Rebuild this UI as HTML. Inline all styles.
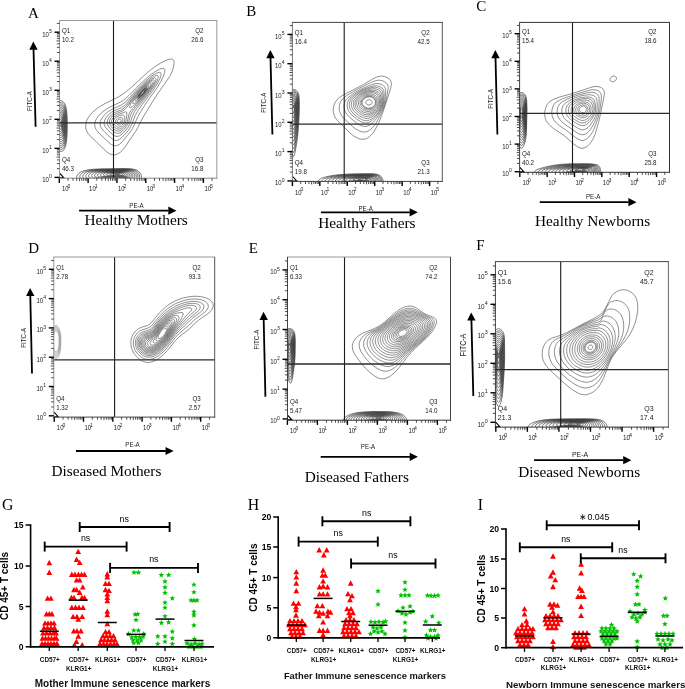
<!DOCTYPE html>
<html><head><meta charset="utf-8"><style>
html,body{margin:0;padding:0;background:#fff;}
svg{display:block;will-change:transform;}
</style></head><body>
<svg width="685" height="689" viewBox="0 0 685 689">
<rect width="685" height="689" fill="#fff"/>
<clipPath id="cA"><rect x="59.5" y="20.5" width="157.3" height="157.7"/></clipPath>
<path d="M114.8 154.8 113.2 154.9 111.2 154.5 109.2 153.6 106.8 151.9 103.6 149.1 96.2 141.6 90.6 136.4 88.2 133.6 87.0 131.6 86.3 130.0 85.8 128.0 85.7 126.0 85.8 124.0 86.2 122.0 86.9 120.0 88.0 118.0 89.9 115.2 92.5 112.4 95.2 109.9 98.4 107.5 104.0 104.1 118.0 97.2 121.8 94.8 125.7 92.0 132.4 86.4 147.2 72.7 151.2 69.4 154.8 66.7 160.8 62.9 166.4 60.2 168.8 59.4 170.4 59.1 171.6 59.0 172.8 59.4 173.6 60.3 174.0 61.6 174.0 63.6 173.7 66.0 173.0 68.8 172.1 71.6 171.0 74.0 169.5 76.8 159.2 91.5 151.6 103.2 142.8 117.6 137.8 127.6 135.8 131.2 129.2 140.7 125.0 147.2 122.4 150.4 120.0 152.5 117.2 154.1 114.8 154.8M116.4 145.6 114.8 145.8 113.2 145.4 111.6 144.6 110.0 143.5 107.6 141.4 98.8 132.8 96.7 130.4 95.9 129.2 95.2 127.6 94.9 126.0 94.8 124.4 94.9 122.8 95.3 121.2 96.7 118.4 98.1 116.4 100.3 114.0 102.8 111.7 105.2 109.9 110.0 107.1 120.0 102.3 122.6 100.8 125.2 98.8 129.2 95.2 143.2 81.2 147.6 77.3 152.0 73.9 156.0 71.1 159.6 69.2 162.4 68.3 164.0 68.5 164.7 69.2 164.9 70.0 164.7 72.4 163.4 76.4 161.0 81.2 157.5 87.2 147.2 101.5 140.8 111.4 138.0 116.4 133.9 125.6 131.8 129.6 129.5 132.8 122.0 142.2 119.2 144.5 117.6 145.3 116.4 145.6M116.8 140.5 115.6 140.5 114.4 140.2 111.6 138.5 109.2 136.4 103.5 130.8 101.5 128.4 100.3 126.0 100.1 123.2 100.6 120.8 102.0 118.0 104.9 114.4 106.8 112.6 108.8 111.2 112.8 108.9 121.0 105.2 124.4 102.9 127.6 99.8 135.8 90.8 140.4 86.0 145.2 81.4 150.0 77.4 153.2 75.1 156.4 73.2 158.8 72.4 159.6 72.3 160.4 72.5 160.8 72.9 161.1 73.6 161.0 75.6 160.0 78.4 158.2 82.0 155.9 86.0 152.7 90.8 141.9 104.8 137.6 111.2 135.2 115.6 131.8 124.4 129.6 128.4 127.0 132.0 122.0 137.5 119.2 139.6 116.8 140.5M117.2 136.4 116.0 136.3 114.8 135.9 112.0 134.1 107.4 129.6 105.1 126.8 104.3 124.8 104.1 122.4 104.7 120.0 106.0 117.6 108.3 114.8 111.2 112.4 114.4 110.7 121.2 107.8 122.8 106.8 124.4 105.6 126.8 103.1 133.7 94.8 138.7 89.2 143.6 84.3 148.4 80.1 151.6 77.8 154.4 76.1 156.4 75.4 157.7 75.6 158.1 76.0 158.3 76.8 158.1 78.4 157.4 80.4 155.8 83.6 153.0 88.0 149.0 93.6 137.8 107.2 134.8 111.2 132.8 115.2 129.8 124.0 127.8 127.6 125.3 130.8 122.0 134.1 119.6 135.8 118.4 136.2 117.2 136.4M118.4 133.3 117.2 133.3 116.0 133.0 113.6 131.7 110.4 128.8 108.2 126.0 107.4 124.0 107.2 122.0 107.6 120.0 108.9 117.6 110.8 115.3 113.2 113.5 115.6 112.2 121.2 110.0 124.0 108.2 126.8 105.3 132.6 97.6 136.2 93.2 139.9 89.2 143.6 85.5 147.6 81.9 151.2 79.4 154.0 78.1 154.8 77.9 155.6 78.2 155.9 78.8 156.0 79.6 155.3 82.0 153.4 85.6 151.0 89.2 145.5 96.4 134.4 108.8 132.0 112.0 130.5 115.2 128.4 122.8 127.4 124.8 126.2 126.8 124.4 129.1 122.0 131.5 120.4 132.6 118.4 133.3M119.6 130.8 117.6 131.1 115.6 130.4 113.2 128.7 110.8 126.0 109.7 124.0 109.4 122.0 109.8 120.0 110.8 118.0 112.4 116.1 114.4 114.6 116.8 113.4 122.0 111.3 124.8 109.5 127.2 106.9 131.8 100.0 135.1 95.6 138.1 92.0 141.5 88.4 145.6 84.5 149.2 81.7 152.0 80.2 152.8 80.0 153.6 80.0 154.0 80.4 154.1 80.8 153.8 82.8 152.7 85.2 150.7 88.4 147.5 92.8 143.6 97.4 139.2 102.2 132.5 108.8 130.8 110.8 129.8 112.4 129.0 114.0 127.4 121.2 125.8 124.8 124.5 126.8 122.8 128.7 121.2 130.0 119.6 130.8M130.4 107.7 129.7 107.6 129.6 106.8 130.1 105.2 131.2 102.8 134.2 98.0 137.9 93.2 142.4 88.3 146.8 84.4 150.0 82.3 151.2 81.9 152.1 82.0 152.4 82.8 152.3 83.6 151.1 86.4 148.5 90.4 145.2 94.6 141.2 99.0 136.8 103.2 132.8 106.4 130.4 107.7M119.6 128.9 118.0 129.1 116.4 128.6 114.8 127.5 112.9 125.6 112.0 124.2 111.5 122.8 111.5 121.2 112.0 119.6 112.6 118.4 113.6 117.2 116.0 115.5 118.4 114.4 124.8 112.1 125.6 111.9 126.4 111.9 126.8 112.8 126.8 114.8 126.2 119.6 125.5 122.4 124.5 124.4 123.0 126.4 121.2 128.1 119.6 128.9M134.0 103.7 133.2 103.8 132.8 103.4 132.9 102.4 133.3 101.2 135.3 97.6 138.3 93.6 142.0 89.5 145.6 86.2 148.8 84.0 149.6 83.7 150.4 83.7 150.7 84.0 150.7 84.8 150.0 86.8 148.0 90.0 145.6 93.2 142.4 96.9 139.2 100.0 136.4 102.3 134.0 103.7M120.0 126.9 118.8 127.1 117.6 127.0 116.4 126.4 115.2 125.4 114.3 124.4 113.6 123.0 113.4 121.6 113.6 120.4 114.1 119.2 114.8 118.3 116.0 117.3 117.2 116.6 119.2 115.7 121.2 115.2 122.8 114.9 123.6 115.1 124.4 115.8 124.7 117.2 124.7 119.6 124.2 121.6 123.5 123.2 122.5 124.8 121.2 126.1 120.0 126.9M136.4 100.9 135.6 101.1 135.2 100.8 135.2 100.0 135.4 99.2 136.7 96.8 139.2 93.4 142.0 90.3 144.8 87.7 147.2 86.0 148.0 85.6 148.8 85.6 149.0 86.4 148.5 88.0 147.2 90.1 145.2 92.8 142.8 95.6 140.4 97.9 138.0 99.9 136.4 100.9M119.6 124.9 118.8 125.0 118.0 124.8 116.7 124.0 116.0 123.2 115.6 122.4 115.6 120.8 116.4 119.3 117.6 118.3 119.6 117.5 120.8 117.3 121.6 117.4 122.4 117.9 122.8 118.8 122.8 120.0 122.6 121.2 122.1 122.4 121.3 123.6 120.4 124.5 119.6 124.9M137.6 99.3 136.8 99.4 136.6 99.2 136.8 98.0 137.8 96.0 139.6 93.5 142.0 90.8 144.4 88.5 146.4 87.1 147.2 86.8 147.7 86.8 147.9 87.2 147.9 87.6 147.4 88.8 144.8 92.7 140.8 97.0 139.2 98.3 137.6 99.3M119.6 123.0 118.8 123.1 118.0 122.8 117.4 122.0 117.3 121.2 117.6 120.4 118.4 119.6 119.6 119.2 120.4 119.2 121.0 119.6 121.1 120.8 120.7 122.0 119.6 123.0M138.8 98.0 138.0 98.3 137.6 98.1 137.6 97.6 138.3 96.0 139.9 93.6 142.0 91.2 144.0 89.3 145.6 88.1 146.8 87.7 147.0 88.0 147.0 88.4 146.8 89.2 144.8 92.2 141.6 95.8 138.8 98.0M138.8 97.7 138.4 97.8 138.0 97.6 138.1 96.8 139.0 95.2 140.4 93.2 144.0 89.5 145.6 88.4 146.4 88.1 146.7 88.4 146.4 89.6 144.4 92.5 141.2 96.0 138.8 97.7M138.8 97.3 138.6 97.2 138.5 96.8 138.9 95.6 140.0 94.0 141.6 92.0 143.2 90.4 144.8 89.1 145.6 88.7 146.0 88.6 146.2 88.8 146.1 89.6 145.7 90.4 143.6 93.3 140.8 96.1 139.6 97.0 138.8 97.3M140.0 96.4 139.2 96.7 139.0 96.4 139.1 96.0 139.6 94.8 140.8 93.2 142.4 91.4 144.0 89.9 145.2 89.2 145.7 89.2 145.8 89.6 145.5 90.4 144.0 92.6 142.0 94.8 140.0 96.4M140.0 96.0 139.6 96.0 139.6 95.5 140.4 94.0 141.2 93.0 143.6 90.5 144.4 89.9 145.2 89.7 145.2 90.4 143.6 92.8 141.6 94.9 140.0 96.0M140.4 95.3 140.3 94.8 140.5 94.4 141.6 92.8 143.6 90.8 144.5 90.4 144.5 91.2 143.2 93.0 141.6 94.6 140.4 95.3" fill="none" stroke="#444" stroke-width="0.6" clip-path="url(#cA)"/>
<path d="M62.0 151.3 61.2 151.4 60.0 151.3 58.4 150.4 57.2 149.0 56.2 146.8 55.1 142.8 54.2 138.4 53.5 132.0 53.2 127.2 53.2 122.0 53.5 117.2 54.2 111.6 55.1 106.8 56.0 104.3 57.2 102.4 58.8 101.1 60.4 100.6 62.0 101.0 63.2 101.8 64.4 103.2 65.4 105.2 66.2 108.0 66.6 110.8 67.0 114.8 67.2 119.2 67.3 126.0 67.1 134.8 66.7 139.6 66.3 142.8 65.5 146.4 64.5 148.8 63.5 150.4 62.0 151.3M61.6 149.3 60.0 149.2 58.4 148.3 57.2 146.6 56.3 144.4 55.3 140.8 54.6 136.4 54.1 132.0 53.8 126.4 53.8 121.2 54.1 116.4 55.0 110.8 55.7 107.6 56.5 105.6 57.6 103.9 58.8 102.9 60.4 102.4 61.6 102.6 62.8 103.3 64.0 104.6 64.9 106.4 65.7 109.2 66.2 112.0 66.7 119.2 66.6 133.2 66.3 138.0 65.9 141.2 65.1 144.8 64.1 147.2 62.8 148.8 61.6 149.3M62.0 147.2 60.4 147.4 58.8 146.6 57.6 145.2 56.9 143.6 55.9 140.0 55.1 136.0 54.6 131.6 54.3 126.8 54.3 122.4 54.5 118.0 55.0 114.0 55.9 109.6 56.7 107.2 57.6 105.7 58.8 104.6 60.4 104.1 61.6 104.3 62.8 105.1 63.6 106.0 64.5 107.6 65.1 109.6 65.7 112.4 66.2 118.8 66.2 130.8 65.9 136.0 65.6 139.2 64.9 142.4 64.1 144.8 63.2 146.3 62.0 147.2M62.0 145.2 60.8 145.5 59.2 144.9 58.0 143.6 57.2 142.0 56.5 139.6 55.7 136.0 55.1 131.2 54.9 127.2 54.8 123.2 55.0 118.8 55.5 114.8 56.3 110.8 56.9 108.8 58.0 107.1 59.2 106.1 60.4 105.7 61.6 106.0 62.8 106.8 63.6 107.9 64.2 109.2 64.8 111.2 65.3 113.6 65.7 119.2 65.7 130.0 65.5 134.8 65.1 138.0 64.6 140.8 63.9 142.8 63.2 144.1 62.0 145.2M62.0 143.2 60.8 143.5 59.6 143.2 58.4 142.1 57.6 140.5 56.9 138.4 56.1 134.8 55.4 127.2 55.3 123.2 55.5 119.6 55.9 116.0 56.7 112.0 57.2 110.3 58.0 108.9 59.2 107.8 60.4 107.4 61.6 107.7 62.4 108.2 63.2 109.2 63.8 110.4 64.7 114.0 65.2 119.6 65.2 128.8 64.7 136.4 64.3 138.8 63.6 141.0 62.8 142.5 62.0 143.2M61.6 141.4 60.4 141.5 59.2 140.9 58.4 139.9 57.7 138.4 57.0 136.0 56.5 133.2 55.9 126.0 56.1 119.2 57.1 113.2 57.6 111.6 58.4 110.2 59.2 109.5 60.4 109.1 61.6 109.4 62.4 110.0 63.6 112.0 64.3 115.2 64.8 120.0 64.7 129.2 64.3 135.2 63.8 137.6 63.2 139.5 62.4 140.8 61.6 141.4M61.6 139.4 60.8 139.6 59.6 139.2 58.8 138.3 58.2 137.2 57.1 132.8 56.4 126.4 56.5 120.4 57.4 114.8 57.9 113.2 58.5 112.0 59.2 111.2 60.4 110.8 61.2 110.9 62.0 111.4 63.2 113.2 63.9 116.0 64.3 120.4 64.3 128.4 63.9 134.0 62.9 137.6 62.4 138.6 61.6 139.4M60.8 137.6 60.0 137.4 59.2 136.8 58.1 134.4 57.3 130.4 56.9 124.8 57.1 120.0 57.9 115.6 58.8 113.5 59.6 112.7 60.4 112.4 61.2 112.6 62.0 113.2 62.9 114.8 63.6 118.0 63.8 122.4 63.7 129.6 63.3 133.6 62.4 136.4 61.6 137.3 60.8 137.6M60.8 135.6 60.0 135.4 59.6 135.1 58.9 134.0 58.5 132.8 57.8 129.2 57.4 124.8 57.6 120.4 58.3 116.8 59.2 114.8 59.6 114.5 60.4 114.1 61.2 114.3 61.6 114.6 62.4 116.0 63.1 118.8 63.3 122.4 63.2 128.8 62.8 132.4 62.0 134.7 61.6 135.2 60.8 135.6M60.8 133.6 60.0 133.4 59.6 133.0 58.8 131.2 58.3 128.4 58.0 124.8 58.1 121.6 58.6 118.4 59.2 116.8 59.6 116.3 60.4 115.8 61.0 116.0 61.5 116.4 62.1 117.6 62.6 119.6 62.8 122.8 62.7 127.6 62.4 130.8 61.6 133.0 60.8 133.6M61.2 131.2 60.8 131.5 60.4 131.5 59.6 130.7 58.9 128.4 58.6 125.6 58.6 122.8 58.9 120.0 59.6 118.2 60.4 117.6 61.2 117.9 61.6 118.6 62.0 119.9 62.3 122.0 62.1 128.4 61.7 130.4 61.2 131.2M60.8 129.3 60.4 129.3 60.0 129.0 59.6 128.1 59.1 124.8 59.2 122.8 59.4 121.2 59.8 120.0 60.4 119.5 60.8 119.5 61.3 120.4 61.7 123.2 61.6 127.2 61.2 128.8 60.8 129.3M60.8 126.5 60.4 126.7 60.0 126.0 59.8 124.8 59.9 122.8 60.4 121.7 60.8 122.0 61.0 123.2 61.1 124.8 60.8 126.5" fill="none" stroke="#222" stroke-width="0.6" clip-path="url(#cA)"/>
<path d="M137.2 180.8 127.6 180.4 114.0 180.8 84.8 180.7 81.2 180.2 78.4 179.3 77.6 178.8 76.9 178.0 76.7 176.8 77.1 175.6 77.8 174.4 79.0 173.2 80.4 172.1 83.6 170.8 88.0 169.9 93.2 169.3 100.8 168.9 122.0 168.6 129.2 168.7 133.2 169.1 136.4 170.0 138.5 171.2 140.3 173.2 141.1 174.8 141.4 176.0 141.4 177.6 141.1 178.8 140.6 179.6 139.6 180.4 137.2 180.8M137.2 180.1 134.4 180.3 126.4 179.9 114.4 180.3 87.6 180.2 84.4 179.8 82.0 179.1 80.2 178.0 79.8 176.8 80.1 175.6 80.9 174.4 82.0 173.2 83.1 172.4 85.8 171.2 90.0 170.3 94.8 169.7 102.0 169.3 121.6 169.0 128.0 169.1 131.6 169.4 134.4 170.1 136.4 171.0 137.9 172.4 138.8 173.6 139.3 174.8 139.6 176.0 139.6 177.2 139.4 178.4 138.9 179.2 138.0 179.8 137.2 180.1M135.6 179.6 133.2 179.8 125.2 179.4 114.0 179.8 90.0 179.7 86.8 179.3 84.4 178.6 83.1 177.6 82.7 176.4 83.0 175.6 83.7 174.4 85.6 172.6 88.0 171.5 92.0 170.6 96.4 170.1 102.8 169.7 121.2 169.4 127.2 169.5 130.8 169.8 133.2 170.4 135.2 171.4 136.6 172.8 137.7 174.8 138.0 176.0 137.9 177.2 137.7 178.0 137.2 178.8 136.7 179.2 135.6 179.6M133.2 179.2 125.2 179.0 114.8 179.3 92.4 179.2 89.6 178.9 87.6 178.3 86.3 177.6 85.9 177.2 85.7 176.4 85.8 175.6 86.5 174.4 88.2 172.8 90.8 171.7 94.0 170.9 98.0 170.4 104.0 170.1 120.8 169.8 126.4 169.9 129.6 170.2 132.1 170.8 134.0 171.8 135.3 173.2 135.9 174.4 136.3 175.6 136.3 176.8 136.1 177.6 135.6 178.4 135.0 178.8 133.2 179.2M117.2 178.8 97.2 178.8 93.6 178.6 91.2 178.2 89.7 177.6 88.8 176.8 88.6 176.0 88.8 175.2 89.3 174.4 90.5 173.2 91.9 172.4 94.4 171.6 97.6 171.0 101.2 170.7 111.6 170.3 123.6 170.2 126.8 170.4 129.6 170.8 131.6 171.4 133.0 172.4 133.9 173.6 134.6 175.2 134.7 176.4 134.3 177.6 133.6 178.2 132.8 178.5 130.8 178.7 123.6 178.5 117.2 178.8M131.2 178.1 129.2 178.2 123.2 178.1 115.2 178.4 97.2 178.2 94.8 177.9 92.8 177.3 92.0 176.8 91.7 176.4 91.6 175.6 91.9 174.8 92.5 174.0 94.1 172.8 96.2 172.0 98.8 171.5 102.4 171.1 107.2 170.8 120.4 170.6 124.8 170.7 127.2 170.9 129.2 171.3 130.7 172.0 131.7 172.8 132.7 174.4 133.0 176.0 132.7 177.2 132.0 177.8 131.2 178.1M129.2 177.6 122.8 177.6 115.2 177.9 99.6 177.7 97.6 177.5 96.0 177.1 94.8 176.4 94.5 175.6 95.0 174.4 96.3 173.2 98.1 172.4 100.8 171.8 104.4 171.4 108.8 171.2 124.0 171.1 128.0 171.7 129.5 172.4 130.4 173.2 131.2 174.8 131.2 176.4 130.6 177.2 129.2 177.6M120.0 177.2 114.8 177.4 101.2 177.1 99.2 176.8 98.2 176.4 97.7 176.0 97.5 175.2 98.2 174.0 99.2 173.2 100.8 172.6 102.8 172.2 108.4 171.6 119.2 171.4 123.6 171.5 126.7 172.0 127.7 172.4 128.7 173.2 129.6 174.8 129.7 175.6 129.4 176.4 128.4 177.0 126.8 177.2 120.0 177.2M118.4 176.8 104.0 176.6 102.2 176.4 101.2 176.1 100.6 175.6 100.4 175.2 100.7 174.4 101.5 173.6 103.2 172.9 104.8 172.5 109.6 172.0 118.0 171.8 122.8 171.9 125.6 172.4 127.0 173.2 127.7 174.0 127.9 174.8 127.9 175.6 127.7 176.0 126.8 176.5 125.2 176.7 118.4 176.8M124.8 176.0 116.4 176.3 107.2 176.2 105.4 176.0 104.0 175.6 103.5 175.2 103.5 174.8 103.9 174.0 104.5 173.6 105.5 173.2 107.6 172.7 112.8 172.3 121.6 172.3 124.4 172.8 125.7 173.6 126.2 174.4 126.2 175.2 126.0 175.6 124.8 176.0M122.4 175.6 116.4 175.8 109.2 175.6 107.1 175.2 106.6 174.8 106.6 174.4 107.7 173.6 110.4 173.0 114.4 172.7 120.8 172.7 123.3 173.2 124.3 174.0 124.5 174.8 124.2 175.2 122.4 175.6M118.8 175.2 112.4 175.1 110.3 174.8 109.8 174.4 110.2 174.0 112.0 173.5 118.4 173.1 120.2 173.2 121.6 173.5 122.5 174.0 122.6 174.4 122.2 174.8 121.6 175.0 118.8 175.2M119.2 174.4 115.2 174.4 115.0 174.4 114.9 174.0 118.0 173.8 119.7 174.0 119.2 174.4" fill="none" stroke="#222" stroke-width="0.6" clip-path="url(#cA)"/>
<polyline points="59.8,173.3 63.8,177.8 59.8,177.8" fill="none" stroke="#000" stroke-width="1.1"/>
<line x1="113.50" y1="20.50" x2="113.50" y2="178.20" stroke="#1a1a1a" stroke-width="1.1" />
<line x1="59.50" y1="122.80" x2="216.80" y2="122.80" stroke="#2a2a2a" stroke-width="1.3" />
<line x1="59.00" y1="20.50" x2="217.30" y2="20.50" stroke="#999" stroke-width="1.0" />
<line x1="216.80" y1="20.50" x2="216.80" y2="178.70" stroke="#999" stroke-width="1.0" />
<line x1="59.00" y1="178.20" x2="217.30" y2="178.20" stroke="#888" stroke-width="1.0" />
<line x1="59.50" y1="20.50" x2="59.50" y2="178.70" stroke="#999" stroke-width="1.0" />
<line x1="59.30" y1="178.20" x2="59.30" y2="182.90" stroke="#000" stroke-width="1.4" />
<text transform="translate(61.90 191.30) scale(1.0 1.12)" font-size="6.0" text-anchor="start" font-family='"Liberation Sans", sans-serif' font-weight="normal" fill="#222" >10</text>
<text transform="translate(67.48 187.70) scale(1.0 1.12)" font-size="5.1" text-anchor="start" font-family='"Liberation Sans", sans-serif' font-weight="normal" fill="#222" >0</text>
<line x1="54.50" y1="177.40" x2="59.50" y2="177.40" stroke="#000" stroke-width="1.4" />
<text transform="translate(48.80 181.90) scale(1.0 1.12)" font-size="6.0" text-anchor="end" font-family='"Liberation Sans", sans-serif' font-weight="normal" fill="#222" >10</text>
<text transform="translate(51.80 178.00) scale(1.0 1.12)" font-size="5.1" text-anchor="end" font-family='"Liberation Sans", sans-serif' font-weight="normal" fill="#222" >0</text>
<line x1="67.98" y1="178.20" x2="67.98" y2="180.80" stroke="#222" stroke-width="0.8" />
<line x1="56.90" y1="168.66" x2="59.50" y2="168.66" stroke="#222" stroke-width="0.8" />
<line x1="73.05" y1="178.20" x2="73.05" y2="180.80" stroke="#222" stroke-width="0.8" />
<line x1="56.90" y1="163.54" x2="59.50" y2="163.54" stroke="#222" stroke-width="0.8" />
<line x1="76.65" y1="178.20" x2="76.65" y2="180.80" stroke="#222" stroke-width="0.8" />
<line x1="56.90" y1="159.92" x2="59.50" y2="159.92" stroke="#222" stroke-width="0.8" />
<line x1="79.44" y1="178.20" x2="79.44" y2="181.20" stroke="#222" stroke-width="0.8" />
<line x1="56.50" y1="157.10" x2="59.50" y2="157.10" stroke="#222" stroke-width="0.8" />
<line x1="81.73" y1="178.20" x2="81.73" y2="180.80" stroke="#222" stroke-width="0.8" />
<line x1="56.90" y1="154.80" x2="59.50" y2="154.80" stroke="#222" stroke-width="0.8" />
<line x1="83.66" y1="178.20" x2="83.66" y2="180.80" stroke="#222" stroke-width="0.8" />
<line x1="56.90" y1="152.86" x2="59.50" y2="152.86" stroke="#222" stroke-width="0.8" />
<line x1="85.33" y1="178.20" x2="85.33" y2="180.80" stroke="#222" stroke-width="0.8" />
<line x1="56.90" y1="151.17" x2="59.50" y2="151.17" stroke="#222" stroke-width="0.8" />
<line x1="86.80" y1="178.20" x2="86.80" y2="180.80" stroke="#222" stroke-width="0.8" />
<line x1="56.90" y1="149.69" x2="59.50" y2="149.69" stroke="#222" stroke-width="0.8" />
<line x1="88.12" y1="178.20" x2="88.12" y2="182.90" stroke="#000" stroke-width="1.4" />
<text transform="translate(89.12 191.30) scale(1.0 1.12)" font-size="6.0" text-anchor="start" font-family='"Liberation Sans", sans-serif' font-weight="normal" fill="#222" >10</text>
<text transform="translate(94.70 187.70) scale(1.0 1.12)" font-size="5.1" text-anchor="start" font-family='"Liberation Sans", sans-serif' font-weight="normal" fill="#222" >1</text>
<line x1="54.50" y1="148.36" x2="59.50" y2="148.36" stroke="#000" stroke-width="1.4" />
<text transform="translate(48.80 152.86) scale(1.0 1.12)" font-size="6.0" text-anchor="end" font-family='"Liberation Sans", sans-serif' font-weight="normal" fill="#222" >10</text>
<text transform="translate(51.80 148.96) scale(1.0 1.12)" font-size="5.1" text-anchor="end" font-family='"Liberation Sans", sans-serif' font-weight="normal" fill="#222" >1</text>
<line x1="96.80" y1="178.20" x2="96.80" y2="180.80" stroke="#222" stroke-width="0.8" />
<line x1="56.90" y1="139.62" x2="59.50" y2="139.62" stroke="#222" stroke-width="0.8" />
<line x1="101.87" y1="178.20" x2="101.87" y2="180.80" stroke="#222" stroke-width="0.8" />
<line x1="56.90" y1="134.50" x2="59.50" y2="134.50" stroke="#222" stroke-width="0.8" />
<line x1="105.47" y1="178.20" x2="105.47" y2="180.80" stroke="#222" stroke-width="0.8" />
<line x1="56.90" y1="130.88" x2="59.50" y2="130.88" stroke="#222" stroke-width="0.8" />
<line x1="108.26" y1="178.20" x2="108.26" y2="181.20" stroke="#222" stroke-width="0.8" />
<line x1="56.50" y1="128.06" x2="59.50" y2="128.06" stroke="#222" stroke-width="0.8" />
<line x1="110.55" y1="178.20" x2="110.55" y2="180.80" stroke="#222" stroke-width="0.8" />
<line x1="56.90" y1="125.76" x2="59.50" y2="125.76" stroke="#222" stroke-width="0.8" />
<line x1="112.48" y1="178.20" x2="112.48" y2="180.80" stroke="#222" stroke-width="0.8" />
<line x1="56.90" y1="123.82" x2="59.50" y2="123.82" stroke="#222" stroke-width="0.8" />
<line x1="114.15" y1="178.20" x2="114.15" y2="180.80" stroke="#222" stroke-width="0.8" />
<line x1="56.90" y1="122.13" x2="59.50" y2="122.13" stroke="#222" stroke-width="0.8" />
<line x1="115.62" y1="178.20" x2="115.62" y2="180.80" stroke="#222" stroke-width="0.8" />
<line x1="56.90" y1="120.65" x2="59.50" y2="120.65" stroke="#222" stroke-width="0.8" />
<line x1="116.94" y1="178.20" x2="116.94" y2="182.90" stroke="#000" stroke-width="1.4" />
<text transform="translate(117.94 191.30) scale(1.0 1.12)" font-size="6.0" text-anchor="start" font-family='"Liberation Sans", sans-serif' font-weight="normal" fill="#222" >10</text>
<text transform="translate(123.52 187.70) scale(1.0 1.12)" font-size="5.1" text-anchor="start" font-family='"Liberation Sans", sans-serif' font-weight="normal" fill="#222" >2</text>
<line x1="54.50" y1="119.32" x2="59.50" y2="119.32" stroke="#000" stroke-width="1.4" />
<text transform="translate(48.80 123.82) scale(1.0 1.12)" font-size="6.0" text-anchor="end" font-family='"Liberation Sans", sans-serif' font-weight="normal" fill="#222" >10</text>
<text transform="translate(51.80 119.92) scale(1.0 1.12)" font-size="5.1" text-anchor="end" font-family='"Liberation Sans", sans-serif' font-weight="normal" fill="#222" >2</text>
<line x1="125.62" y1="178.20" x2="125.62" y2="180.80" stroke="#222" stroke-width="0.8" />
<line x1="56.90" y1="110.58" x2="59.50" y2="110.58" stroke="#222" stroke-width="0.8" />
<line x1="130.69" y1="178.20" x2="130.69" y2="180.80" stroke="#222" stroke-width="0.8" />
<line x1="56.90" y1="105.46" x2="59.50" y2="105.46" stroke="#222" stroke-width="0.8" />
<line x1="134.29" y1="178.20" x2="134.29" y2="180.80" stroke="#222" stroke-width="0.8" />
<line x1="56.90" y1="101.84" x2="59.50" y2="101.84" stroke="#222" stroke-width="0.8" />
<line x1="137.08" y1="178.20" x2="137.08" y2="181.20" stroke="#222" stroke-width="0.8" />
<line x1="56.50" y1="99.02" x2="59.50" y2="99.02" stroke="#222" stroke-width="0.8" />
<line x1="139.37" y1="178.20" x2="139.37" y2="180.80" stroke="#222" stroke-width="0.8" />
<line x1="56.90" y1="96.72" x2="59.50" y2="96.72" stroke="#222" stroke-width="0.8" />
<line x1="141.30" y1="178.20" x2="141.30" y2="180.80" stroke="#222" stroke-width="0.8" />
<line x1="56.90" y1="94.78" x2="59.50" y2="94.78" stroke="#222" stroke-width="0.8" />
<line x1="142.97" y1="178.20" x2="142.97" y2="180.80" stroke="#222" stroke-width="0.8" />
<line x1="56.90" y1="93.09" x2="59.50" y2="93.09" stroke="#222" stroke-width="0.8" />
<line x1="144.44" y1="178.20" x2="144.44" y2="180.80" stroke="#222" stroke-width="0.8" />
<line x1="56.90" y1="91.61" x2="59.50" y2="91.61" stroke="#222" stroke-width="0.8" />
<line x1="145.76" y1="178.20" x2="145.76" y2="182.90" stroke="#000" stroke-width="1.4" />
<text transform="translate(146.76 191.30) scale(1.0 1.12)" font-size="6.0" text-anchor="start" font-family='"Liberation Sans", sans-serif' font-weight="normal" fill="#222" >10</text>
<text transform="translate(152.34 187.70) scale(1.0 1.12)" font-size="5.1" text-anchor="start" font-family='"Liberation Sans", sans-serif' font-weight="normal" fill="#222" >3</text>
<line x1="54.50" y1="90.28" x2="59.50" y2="90.28" stroke="#000" stroke-width="1.4" />
<text transform="translate(48.80 94.78) scale(1.0 1.12)" font-size="6.0" text-anchor="end" font-family='"Liberation Sans", sans-serif' font-weight="normal" fill="#222" >10</text>
<text transform="translate(51.80 90.88) scale(1.0 1.12)" font-size="5.1" text-anchor="end" font-family='"Liberation Sans", sans-serif' font-weight="normal" fill="#222" >3</text>
<line x1="154.44" y1="178.20" x2="154.44" y2="180.80" stroke="#222" stroke-width="0.8" />
<line x1="56.90" y1="81.54" x2="59.50" y2="81.54" stroke="#222" stroke-width="0.8" />
<line x1="159.51" y1="178.20" x2="159.51" y2="180.80" stroke="#222" stroke-width="0.8" />
<line x1="56.90" y1="76.42" x2="59.50" y2="76.42" stroke="#222" stroke-width="0.8" />
<line x1="163.11" y1="178.20" x2="163.11" y2="180.80" stroke="#222" stroke-width="0.8" />
<line x1="56.90" y1="72.80" x2="59.50" y2="72.80" stroke="#222" stroke-width="0.8" />
<line x1="165.90" y1="178.20" x2="165.90" y2="181.20" stroke="#222" stroke-width="0.8" />
<line x1="56.50" y1="69.98" x2="59.50" y2="69.98" stroke="#222" stroke-width="0.8" />
<line x1="168.19" y1="178.20" x2="168.19" y2="180.80" stroke="#222" stroke-width="0.8" />
<line x1="56.90" y1="67.68" x2="59.50" y2="67.68" stroke="#222" stroke-width="0.8" />
<line x1="170.12" y1="178.20" x2="170.12" y2="180.80" stroke="#222" stroke-width="0.8" />
<line x1="56.90" y1="65.74" x2="59.50" y2="65.74" stroke="#222" stroke-width="0.8" />
<line x1="171.79" y1="178.20" x2="171.79" y2="180.80" stroke="#222" stroke-width="0.8" />
<line x1="56.90" y1="64.05" x2="59.50" y2="64.05" stroke="#222" stroke-width="0.8" />
<line x1="173.26" y1="178.20" x2="173.26" y2="180.80" stroke="#222" stroke-width="0.8" />
<line x1="56.90" y1="62.57" x2="59.50" y2="62.57" stroke="#222" stroke-width="0.8" />
<line x1="174.58" y1="178.20" x2="174.58" y2="182.90" stroke="#000" stroke-width="1.4" />
<text transform="translate(175.58 191.30) scale(1.0 1.12)" font-size="6.0" text-anchor="start" font-family='"Liberation Sans", sans-serif' font-weight="normal" fill="#222" >10</text>
<text transform="translate(181.16 187.70) scale(1.0 1.12)" font-size="5.1" text-anchor="start" font-family='"Liberation Sans", sans-serif' font-weight="normal" fill="#222" >4</text>
<line x1="54.50" y1="61.24" x2="59.50" y2="61.24" stroke="#000" stroke-width="1.4" />
<text transform="translate(48.80 65.74) scale(1.0 1.12)" font-size="6.0" text-anchor="end" font-family='"Liberation Sans", sans-serif' font-weight="normal" fill="#222" >10</text>
<text transform="translate(51.80 61.84) scale(1.0 1.12)" font-size="5.1" text-anchor="end" font-family='"Liberation Sans", sans-serif' font-weight="normal" fill="#222" >4</text>
<line x1="183.26" y1="178.20" x2="183.26" y2="180.80" stroke="#222" stroke-width="0.8" />
<line x1="56.90" y1="52.50" x2="59.50" y2="52.50" stroke="#222" stroke-width="0.8" />
<line x1="188.33" y1="178.20" x2="188.33" y2="180.80" stroke="#222" stroke-width="0.8" />
<line x1="56.90" y1="47.38" x2="59.50" y2="47.38" stroke="#222" stroke-width="0.8" />
<line x1="191.93" y1="178.20" x2="191.93" y2="180.80" stroke="#222" stroke-width="0.8" />
<line x1="56.90" y1="43.76" x2="59.50" y2="43.76" stroke="#222" stroke-width="0.8" />
<line x1="194.72" y1="178.20" x2="194.72" y2="181.20" stroke="#222" stroke-width="0.8" />
<line x1="56.50" y1="40.94" x2="59.50" y2="40.94" stroke="#222" stroke-width="0.8" />
<line x1="197.01" y1="178.20" x2="197.01" y2="180.80" stroke="#222" stroke-width="0.8" />
<line x1="56.90" y1="38.64" x2="59.50" y2="38.64" stroke="#222" stroke-width="0.8" />
<line x1="198.94" y1="178.20" x2="198.94" y2="180.80" stroke="#222" stroke-width="0.8" />
<line x1="56.90" y1="36.70" x2="59.50" y2="36.70" stroke="#222" stroke-width="0.8" />
<line x1="200.61" y1="178.20" x2="200.61" y2="180.80" stroke="#222" stroke-width="0.8" />
<line x1="56.90" y1="35.01" x2="59.50" y2="35.01" stroke="#222" stroke-width="0.8" />
<line x1="202.08" y1="178.20" x2="202.08" y2="180.80" stroke="#222" stroke-width="0.8" />
<line x1="56.90" y1="33.53" x2="59.50" y2="33.53" stroke="#222" stroke-width="0.8" />
<line x1="203.40" y1="178.20" x2="203.40" y2="182.90" stroke="#000" stroke-width="1.4" />
<text transform="translate(204.40 191.30) scale(1.0 1.12)" font-size="6.0" text-anchor="start" font-family='"Liberation Sans", sans-serif' font-weight="normal" fill="#222" >10</text>
<text transform="translate(209.98 187.70) scale(1.0 1.12)" font-size="5.1" text-anchor="start" font-family='"Liberation Sans", sans-serif' font-weight="normal" fill="#222" >5</text>
<line x1="54.50" y1="32.20" x2="59.50" y2="32.20" stroke="#000" stroke-width="1.4" />
<text transform="translate(48.80 36.70) scale(1.0 1.12)" font-size="6.0" text-anchor="end" font-family='"Liberation Sans", sans-serif' font-weight="normal" fill="#222" >10</text>
<text transform="translate(51.80 32.80) scale(1.0 1.12)" font-size="5.1" text-anchor="end" font-family='"Liberation Sans", sans-serif' font-weight="normal" fill="#222" >5</text>
<line x1="212.08" y1="178.20" x2="212.08" y2="180.80" stroke="#222" stroke-width="0.8" />
<line x1="56.90" y1="23.46" x2="59.50" y2="23.46" stroke="#222" stroke-width="0.8" />
<text transform="translate(61.90 32.50) scale(1.0 1.12)" font-size="6.2" text-anchor="start" font-family='"Liberation Sans", sans-serif' font-weight="normal" fill="#222" >Q1</text>
<text transform="translate(61.90 41.70) scale(1.0 1.12)" font-size="6.2" text-anchor="start" font-family='"Liberation Sans", sans-serif' font-weight="normal" fill="#222" >10.2</text>
<text transform="translate(203.40 32.50) scale(1.0 1.12)" font-size="6.2" text-anchor="end" font-family='"Liberation Sans", sans-serif' font-weight="normal" fill="#222" >Q2</text>
<text transform="translate(203.40 41.70) scale(1.0 1.12)" font-size="6.2" text-anchor="end" font-family='"Liberation Sans", sans-serif' font-weight="normal" fill="#222" >26.6</text>
<text transform="translate(61.90 161.60) scale(1.0 1.12)" font-size="6.2" text-anchor="start" font-family='"Liberation Sans", sans-serif' font-weight="normal" fill="#222" >Q4</text>
<text transform="translate(61.90 170.80) scale(1.0 1.12)" font-size="6.2" text-anchor="start" font-family='"Liberation Sans", sans-serif' font-weight="normal" fill="#222" >46.3</text>
<text transform="translate(203.40 161.60) scale(1.0 1.12)" font-size="6.2" text-anchor="end" font-family='"Liberation Sans", sans-serif' font-weight="normal" fill="#222" >Q3</text>
<text transform="translate(203.40 170.80) scale(1.0 1.12)" font-size="6.2" text-anchor="end" font-family='"Liberation Sans", sans-serif' font-weight="normal" fill="#222" >16.8</text>
<line x1="33.52" y1="49.20" x2="35.60" y2="126.70" stroke="#000" stroke-width="1.8" />
<polygon points="33.3,41.5 29.3,49.7 37.7,49.7" fill="#000"/>
<text transform="translate(31.60 101.00) rotate(-90) scale(1 1.2)" font-size="6.2" text-anchor="middle" font-family='"Liberation Sans", sans-serif' fill="#222">FITC-A</text>
<line x1="79.10" y1="210.70" x2="168.50" y2="210.70" stroke="#000" stroke-width="1.8" />
<polygon points="176.5,210.7 168.3,206.6 168.3,214.8" fill="#000"/>
<text transform="translate(136.50 207.50) scale(1.0 1.12)" font-size="6.2" text-anchor="middle" font-family='"Liberation Sans", sans-serif' font-weight="normal" fill="#222" >PE-A</text>
<text x="84.50" y="224.70" font-size="15.3" text-anchor="start" font-family='"Liberation Serif", serif' font-weight="normal" fill="#000" >Healthy Mothers</text>
<text x="27.90" y="17.70" font-size="15" text-anchor="start" font-family='"Liberation Serif", serif' font-weight="normal" fill="#000" >A</text>
<clipPath id="cB"><rect x="292.4" y="22.4" width="149.90000000000003" height="159.0"/></clipPath>
<path d="M335.2 102.4 336.3 100.7 337.6 99.1 339.2 97.7 341.8 95.9 347.4 92.8 361.1 85.8 372.7 79.0 376.5 77.2 379.0 76.4 380.7 76.2 382.4 76.1 384.8 76.6 387.1 77.5 389.1 78.8 390.2 80.0 391.0 81.5 391.3 83.3 391.3 85.3 390.1 90.2 385.5 104.6 381.4 116.1 379.0 122.1 375.9 128.3 374.3 131.0 372.3 133.8 370.7 135.5 369.0 137.1 366.1 138.8 364.1 139.3 361.2 139.2 358.3 138.5 354.8 136.7 352.4 135.1 350.2 133.2 337.5 120.6 335.8 118.3 334.8 116.6 333.8 113.9 333.3 112.0 333.2 110.0 333.5 107.1 334.0 105.2 335.2 102.4ZM340.4 102.4 341.6 100.2 343.3 98.3 345.2 96.7 349.0 94.1 353.8 91.3 358.5 88.7 370.5 82.7 374.1 81.2 376.1 80.6 378.2 80.2 380.3 80.3 382.3 80.7 384.2 81.5 385.9 82.6 387.3 84.1 387.9 85.4 388.2 86.9 388.1 89.3 386.4 98.7 384.9 104.5 383.5 108.4 381.8 112.3 377.9 119.9 375.8 123.3 374.0 125.8 372.3 127.7 370.4 129.6 368.2 131.0 366.7 131.7 364.3 132.0 362.0 131.8 359.7 131.1 356.9 129.7 354.9 128.4 352.5 126.4 343.5 118.0 342.0 116.2 340.8 114.1 339.8 111.9 339.4 110.3 339.2 108.7 339.3 106.3 339.6 104.7 340.4 102.4ZM344.7 102.4 345.9 100.0 347.3 98.4 350.3 95.8 353.9 93.1 357.5 90.9 361.3 89.0 371.8 84.5 374.0 83.9 376.2 83.5 378.0 83.6 379.7 83.9 381.9 84.7 383.3 85.6 384.5 86.9 385.3 88.4 385.7 90.3 385.7 92.2 385.1 99.9 384.0 104.8 382.3 109.2 378.8 115.2 374.9 120.5 371.3 124.1 369.6 125.3 367.8 126.1 365.8 126.5 363.9 126.4 361.4 125.7 359.1 124.7 356.9 123.3 354.9 121.8 348.2 115.9 346.9 114.4 345.8 112.7 344.9 110.9 344.3 109.0 344.1 107.7 344.0 105.7 344.7 102.4ZM347.6 102.4 348.5 100.2 349.9 98.3 352.4 96.0 355.5 93.6 358.7 91.6 361.8 90.0 369.8 86.9 372.5 86.1 374.4 85.8 376.4 85.7 378.4 86.1 380.3 86.9 382.0 88.0 383.0 89.1 383.7 90.5 384.0 92.1 384.2 95.1 384.1 100.4 383.3 104.3 381.9 108.1 379.2 112.6 375.6 117.2 371.9 120.6 370.0 121.9 368.5 122.6 366.8 123.0 365.2 123.0 363.0 122.5 361.0 121.8 357.2 119.5 351.7 114.9 349.1 111.9 348.2 110.4 347.6 108.7 347.1 105.9 347.2 104.1 347.6 102.4ZM349.6 102.4 350.3 100.4 351.5 98.7 353.6 96.5 356.4 94.2 359.0 92.4 361.6 91.0 364.5 89.8 367.9 88.6 373.0 87.3 375.3 87.2 377.1 87.5 379.2 88.3 380.8 89.3 381.7 90.3 382.6 92.0 383.2 96.1 383.3 100.5 382.7 104.2 381.3 107.9 378.9 111.8 375.4 115.8 371.6 118.9 369.9 119.9 368.5 120.4 367.1 120.7 365.6 120.7 363.7 120.3 361.8 119.7 358.1 117.5 353.5 113.7 351.1 110.9 349.7 108.1 349.3 105.5 349.3 104.0 349.6 102.4ZM351.5 102.4 352.1 100.6 353.1 99.0 355.2 96.7 357.3 94.8 359.4 93.3 361.8 92.0 364.5 90.8 367.4 89.9 370.4 89.1 372.7 88.8 374.7 88.7 376.3 89.0 378.2 89.8 379.9 90.9 380.9 92.2 381.6 93.8 382.3 97.7 382.4 101.3 381.9 104.4 380.6 107.6 378.4 110.9 375.6 113.9 372.0 116.7 369.0 118.2 367.7 118.5 366.0 118.5 362.7 117.6 359.3 115.8 355.5 112.8 353.3 110.4 352.0 107.9 351.3 105.2 351.5 102.4ZM353.5 102.4 354.1 100.4 355.4 98.4 357.5 96.2 359.7 94.4 362.1 93.0 364.9 91.8 368.1 90.8 371.2 90.3 373.3 90.2 375.1 90.4 377.1 91.2 378.7 92.2 379.6 93.3 380.3 94.6 381.0 97.1 381.4 99.1 381.4 102.1 380.9 104.6 379.9 107.2 378.3 109.6 376.0 112.0 373.2 114.2 370.4 115.8 367.9 116.5 365.3 116.3 362.4 115.3 359.5 113.5 356.5 111.0 354.9 109.1 353.8 106.9 353.4 104.9 353.5 102.4ZM355.1 102.4 355.6 100.6 356.7 98.8 358.5 96.7 360.4 95.1 362.7 93.7 365.0 92.7 367.9 91.9 370.7 91.5 372.9 91.4 374.8 91.8 376.5 92.6 377.9 93.5 378.7 94.5 379.5 96.0 380.1 98.1 380.5 100.3 380.5 102.7 379.9 105.0 378.9 107.1 377.4 109.2 375.4 111.2 372.8 113.1 370.2 114.3 368.0 114.8 365.7 114.6 363.2 113.8 360.6 112.2 358.2 110.3 356.5 108.4 355.5 106.4 355.1 104.6 355.1 102.4ZM356.7 102.4 357.2 100.5 358.2 98.9 359.7 97.1 361.5 95.6 363.5 94.4 365.6 93.6 368.0 93.0 370.5 92.6 372.4 92.7 374.1 93.0 375.7 93.7 376.9 94.5 377.8 95.6 378.6 97.2 379.2 99.1 379.6 101.0 379.5 102.9 378.9 105.1 378.0 107.0 376.7 108.6 374.8 110.4 372.6 111.8 370.1 112.9 368.1 113.2 366.1 113.0 363.9 112.3 361.6 111.0 359.5 109.3 358.0 107.6 357.1 105.9 356.7 104.3 356.7 102.4ZM358.5 102.4 358.8 100.8 359.6 99.3 360.9 97.7 362.4 96.4 364.0 95.5 365.8 94.7 367.9 94.2 370.1 94.0 371.7 94.0 373.4 94.4 374.7 95.0 375.9 95.8 376.9 97.0 377.7 98.5 378.2 100.2 378.4 101.7 378.3 103.4 377.8 105.0 376.9 106.7 375.7 108.1 374.1 109.4 372.1 110.5 370.2 111.2 368.3 111.6 366.4 111.3 364.5 110.7 362.5 109.6 360.9 108.3 359.7 106.9 358.9 105.4 358.5 103.8 358.5 102.4ZM360.1 102.4 360.4 101.0 361.1 99.6 362.0 98.4 363.3 97.2 364.6 96.4 366.2 95.8 367.9 95.4 369.8 95.2 371.3 95.3 372.7 95.6 374.0 96.2 375.0 97.0 375.9 97.9 376.6 99.3 377.0 100.7 377.2 102.0 377.1 103.5 376.6 104.9 375.9 106.1 374.8 107.3 373.4 108.4 371.8 109.3 370.2 109.8 368.6 110.1 367.0 109.9 365.4 109.5 363.7 108.6 362.3 107.5 361.3 106.3 360.6 105.1 360.1 103.8 360.1 102.4ZM361.4 102.4 361.6 101.2 362.1 100.2 362.9 99.1 363.9 98.1 365.1 97.3 366.5 96.7 369.3 96.2 371.8 96.5 372.9 97.0 374.0 97.7 374.9 98.6 375.5 99.7 376.0 100.9 376.1 102.0 376.0 103.3 375.6 104.5 375.0 105.6 374.0 106.7 372.9 107.5 371.6 108.2 370.0 108.7 368.7 108.9 367.3 108.7 365.8 108.3 364.5 107.6 363.4 106.7 362.5 105.7 361.9 104.7 361.5 103.6 361.4 102.4ZM362.2 102.4 362.3 101.3 362.7 100.4 363.4 99.4 364.4 98.5 366.7 97.3 369.4 96.8 371.7 97.1 373.6 98.2 375.0 100.1 375.5 102.2 375.0 104.4 374.4 105.4 373.6 106.3 371.3 107.7 370.0 108.0 368.7 108.2 367.5 108.1 366.1 107.7 363.9 106.3 362.6 104.5 362.2 103.5 362.2 102.4ZM365.9 102.4 366.1 101.4 366.8 100.5 367.8 100.0 369.1 99.8 370.2 100.0 371.2 100.5 371.9 101.4 372.1 102.4 371.9 103.4 371.2 104.3 370.2 104.8 368.9 105.0 367.8 104.8 366.7 104.2 366.1 103.4 365.9 102.4Z" fill="none" stroke="#444" stroke-width="0.6" clip-path="url(#cB)"/>
<path d="M293.8 156.2 293.4 156.4 293.0 155.9 292.2 153.4 290.8 146.0 289.6 138.0 288.4 124.4 287.6 106.0 287.9 97.2 288.3 94.8 288.7 93.2 289.5 91.6 290.6 90.5 291.8 89.8 293.4 89.4 295.0 89.7 296.2 90.3 297.4 91.5 298.3 93.2 298.8 94.8 299.1 97.2 299.4 104.4 299.3 111.6 298.9 120.4 297.7 136.0 296.8 142.4 295.3 151.2 294.6 154.2 293.8 156.2M293.8 152.2 293.4 152.4 293.0 151.9 292.3 149.6 291.2 144.0 289.9 136.0 288.8 123.2 288.1 106.0 288.3 98.0 289.0 94.4 289.8 92.8 290.6 91.8 291.8 91.1 293.4 90.7 295.0 91.0 296.2 91.7 297.2 92.8 297.9 94.0 298.3 95.6 298.7 98.0 298.9 104.4 298.5 118.4 297.5 132.0 296.8 138.0 295.5 145.6 294.6 150.1 293.8 152.2M293.8 148.4 293.4 148.6 293.0 148.1 292.3 145.6 290.9 138.0 290.1 132.4 289.1 121.2 288.5 106.0 288.7 98.8 289.4 95.2 290.0 94.0 291.0 92.8 292.2 92.1 293.4 91.9 294.6 92.1 295.8 92.6 296.8 93.6 297.5 94.8 297.9 96.4 298.2 98.4 298.5 104.4 298.1 117.6 297.2 130.4 296.4 136.4 295.2 143.2 294.6 146.4 293.8 148.4M293.4 144.8 292.7 143.6 292.1 141.2 290.3 130.0 289.3 116.8 288.9 105.6 289.2 99.2 289.8 96.0 290.4 94.8 291.4 93.8 292.2 93.3 293.4 93.1 294.6 93.2 295.8 93.9 296.6 94.8 297.2 96.0 297.6 97.6 297.9 99.6 298.1 105.6 297.6 118.0 296.7 129.6 295.9 135.2 294.8 141.6 294.2 143.8 293.8 144.7 293.4 144.8M293.8 140.9 293.4 141.0 293.0 140.5 292.6 139.3 291.7 134.8 290.8 129.2 289.9 119.6 289.4 106.4 289.5 100.4 290.1 97.2 290.6 96.0 291.4 95.0 292.2 94.5 293.4 94.3 294.6 94.5 295.4 94.9 296.2 95.7 296.8 96.8 297.4 100.0 297.7 104.8 297.3 116.0 296.5 126.8 295.1 136.0 294.4 139.2 293.8 140.9M293.4 137.2 293.0 136.7 292.2 133.7 290.9 125.2 290.1 114.8 289.8 105.6 289.9 100.8 290.5 98.0 291.4 96.4 292.2 95.8 293.4 95.4 294.6 95.7 295.4 96.2 296.2 97.2 296.5 98.0 297.1 100.8 297.2 105.6 296.8 116.4 296.0 126.0 294.6 134.6 293.8 137.1 293.4 137.2M293.8 133.2 293.4 133.4 293.0 132.8 292.6 131.6 291.5 125.2 290.7 117.2 290.2 106.4 290.3 101.6 290.9 98.8 291.8 97.3 292.6 96.8 293.4 96.6 294.2 96.7 295.0 97.1 295.8 98.0 296.1 98.8 296.6 101.2 296.8 104.8 296.5 113.6 295.9 122.4 294.8 129.6 294.2 132.3 293.8 133.2M293.8 129.4 293.4 129.6 293.0 129.0 292.4 126.8 291.8 123.2 291.1 116.0 290.6 106.8 290.7 102.4 291.1 100.0 291.5 99.2 292.1 98.4 292.6 98.0 293.4 97.8 294.6 98.1 295.3 98.8 295.7 99.6 296.2 101.6 296.4 104.8 296.2 112.0 295.6 120.0 294.7 126.4 293.8 129.4M293.4 125.7 293.0 125.1 292.6 123.7 291.8 118.5 291.3 112.0 291.1 105.6 291.2 102.8 291.6 100.8 292.2 99.6 292.6 99.3 293.4 99.0 294.6 99.4 295.4 100.7 295.8 102.7 295.9 105.6 295.6 113.2 295.0 120.0 294.2 124.5 293.8 125.5 293.4 125.7M293.8 121.6 293.4 121.9 293.0 121.2 292.4 118.4 291.8 112.8 291.5 106.8 291.6 104.0 291.9 102.0 292.6 100.6 293.4 100.3 294.2 100.5 295.0 101.6 295.4 103.2 295.5 105.2 295.0 115.2 294.5 118.8 293.8 121.6M293.8 117.6 293.4 117.9 293.0 117.1 292.6 115.0 292.0 107.2 292.2 103.2 292.6 102.1 293.4 101.5 294.2 101.9 294.6 102.5 295.0 105.2 294.6 113.3 294.2 116.2 293.8 117.6M293.4 113.6 293.0 112.4 292.8 111.2 292.5 106.0 292.7 104.0 293.0 103.2 293.4 102.9 293.8 103.0 294.2 103.6 294.5 106.0 294.2 111.1 293.8 113.2 293.4 113.6M293.4 107.9 293.3 106.4 293.4 105.2 293.7 105.6 293.8 106.4 293.4 107.9" fill="none" stroke="#222" stroke-width="0.6" clip-path="url(#cB)"/>
<path d="M376.8 186.8 374.4 186.9 371.6 186.7 360.7 184.4 355.6 183.6 353.6 183.5 348.8 183.6 339.6 184.6 329.6 185.4 322.0 185.4 319.6 185.0 318.6 184.4 318.0 183.2 317.9 182.0 318.3 180.8 318.9 180.0 319.8 179.2 321.6 178.2 326.4 176.7 333.2 175.4 341.2 174.5 351.6 173.9 367.6 173.7 374.0 173.8 377.6 174.4 380.0 175.5 381.8 177.2 382.5 178.4 382.9 179.6 383.0 180.8 382.9 182.0 382.4 183.2 381.7 184.4 380.8 185.3 379.6 186.0 378.4 186.5 376.8 186.8M377.2 186.0 374.8 186.4 371.6 186.2 360.9 184.0 354.4 183.2 349.2 183.3 339.6 184.3 330.0 184.9 324.8 184.8 322.9 184.4 322.2 184.0 321.7 183.2 321.5 182.0 321.8 180.8 322.4 180.0 323.4 179.2 324.9 178.4 329.2 176.9 334.8 175.8 342.0 175.0 349.6 174.5 365.2 174.1 372.8 174.2 376.0 174.6 378.4 175.5 380.1 176.8 381.3 178.8 381.7 180.0 381.7 181.2 381.1 183.2 379.6 184.9 378.4 185.6 377.2 186.0M375.6 185.7 373.6 185.8 371.2 185.7 361.1 183.6 355.2 182.9 349.2 183.1 339.2 184.1 330.4 184.4 328.0 184.3 326.4 184.0 325.6 183.6 325.1 182.8 325.0 181.6 325.2 180.8 325.7 180.0 326.7 179.2 328.2 178.4 332.0 177.2 337.2 176.1 343.6 175.4 351.2 174.9 366.0 174.5 372.4 174.7 375.2 175.0 377.6 175.9 379.2 177.2 380.3 179.2 380.5 180.4 380.4 181.6 380.0 182.8 379.4 183.6 378.0 184.8 375.6 185.7M374.0 185.2 370.0 185.0 361.2 183.2 356.0 182.6 349.2 182.8 339.2 183.8 333.6 183.9 330.8 183.8 329.8 183.6 329.0 183.2 328.4 182.4 328.3 181.6 328.5 180.8 329.0 180.0 330.0 179.2 331.6 178.4 335.2 177.3 340.4 176.3 346.0 175.7 353.2 175.2 366.4 175.0 372.0 175.1 374.8 175.5 377.0 176.4 378.2 177.6 379.2 179.6 379.2 181.6 378.6 182.8 378.0 183.6 376.4 184.7 374.0 185.2M374.8 184.4 372.8 184.7 370.4 184.6 361.3 182.8 356.4 182.3 349.2 182.6 344.8 183.1 339.2 183.5 335.6 183.4 333.5 183.2 332.4 182.8 331.8 182.0 331.8 181.2 332.1 180.4 332.8 179.6 334.8 178.5 338.0 177.5 342.4 176.7 347.2 176.1 354.0 175.6 366.0 175.4 371.2 175.5 373.6 175.8 375.4 176.4 376.8 177.4 377.7 178.8 378.0 180.0 378.1 180.8 377.5 182.4 376.5 183.6 374.8 184.4M373.2 184.1 370.0 184.1 361.4 182.4 357.6 182.0 349.2 182.3 344.8 182.8 338.8 183.0 335.8 182.4 335.4 182.0 335.2 181.2 335.7 180.0 337.5 178.8 340.4 177.8 344.8 177.0 350.4 176.3 355.6 176.0 366.4 175.8 370.8 175.9 373.2 176.3 374.6 176.8 376.0 178.0 376.7 179.2 376.8 180.8 376.2 182.4 374.8 183.6 373.2 184.1M371.6 183.6 368.8 183.5 362.0 182.1 358.4 181.7 349.2 182.0 344.8 182.4 341.2 182.4 339.2 182.0 338.7 181.6 338.6 180.8 339.5 179.6 340.9 178.8 343.6 177.9 347.6 177.2 357.2 176.4 366.8 176.2 370.4 176.3 372.4 176.7 373.8 177.2 375.1 178.4 375.6 179.6 375.5 181.2 374.8 182.4 373.6 183.2 371.6 183.6M372.0 182.9 370.8 183.1 369.2 183.0 362.4 181.7 358.8 181.4 344.4 181.9 342.8 181.5 342.2 181.2 342.1 180.8 342.4 180.0 342.8 179.6 344.3 178.8 346.8 178.1 349.3 177.6 357.6 176.9 369.2 176.7 371.2 177.0 372.4 177.3 373.4 178.0 374.2 179.2 374.4 180.4 374.0 181.6 373.2 182.4 372.0 182.9M370.8 182.4 368.4 182.4 363.2 181.4 360.4 181.1 347.2 181.3 345.7 180.8 345.6 180.4 346.2 179.6 347.8 178.8 352.4 177.8 359.6 177.2 368.8 177.2 370.4 177.4 371.6 177.8 372.5 178.4 373.0 179.2 373.2 180.4 372.9 181.2 372.1 182.0 370.8 182.4M370.8 181.6 369.6 181.9 368.4 181.9 363.6 181.1 360.8 180.8 351.4 180.8 349.6 180.5 349.3 180.0 350.3 179.2 351.4 178.8 355.6 178.0 361.6 177.6 368.4 177.6 370.4 178.0 371.1 178.4 371.8 179.2 371.9 180.0 371.7 180.8 370.8 181.6M369.6 181.2 367.6 181.3 363.6 180.6 361.2 180.4 354.4 180.2 353.2 180.0 353.2 179.6 355.3 178.8 358.0 178.4 363.2 178.1 368.0 178.1 369.5 178.4 370.5 179.2 370.7 180.0 370.6 180.4 370.3 180.8 369.6 181.2M368.8 180.5 367.2 180.7 363.6 180.1 358.1 179.6 358.3 179.2 360.4 178.8 367.2 178.6 368.4 178.8 369.1 179.2 369.3 180.0 368.8 180.5M367.2 179.8 365.4 179.6 366.0 179.2 366.4 179.2 367.5 179.6 367.2 179.8" fill="none" stroke="#222" stroke-width="0.6" clip-path="url(#cB)"/>
<polyline points="292.7,176.5 296.7,181.0 292.7,181.0" fill="none" stroke="#000" stroke-width="1.1"/>
<line x1="344.20" y1="22.40" x2="344.20" y2="181.40" stroke="#1a1a1a" stroke-width="1.1" />
<line x1="292.40" y1="124.10" x2="442.30" y2="124.10" stroke="#2a2a2a" stroke-width="1.3" />
<line x1="291.90" y1="22.40" x2="442.80" y2="22.40" stroke="#444" stroke-width="1.0" />
<line x1="442.30" y1="22.40" x2="442.30" y2="181.90" stroke="#555" stroke-width="1.0" />
<line x1="291.90" y1="181.40" x2="442.80" y2="181.40" stroke="#444" stroke-width="1.0" />
<line x1="292.40" y1="22.40" x2="292.40" y2="181.90" stroke="#777" stroke-width="1.0" />
<line x1="292.40" y1="181.40" x2="292.40" y2="186.10" stroke="#000" stroke-width="1.4" />
<text transform="translate(295.00 194.50) scale(1.0 1.12)" font-size="6.0" text-anchor="start" font-family='"Liberation Sans", sans-serif' font-weight="normal" fill="#222" >10</text>
<text transform="translate(300.58 190.90) scale(1.0 1.12)" font-size="5.1" text-anchor="start" font-family='"Liberation Sans", sans-serif' font-weight="normal" fill="#222" >0</text>
<line x1="287.40" y1="180.90" x2="292.40" y2="180.90" stroke="#000" stroke-width="1.4" />
<text transform="translate(281.70 185.40) scale(1.0 1.12)" font-size="6.0" text-anchor="end" font-family='"Liberation Sans", sans-serif' font-weight="normal" fill="#222" >10</text>
<text transform="translate(284.70 181.50) scale(1.0 1.12)" font-size="5.1" text-anchor="end" font-family='"Liberation Sans", sans-serif' font-weight="normal" fill="#222" >0</text>
<line x1="300.66" y1="181.40" x2="300.66" y2="184.00" stroke="#222" stroke-width="0.8" />
<line x1="289.80" y1="172.08" x2="292.40" y2="172.08" stroke="#222" stroke-width="0.8" />
<line x1="305.49" y1="181.40" x2="305.49" y2="184.00" stroke="#222" stroke-width="0.8" />
<line x1="289.80" y1="166.92" x2="292.40" y2="166.92" stroke="#222" stroke-width="0.8" />
<line x1="308.92" y1="181.40" x2="308.92" y2="184.00" stroke="#222" stroke-width="0.8" />
<line x1="289.80" y1="163.26" x2="292.40" y2="163.26" stroke="#222" stroke-width="0.8" />
<line x1="311.58" y1="181.40" x2="311.58" y2="184.40" stroke="#222" stroke-width="0.8" />
<line x1="289.40" y1="160.42" x2="292.40" y2="160.42" stroke="#222" stroke-width="0.8" />
<line x1="313.75" y1="181.40" x2="313.75" y2="184.00" stroke="#222" stroke-width="0.8" />
<line x1="289.80" y1="158.10" x2="292.40" y2="158.10" stroke="#222" stroke-width="0.8" />
<line x1="315.59" y1="181.40" x2="315.59" y2="184.00" stroke="#222" stroke-width="0.8" />
<line x1="289.80" y1="156.14" x2="292.40" y2="156.14" stroke="#222" stroke-width="0.8" />
<line x1="317.18" y1="181.40" x2="317.18" y2="184.00" stroke="#222" stroke-width="0.8" />
<line x1="289.80" y1="154.44" x2="292.40" y2="154.44" stroke="#222" stroke-width="0.8" />
<line x1="318.58" y1="181.40" x2="318.58" y2="184.00" stroke="#222" stroke-width="0.8" />
<line x1="289.80" y1="152.94" x2="292.40" y2="152.94" stroke="#222" stroke-width="0.8" />
<line x1="319.84" y1="181.40" x2="319.84" y2="186.10" stroke="#000" stroke-width="1.4" />
<text transform="translate(320.84 194.50) scale(1.0 1.12)" font-size="6.0" text-anchor="start" font-family='"Liberation Sans", sans-serif' font-weight="normal" fill="#222" >10</text>
<text transform="translate(326.42 190.90) scale(1.0 1.12)" font-size="5.1" text-anchor="start" font-family='"Liberation Sans", sans-serif' font-weight="normal" fill="#222" >1</text>
<line x1="287.40" y1="151.60" x2="292.40" y2="151.60" stroke="#000" stroke-width="1.4" />
<text transform="translate(281.70 156.10) scale(1.0 1.12)" font-size="6.0" text-anchor="end" font-family='"Liberation Sans", sans-serif' font-weight="normal" fill="#222" >10</text>
<text transform="translate(284.70 152.20) scale(1.0 1.12)" font-size="5.1" text-anchor="end" font-family='"Liberation Sans", sans-serif' font-weight="normal" fill="#222" >1</text>
<line x1="328.10" y1="181.40" x2="328.10" y2="184.00" stroke="#222" stroke-width="0.8" />
<line x1="289.80" y1="142.78" x2="292.40" y2="142.78" stroke="#222" stroke-width="0.8" />
<line x1="332.93" y1="181.40" x2="332.93" y2="184.00" stroke="#222" stroke-width="0.8" />
<line x1="289.80" y1="137.62" x2="292.40" y2="137.62" stroke="#222" stroke-width="0.8" />
<line x1="336.36" y1="181.40" x2="336.36" y2="184.00" stroke="#222" stroke-width="0.8" />
<line x1="289.80" y1="133.96" x2="292.40" y2="133.96" stroke="#222" stroke-width="0.8" />
<line x1="339.02" y1="181.40" x2="339.02" y2="184.40" stroke="#222" stroke-width="0.8" />
<line x1="289.40" y1="131.12" x2="292.40" y2="131.12" stroke="#222" stroke-width="0.8" />
<line x1="341.19" y1="181.40" x2="341.19" y2="184.00" stroke="#222" stroke-width="0.8" />
<line x1="289.80" y1="128.80" x2="292.40" y2="128.80" stroke="#222" stroke-width="0.8" />
<line x1="343.03" y1="181.40" x2="343.03" y2="184.00" stroke="#222" stroke-width="0.8" />
<line x1="289.80" y1="126.84" x2="292.40" y2="126.84" stroke="#222" stroke-width="0.8" />
<line x1="344.62" y1="181.40" x2="344.62" y2="184.00" stroke="#222" stroke-width="0.8" />
<line x1="289.80" y1="125.14" x2="292.40" y2="125.14" stroke="#222" stroke-width="0.8" />
<line x1="346.02" y1="181.40" x2="346.02" y2="184.00" stroke="#222" stroke-width="0.8" />
<line x1="289.80" y1="123.64" x2="292.40" y2="123.64" stroke="#222" stroke-width="0.8" />
<line x1="347.28" y1="181.40" x2="347.28" y2="186.10" stroke="#000" stroke-width="1.4" />
<text transform="translate(348.28 194.50) scale(1.0 1.12)" font-size="6.0" text-anchor="start" font-family='"Liberation Sans", sans-serif' font-weight="normal" fill="#222" >10</text>
<text transform="translate(353.86 190.90) scale(1.0 1.12)" font-size="5.1" text-anchor="start" font-family='"Liberation Sans", sans-serif' font-weight="normal" fill="#222" >2</text>
<line x1="287.40" y1="122.30" x2="292.40" y2="122.30" stroke="#000" stroke-width="1.4" />
<text transform="translate(281.70 126.80) scale(1.0 1.12)" font-size="6.0" text-anchor="end" font-family='"Liberation Sans", sans-serif' font-weight="normal" fill="#222" >10</text>
<text transform="translate(284.70 122.90) scale(1.0 1.12)" font-size="5.1" text-anchor="end" font-family='"Liberation Sans", sans-serif' font-weight="normal" fill="#222" >2</text>
<line x1="355.54" y1="181.40" x2="355.54" y2="184.00" stroke="#222" stroke-width="0.8" />
<line x1="289.80" y1="113.48" x2="292.40" y2="113.48" stroke="#222" stroke-width="0.8" />
<line x1="360.37" y1="181.40" x2="360.37" y2="184.00" stroke="#222" stroke-width="0.8" />
<line x1="289.80" y1="108.32" x2="292.40" y2="108.32" stroke="#222" stroke-width="0.8" />
<line x1="363.80" y1="181.40" x2="363.80" y2="184.00" stroke="#222" stroke-width="0.8" />
<line x1="289.80" y1="104.66" x2="292.40" y2="104.66" stroke="#222" stroke-width="0.8" />
<line x1="366.46" y1="181.40" x2="366.46" y2="184.40" stroke="#222" stroke-width="0.8" />
<line x1="289.40" y1="101.82" x2="292.40" y2="101.82" stroke="#222" stroke-width="0.8" />
<line x1="368.63" y1="181.40" x2="368.63" y2="184.00" stroke="#222" stroke-width="0.8" />
<line x1="289.80" y1="99.50" x2="292.40" y2="99.50" stroke="#222" stroke-width="0.8" />
<line x1="370.47" y1="181.40" x2="370.47" y2="184.00" stroke="#222" stroke-width="0.8" />
<line x1="289.80" y1="97.54" x2="292.40" y2="97.54" stroke="#222" stroke-width="0.8" />
<line x1="372.06" y1="181.40" x2="372.06" y2="184.00" stroke="#222" stroke-width="0.8" />
<line x1="289.80" y1="95.84" x2="292.40" y2="95.84" stroke="#222" stroke-width="0.8" />
<line x1="373.46" y1="181.40" x2="373.46" y2="184.00" stroke="#222" stroke-width="0.8" />
<line x1="289.80" y1="94.34" x2="292.40" y2="94.34" stroke="#222" stroke-width="0.8" />
<line x1="374.72" y1="181.40" x2="374.72" y2="186.10" stroke="#000" stroke-width="1.4" />
<text transform="translate(375.72 194.50) scale(1.0 1.12)" font-size="6.0" text-anchor="start" font-family='"Liberation Sans", sans-serif' font-weight="normal" fill="#222" >10</text>
<text transform="translate(381.30 190.90) scale(1.0 1.12)" font-size="5.1" text-anchor="start" font-family='"Liberation Sans", sans-serif' font-weight="normal" fill="#222" >3</text>
<line x1="287.40" y1="93.00" x2="292.40" y2="93.00" stroke="#000" stroke-width="1.4" />
<text transform="translate(281.70 97.50) scale(1.0 1.12)" font-size="6.0" text-anchor="end" font-family='"Liberation Sans", sans-serif' font-weight="normal" fill="#222" >10</text>
<text transform="translate(284.70 93.60) scale(1.0 1.12)" font-size="5.1" text-anchor="end" font-family='"Liberation Sans", sans-serif' font-weight="normal" fill="#222" >3</text>
<line x1="382.98" y1="181.40" x2="382.98" y2="184.00" stroke="#222" stroke-width="0.8" />
<line x1="289.80" y1="84.18" x2="292.40" y2="84.18" stroke="#222" stroke-width="0.8" />
<line x1="387.81" y1="181.40" x2="387.81" y2="184.00" stroke="#222" stroke-width="0.8" />
<line x1="289.80" y1="79.02" x2="292.40" y2="79.02" stroke="#222" stroke-width="0.8" />
<line x1="391.24" y1="181.40" x2="391.24" y2="184.00" stroke="#222" stroke-width="0.8" />
<line x1="289.80" y1="75.36" x2="292.40" y2="75.36" stroke="#222" stroke-width="0.8" />
<line x1="393.90" y1="181.40" x2="393.90" y2="184.40" stroke="#222" stroke-width="0.8" />
<line x1="289.40" y1="72.52" x2="292.40" y2="72.52" stroke="#222" stroke-width="0.8" />
<line x1="396.07" y1="181.40" x2="396.07" y2="184.00" stroke="#222" stroke-width="0.8" />
<line x1="289.80" y1="70.20" x2="292.40" y2="70.20" stroke="#222" stroke-width="0.8" />
<line x1="397.91" y1="181.40" x2="397.91" y2="184.00" stroke="#222" stroke-width="0.8" />
<line x1="289.80" y1="68.24" x2="292.40" y2="68.24" stroke="#222" stroke-width="0.8" />
<line x1="399.50" y1="181.40" x2="399.50" y2="184.00" stroke="#222" stroke-width="0.8" />
<line x1="289.80" y1="66.54" x2="292.40" y2="66.54" stroke="#222" stroke-width="0.8" />
<line x1="400.90" y1="181.40" x2="400.90" y2="184.00" stroke="#222" stroke-width="0.8" />
<line x1="289.80" y1="65.04" x2="292.40" y2="65.04" stroke="#222" stroke-width="0.8" />
<line x1="402.16" y1="181.40" x2="402.16" y2="186.10" stroke="#000" stroke-width="1.4" />
<text transform="translate(403.16 194.50) scale(1.0 1.12)" font-size="6.0" text-anchor="start" font-family='"Liberation Sans", sans-serif' font-weight="normal" fill="#222" >10</text>
<text transform="translate(408.74 190.90) scale(1.0 1.12)" font-size="5.1" text-anchor="start" font-family='"Liberation Sans", sans-serif' font-weight="normal" fill="#222" >4</text>
<line x1="287.40" y1="63.70" x2="292.40" y2="63.70" stroke="#000" stroke-width="1.4" />
<text transform="translate(281.70 68.20) scale(1.0 1.12)" font-size="6.0" text-anchor="end" font-family='"Liberation Sans", sans-serif' font-weight="normal" fill="#222" >10</text>
<text transform="translate(284.70 64.30) scale(1.0 1.12)" font-size="5.1" text-anchor="end" font-family='"Liberation Sans", sans-serif' font-weight="normal" fill="#222" >4</text>
<line x1="410.42" y1="181.40" x2="410.42" y2="184.00" stroke="#222" stroke-width="0.8" />
<line x1="289.80" y1="54.88" x2="292.40" y2="54.88" stroke="#222" stroke-width="0.8" />
<line x1="415.25" y1="181.40" x2="415.25" y2="184.00" stroke="#222" stroke-width="0.8" />
<line x1="289.80" y1="49.72" x2="292.40" y2="49.72" stroke="#222" stroke-width="0.8" />
<line x1="418.68" y1="181.40" x2="418.68" y2="184.00" stroke="#222" stroke-width="0.8" />
<line x1="289.80" y1="46.06" x2="292.40" y2="46.06" stroke="#222" stroke-width="0.8" />
<line x1="421.34" y1="181.40" x2="421.34" y2="184.40" stroke="#222" stroke-width="0.8" />
<line x1="289.40" y1="43.22" x2="292.40" y2="43.22" stroke="#222" stroke-width="0.8" />
<line x1="423.51" y1="181.40" x2="423.51" y2="184.00" stroke="#222" stroke-width="0.8" />
<line x1="289.80" y1="40.90" x2="292.40" y2="40.90" stroke="#222" stroke-width="0.8" />
<line x1="425.35" y1="181.40" x2="425.35" y2="184.00" stroke="#222" stroke-width="0.8" />
<line x1="289.80" y1="38.94" x2="292.40" y2="38.94" stroke="#222" stroke-width="0.8" />
<line x1="426.94" y1="181.40" x2="426.94" y2="184.00" stroke="#222" stroke-width="0.8" />
<line x1="289.80" y1="37.24" x2="292.40" y2="37.24" stroke="#222" stroke-width="0.8" />
<line x1="428.34" y1="181.40" x2="428.34" y2="184.00" stroke="#222" stroke-width="0.8" />
<line x1="289.80" y1="35.74" x2="292.40" y2="35.74" stroke="#222" stroke-width="0.8" />
<line x1="429.60" y1="181.40" x2="429.60" y2="186.10" stroke="#000" stroke-width="1.4" />
<text transform="translate(430.60 194.50) scale(1.0 1.12)" font-size="6.0" text-anchor="start" font-family='"Liberation Sans", sans-serif' font-weight="normal" fill="#222" >10</text>
<text transform="translate(436.18 190.90) scale(1.0 1.12)" font-size="5.1" text-anchor="start" font-family='"Liberation Sans", sans-serif' font-weight="normal" fill="#222" >5</text>
<line x1="287.40" y1="34.40" x2="292.40" y2="34.40" stroke="#000" stroke-width="1.4" />
<text transform="translate(281.70 38.90) scale(1.0 1.12)" font-size="6.0" text-anchor="end" font-family='"Liberation Sans", sans-serif' font-weight="normal" fill="#222" >10</text>
<text transform="translate(284.70 35.00) scale(1.0 1.12)" font-size="5.1" text-anchor="end" font-family='"Liberation Sans", sans-serif' font-weight="normal" fill="#222" >5</text>
<line x1="437.86" y1="181.40" x2="437.86" y2="184.00" stroke="#222" stroke-width="0.8" />
<line x1="289.80" y1="25.58" x2="292.40" y2="25.58" stroke="#222" stroke-width="0.8" />
<text transform="translate(294.80 34.70) scale(1.0 1.12)" font-size="6.2" text-anchor="start" font-family='"Liberation Sans", sans-serif' font-weight="normal" fill="#222" >Q1</text>
<text transform="translate(294.80 43.90) scale(1.0 1.12)" font-size="6.2" text-anchor="start" font-family='"Liberation Sans", sans-serif' font-weight="normal" fill="#222" >16.4</text>
<text transform="translate(429.60 34.70) scale(1.0 1.12)" font-size="6.2" text-anchor="end" font-family='"Liberation Sans", sans-serif' font-weight="normal" fill="#222" >Q2</text>
<text transform="translate(429.60 43.90) scale(1.0 1.12)" font-size="6.2" text-anchor="end" font-family='"Liberation Sans", sans-serif' font-weight="normal" fill="#222" >42.5</text>
<text transform="translate(294.80 164.80) scale(1.0 1.12)" font-size="6.2" text-anchor="start" font-family='"Liberation Sans", sans-serif' font-weight="normal" fill="#222" >Q4</text>
<text transform="translate(294.80 174.00) scale(1.0 1.12)" font-size="6.2" text-anchor="start" font-family='"Liberation Sans", sans-serif' font-weight="normal" fill="#222" >19.8</text>
<text transform="translate(429.60 164.80) scale(1.0 1.12)" font-size="6.2" text-anchor="end" font-family='"Liberation Sans", sans-serif' font-weight="normal" fill="#222" >Q3</text>
<text transform="translate(429.60 174.00) scale(1.0 1.12)" font-size="6.2" text-anchor="end" font-family='"Liberation Sans", sans-serif' font-weight="normal" fill="#222" >21.3</text>
<line x1="270.50" y1="57.70" x2="272.40" y2="134.50" stroke="#000" stroke-width="1.8" />
<polygon points="270.3,50.0 266.3,58.2 274.7,58.2" fill="#000"/>
<text transform="translate(266.00 102.70) rotate(-90) scale(1 1.2)" font-size="6.2" text-anchor="middle" font-family='"Liberation Sans", sans-serif' fill="#222">FITC-A</text>
<line x1="321.00" y1="212.30" x2="409.80" y2="212.30" stroke="#000" stroke-width="1.8" />
<polygon points="417.8,212.3 409.6,208.2 409.6,216.4" fill="#000"/>
<text transform="translate(365.70 210.50) scale(1.0 1.12)" font-size="6.2" text-anchor="middle" font-family='"Liberation Sans", sans-serif' font-weight="normal" fill="#222" >PE-A</text>
<text x="318.20" y="227.50" font-size="15.3" text-anchor="start" font-family='"Liberation Serif", serif' font-weight="normal" fill="#000" >Healthy Fathers</text>
<text x="246.20" y="15.60" font-size="15" text-anchor="start" font-family='"Liberation Serif", serif' font-weight="normal" fill="#000" >B</text>
<clipPath id="cC"><rect x="519.6" y="22.4" width="149.89999999999998" height="149.9"/></clipPath>
<path d="M545.2 109.4 546.5 105.6 547.6 103.8 549.0 102.2 550.8 100.8 552.9 99.6 559.1 97.2 576.0 92.4 590.8 87.4 593.9 86.6 597.1 86.4 600.1 87.1 601.5 87.8 602.7 88.7 603.9 90.6 604.4 93.0 604.2 95.7 600.8 112.7 598.5 122.6 595.3 133.6 593.3 138.5 590.9 142.4 589.4 144.1 587.8 145.7 586.0 147.1 584.0 148.0 582.0 148.3 581.0 148.2 579.0 147.5 577.1 146.5 573.7 144.0 564.0 135.5 553.5 128.5 549.7 125.3 547.0 122.1 546.0 120.3 545.3 118.4 544.9 116.5 544.7 114.4 544.7 112.4 545.2 109.4ZM552.1 109.4 552.7 107.0 553.8 104.8 554.8 103.4 556.9 101.7 559.3 100.3 563.8 98.3 576.2 94.1 589.2 90.3 591.7 89.8 593.7 89.7 596.3 90.0 598.7 91.1 600.1 92.3 601.1 94.0 601.4 96.0 601.4 98.1 599.9 110.3 598.5 116.3 596.2 123.3 593.2 130.7 592.0 132.9 590.6 135.0 588.9 137.0 587.6 138.2 585.4 139.6 583.8 140.3 582.2 140.5 580.6 140.2 579.0 139.6 576.8 138.4 574.2 136.5 567.3 131.1 559.4 125.6 556.3 123.0 553.7 119.8 552.4 116.8 551.8 113.5 551.8 111.9 552.1 109.4ZM557.3 109.4 557.8 107.4 558.6 105.5 559.8 103.8 561.5 102.4 564.5 100.6 568.3 98.7 572.9 96.9 577.6 95.2 581.8 94.1 587.5 92.8 590.1 92.4 592.3 92.3 594.5 92.7 596.4 93.7 598.1 95.1 598.8 96.6 599.1 98.3 599.2 100.1 598.8 108.6 598.0 113.0 596.6 117.7 593.7 124.1 590.6 129.3 589.4 130.9 587.9 132.3 586.2 133.5 584.3 134.4 583.0 134.7 581.7 134.7 579.7 134.2 577.9 133.3 575.2 131.5 565.3 124.6 561.7 121.7 559.5 119.1 557.8 116.1 557.1 112.8 557.3 109.4ZM561.9 109.4 562.4 107.2 563.0 105.7 564.1 104.3 565.4 103.2 568.1 101.3 571.4 99.5 575.0 97.8 578.5 96.6 581.9 95.7 585.7 95.1 588.6 94.7 590.9 94.8 593.1 95.4 594.8 96.3 595.8 97.3 596.6 98.9 597.2 102.6 597.2 108.7 596.7 112.3 595.5 116.2 593.2 120.7 589.7 125.7 588.3 127.2 587.0 128.2 585.6 129.0 584.1 129.6 582.5 129.8 581.4 129.7 579.9 129.2 577.9 128.3 570.4 123.4 566.3 120.3 564.0 117.8 562.6 115.4 561.9 112.7 561.9 109.4ZM565.9 109.4 566.2 107.6 566.9 106.0 568.0 104.5 569.3 103.3 571.7 101.6 574.5 100.0 577.2 98.8 579.9 97.9 582.7 97.4 585.6 97.0 588.1 97.0 590.0 97.2 591.8 97.9 593.4 99.0 594.3 100.3 594.8 101.7 595.5 105.7 595.6 109.1 595.2 112.0 594.1 115.1 592.2 118.6 589.1 122.3 587.0 124.2 584.3 125.4 583.0 125.7 581.7 125.6 578.9 124.7 574.7 122.3 570.3 119.1 568.2 117.0 566.7 114.7 566.0 112.1 565.9 109.4ZM568.5 109.4 568.8 107.5 569.7 105.8 571.2 104.1 573.3 102.4 575.7 100.9 578.4 99.7 581.1 99.0 583.9 98.6 586.5 98.5 588.5 98.7 590.3 99.3 591.7 100.2 592.6 101.2 593.4 102.7 594.0 104.9 594.3 107.3 594.3 110.0 593.8 112.3 592.9 114.8 591.5 117.0 589.3 119.6 587.2 121.4 585.1 122.6 583.0 123.0 580.9 122.8 578.0 121.6 574.4 119.4 571.9 117.4 570.2 115.5 569.1 113.5 568.6 111.7 568.5 109.4ZM571.1 109.4 571.4 107.6 572.1 106.2 573.5 104.5 575.2 103.1 577.2 101.8 579.2 100.9 581.3 100.4 583.7 100.1 586.0 100.1 587.6 100.4 589.1 101.0 590.5 101.9 591.4 103.0 592.1 104.5 592.7 106.5 592.9 108.4 592.8 110.4 592.3 112.4 591.5 114.3 590.3 116.0 588.7 117.7 586.8 119.2 585.0 120.1 583.0 120.5 581.3 120.3 578.9 119.4 576.2 117.9 574.1 116.2 572.7 114.7 571.7 113.1 571.2 111.3 571.1 109.4ZM573.8 109.4 574.0 108.0 574.6 106.7 575.6 105.4 576.9 104.2 578.3 103.2 579.9 102.5 581.6 102.0 583.4 101.9 585.2 102.0 586.6 102.2 587.8 102.7 588.9 103.5 589.8 104.5 590.5 105.8 591.0 107.5 591.1 109.0 591.0 110.5 590.6 112.1 589.9 113.4 588.9 114.7 587.5 116.0 585.9 117.0 584.5 117.6 583.0 117.9 581.5 117.7 579.6 117.0 577.9 116.1 576.2 114.9 575.1 113.7 574.3 112.2 573.9 110.8 573.8 109.4ZM575.7 109.4 575.9 108.3 576.3 107.2 577.1 106.0 578.1 105.0 580.5 103.7 581.9 103.4 583.3 103.2 585.9 103.6 587.9 104.8 588.7 105.7 589.2 106.8 589.7 109.2 589.6 110.4 589.3 111.6 588.7 112.7 587.8 113.8 586.8 114.7 585.5 115.4 584.2 115.9 583.0 116.1 581.8 115.9 580.3 115.5 578.9 114.8 577.7 113.9 576.9 112.9 576.2 111.8 575.8 110.7 575.7 109.4ZM577.7 109.4 578.1 107.7 579.3 106.2 581.0 105.2 583.0 104.8 585.0 105.1 586.6 106.0 587.6 107.5 588.1 109.3 587.7 111.1 586.6 112.7 584.9 113.8 583.0 114.2 581.0 113.8 579.2 112.7 578.1 111.1 577.7 109.4ZM579.3 109.4 579.6 108.2 580.4 107.1 581.7 106.4 583.1 106.1 584.4 106.4 585.6 107.1 586.3 108.1 586.6 109.4 586.3 110.7 585.6 111.7 584.4 112.5 583.0 112.7 581.6 112.5 580.4 111.7 579.6 110.7 579.3 109.4Z" fill="none" stroke="#444" stroke-width="0.6" clip-path="url(#cC)"/>
<path d="M614.2 81.4 612.6 81.8 611.4 81.6 610.6 81.0 610.0 79.8 610.1 78.6 610.8 77.4 611.8 76.6 613.0 76.1 614.2 76.0 615.0 76.2 615.8 76.8 616.4 77.8 616.4 78.6 616.0 79.8 615.4 80.6 614.2 81.4" fill="none" stroke="#444" stroke-width="0.6" clip-path="url(#cC)"/>
<path d="M522.0 148.2 521.2 148.3 520.8 148.0 520.0 147.2 519.4 146.0 518.1 142.4 517.1 138.0 516.5 132.0 516.0 111.6 516.2 101.6 516.5 98.8 516.9 96.8 517.6 95.2 518.8 93.6 520.0 92.8 521.6 92.5 522.8 92.8 524.1 93.6 525.2 94.8 526.0 96.4 526.4 98.4 526.7 100.4 527.0 108.8 526.5 130.4 526.1 136.4 525.5 140.4 524.4 144.0 523.2 146.8 522.0 148.2M522.0 145.4 521.2 145.5 520.8 145.2 519.6 143.6 518.3 140.0 517.4 136.0 516.9 130.4 516.4 111.6 516.6 102.8 516.9 100.0 517.3 98.0 517.9 96.4 518.9 95.2 520.4 94.2 521.6 94.0 522.8 94.3 524.0 95.1 524.8 96.0 525.6 97.6 526.3 101.2 526.6 108.8 526.1 128.8 525.7 134.8 525.1 138.4 524.2 141.6 523.2 143.9 522.0 145.4M521.6 142.9 520.8 142.6 520.4 142.2 519.4 140.4 518.5 137.6 517.7 134.0 517.3 128.8 516.8 110.4 517.0 102.8 517.3 100.4 517.7 98.8 518.4 97.3 519.2 96.4 520.4 95.6 521.6 95.4 522.8 95.7 524.0 96.6 524.8 97.6 525.4 99.2 526.0 102.8 526.2 110.4 525.8 128.0 525.3 133.6 524.6 137.2 523.6 140.3 522.7 142.0 522.0 142.7 521.6 142.9M522.0 140.1 521.2 140.2 520.5 139.6 520.0 138.9 518.9 136.0 518.2 132.8 517.7 127.6 517.2 112.0 517.4 104.4 517.9 100.4 518.4 99.0 519.2 97.9 520.4 97.0 521.6 96.8 522.8 97.1 523.6 97.7 524.4 98.7 525.0 100.0 525.5 103.2 525.8 109.2 525.4 126.0 525.1 131.2 524.6 134.0 523.8 136.8 522.8 139.2 522.0 140.1M521.6 137.7 520.8 137.3 520.0 136.0 519.1 133.6 518.4 130.4 518.0 124.8 517.6 110.4 517.8 104.4 518.4 101.0 518.8 100.0 519.6 99.0 520.4 98.4 521.6 98.2 522.8 98.5 523.6 99.2 524.2 100.0 524.7 101.2 525.2 104.4 525.4 110.4 525.0 125.2 524.6 130.0 524.0 133.2 523.2 135.6 522.4 137.1 521.6 137.7M522.0 134.8 521.6 135.0 521.2 135.0 520.4 134.1 519.6 132.3 518.9 129.2 518.4 124.4 518.0 112.4 518.1 106.0 518.6 102.4 519.1 101.2 519.7 100.4 520.8 99.7 521.6 99.6 522.4 99.8 523.2 100.3 524.2 102.0 524.8 104.8 525.0 109.6 524.7 122.8 524.4 127.6 523.5 132.0 522.8 133.7 522.0 134.8M522.0 132.2 521.6 132.4 521.2 132.3 520.4 131.4 519.7 129.6 519.2 127.4 518.8 122.8 518.4 112.4 518.5 106.8 519.0 103.6 519.4 102.4 520.0 101.6 520.8 101.1 521.6 101.0 522.4 101.2 523.0 101.6 523.9 103.2 524.4 105.6 524.6 109.6 524.3 121.2 524.0 126.0 523.2 129.9 522.7 131.2 522.0 132.2M521.6 129.7 521.2 129.6 520.8 129.3 520.4 128.6 519.5 125.2 519.1 120.8 518.8 111.2 519.0 106.8 519.4 104.4 519.7 103.6 520.4 102.8 521.6 102.4 522.8 103.0 523.6 104.4 524.0 106.8 524.2 111.2 523.9 120.4 523.6 124.6 522.8 128.1 522.2 129.2 521.6 129.7M521.6 127.0 521.2 126.9 520.6 126.0 519.8 123.2 519.5 119.2 519.3 111.2 519.4 107.6 519.7 105.6 520.4 104.3 520.8 104.0 521.6 103.8 522.6 104.4 523.3 105.6 523.6 107.6 523.7 111.2 523.5 119.2 523.2 123.1 522.4 126.1 522.0 126.8 521.6 127.0M521.6 124.3 521.2 124.2 520.8 123.6 520.2 121.2 519.9 118.0 519.7 111.6 519.8 108.8 520.1 106.8 520.8 105.5 521.6 105.3 522.4 105.7 522.9 106.8 523.2 108.4 523.3 111.6 523.1 117.6 522.8 121.2 522.4 123.1 522.0 124.0 521.6 124.3M521.6 121.5 521.2 121.3 520.8 120.5 520.5 118.8 520.1 111.6 520.5 108.0 520.8 107.2 521.2 106.8 521.6 106.8 522.0 107.0 522.5 108.0 522.8 109.5 522.9 111.6 522.5 119.2 522.0 121.0 521.6 121.5M521.6 118.3 521.2 118.0 520.9 116.4 520.6 112.0 520.8 109.5 521.2 108.6 521.6 108.4 522.0 108.9 522.2 109.6 522.4 112.0 522.1 116.8 521.6 118.3" fill="none" stroke="#222" stroke-width="0.6" clip-path="url(#cC)"/>
<path d="M594.0 177.2 592.0 177.3 589.6 177.1 578.6 175.2 575.2 174.8 570.8 174.5 565.4 174.8 553.2 176.3 546.0 176.9 541.6 177.1 539.2 177.0 537.2 176.5 535.8 175.6 534.7 174.0 534.4 172.4 534.8 171.2 535.6 170.4 537.0 169.6 538.8 168.9 546.8 166.6 554.8 165.1 562.4 164.2 570.0 163.8 586.0 163.7 591.6 163.9 596.0 164.5 598.4 165.5 599.3 166.4 599.8 167.2 600.5 169.6 600.7 171.2 600.5 172.4 600.0 173.6 599.2 174.8 598.0 175.8 596.8 176.5 594.0 177.2M594.4 176.5 592.4 176.7 589.6 176.6 579.0 174.8 575.9 174.4 572.0 174.2 567.1 174.4 552.8 176.1 546.0 176.5 543.2 176.4 541.2 176.1 540.0 175.6 539.1 174.8 538.6 174.0 538.1 172.4 538.3 171.6 538.8 170.8 539.9 170.0 541.6 169.2 548.8 167.1 555.6 165.7 562.0 164.9 570.4 164.3 579.6 164.2 590.4 164.3 594.0 164.7 596.4 165.4 597.9 166.4 598.5 167.2 599.0 168.4 599.4 171.2 599.2 172.4 598.7 173.6 597.7 174.8 596.8 175.5 594.4 176.5M593.2 176.0 591.2 176.2 589.2 176.1 579.2 174.4 572.8 173.9 564.6 174.4 552.8 175.7 546.0 175.8 544.4 175.6 542.9 174.8 541.8 173.2 541.6 172.0 541.9 171.2 542.7 170.4 545.6 169.0 552.4 167.1 559.2 165.8 566.0 165.1 572.8 164.7 586.0 164.6 590.8 164.8 594.0 165.3 596.0 166.1 597.2 167.2 598.0 169.2 598.2 171.6 597.8 172.8 597.3 173.6 596.7 174.4 595.6 175.2 593.2 176.0M591.6 175.6 588.4 175.5 579.4 174.0 573.6 173.5 569.6 173.7 552.8 175.3 548.8 175.2 547.2 174.9 546.3 174.4 545.4 173.2 545.1 172.0 545.4 171.2 546.1 170.4 548.5 169.2 554.8 167.4 560.8 166.2 566.8 165.6 572.4 165.2 584.8 165.1 590.0 165.2 593.2 165.7 595.2 166.5 595.9 167.2 596.4 168.0 597.0 170.0 596.9 172.0 596.3 173.2 595.6 174.0 594.0 175.1 591.6 175.6M592.4 174.8 590.8 175.1 588.4 175.1 579.6 173.6 574.0 173.2 569.2 173.5 557.2 174.6 552.8 174.8 550.8 174.5 549.8 174.0 549.1 173.2 548.7 172.0 548.8 171.2 549.5 170.4 551.6 169.3 556.8 167.8 562.4 166.7 567.2 166.1 573.2 165.7 581.2 165.6 589.2 165.7 592.0 166.0 593.6 166.6 594.8 167.4 595.5 168.8 595.8 170.8 595.5 172.4 595.0 173.2 594.1 174.0 592.4 174.8M591.2 174.4 589.6 174.6 588.0 174.5 579.8 173.2 575.6 172.9 572.0 173.0 559.6 174.0 555.2 174.1 553.2 173.5 552.5 172.8 552.2 171.6 552.6 170.8 553.0 170.4 555.4 169.2 560.0 167.9 564.8 167.0 569.2 166.4 574.8 166.1 588.8 166.1 591.2 166.5 592.8 167.0 593.9 168.0 594.5 169.2 594.7 170.8 594.2 172.4 593.1 173.6 591.2 174.4M589.6 174.0 587.2 174.0 580.0 172.8 576.4 172.6 572.8 172.6 562.0 173.5 558.8 173.5 556.8 173.2 555.9 172.4 555.7 171.6 556.0 170.8 556.4 170.4 558.0 169.5 562.0 168.3 566.8 167.3 570.8 166.9 575.6 166.6 588.0 166.6 590.4 166.9 592.0 167.5 592.9 168.4 593.4 169.6 593.4 171.2 592.8 172.5 591.3 173.6 589.6 174.0M590.0 173.3 588.8 173.5 587.2 173.5 580.8 172.5 577.2 172.2 573.2 172.3 566.0 172.9 562.0 172.9 560.9 172.8 559.8 172.4 559.4 172.0 559.3 171.2 559.9 170.4 560.5 170.0 562.4 169.2 565.6 168.3 569.2 167.7 576.8 167.0 587.2 167.0 590.4 167.6 591.2 168.0 591.9 168.8 592.3 170.4 592.0 171.6 591.2 172.6 590.0 173.3M588.8 172.8 586.4 172.9 581.2 172.1 578.0 171.9 565.6 172.4 563.4 172.0 562.9 171.6 562.8 171.2 563.3 170.4 564.8 169.6 567.4 168.8 571.2 168.0 578.0 167.5 586.8 167.5 589.6 168.0 590.2 168.4 590.8 169.2 591.1 170.4 590.7 171.6 589.9 172.4 588.8 172.8M587.2 172.4 578.8 171.5 568.0 171.7 566.8 171.4 566.5 171.2 566.5 170.8 567.4 170.0 568.3 169.6 571.2 168.8 573.4 168.4 579.2 167.9 586.4 167.9 588.8 168.5 589.6 169.2 589.8 170.0 589.8 170.8 589.3 171.6 588.4 172.2 587.2 172.4M587.6 171.6 586.0 171.8 580.4 171.1 572.0 171.1 570.4 170.8 570.4 170.4 571.9 169.6 575.6 168.8 580.0 168.4 585.6 168.4 587.6 168.8 588.5 169.6 588.5 170.8 587.6 171.6M586.0 171.2 580.8 170.7 575.2 170.4 574.9 170.0 575.9 169.6 578.8 169.1 585.2 168.9 586.5 169.2 587.1 169.6 587.3 170.0 587.0 170.8 586.0 171.2M585.2 170.4 584.0 170.4 582.2 170.0 583.1 169.6 584.7 169.6 585.6 170.0 585.2 170.4" fill="none" stroke="#222" stroke-width="0.6" clip-path="url(#cC)"/>
<polyline points="519.9,167.4 523.9,171.9 519.9,171.9" fill="none" stroke="#000" stroke-width="1.1"/>
<line x1="572.50" y1="22.40" x2="572.50" y2="172.30" stroke="#1a1a1a" stroke-width="1.1" />
<line x1="519.60" y1="113.30" x2="669.50" y2="113.30" stroke="#2a2a2a" stroke-width="1.3" />
<line x1="519.10" y1="22.40" x2="670.00" y2="22.40" stroke="#333" stroke-width="1.0" />
<line x1="669.50" y1="22.40" x2="669.50" y2="172.80" stroke="#333" stroke-width="1.0" />
<line x1="519.10" y1="172.30" x2="670.00" y2="172.30" stroke="#333" stroke-width="1.0" />
<line x1="519.60" y1="22.40" x2="519.60" y2="172.80" stroke="#444" stroke-width="1.0" />
<line x1="519.80" y1="172.30" x2="519.80" y2="177.00" stroke="#000" stroke-width="1.4" />
<text transform="translate(522.40 185.40) scale(1.0 1.12)" font-size="6.0" text-anchor="start" font-family='"Liberation Sans", sans-serif' font-weight="normal" fill="#222" >10</text>
<text transform="translate(527.98 181.80) scale(1.0 1.12)" font-size="5.1" text-anchor="start" font-family='"Liberation Sans", sans-serif' font-weight="normal" fill="#222" >0</text>
<line x1="514.60" y1="171.70" x2="519.60" y2="171.70" stroke="#000" stroke-width="1.4" />
<text transform="translate(508.90 176.20) scale(1.0 1.12)" font-size="6.0" text-anchor="end" font-family='"Liberation Sans", sans-serif' font-weight="normal" fill="#222" >10</text>
<text transform="translate(511.90 172.30) scale(1.0 1.12)" font-size="5.1" text-anchor="end" font-family='"Liberation Sans", sans-serif' font-weight="normal" fill="#222" >0</text>
<line x1="528.03" y1="172.30" x2="528.03" y2="174.90" stroke="#222" stroke-width="0.8" />
<line x1="517.00" y1="163.39" x2="519.60" y2="163.39" stroke="#222" stroke-width="0.8" />
<line x1="532.85" y1="172.30" x2="532.85" y2="174.90" stroke="#222" stroke-width="0.8" />
<line x1="517.00" y1="158.53" x2="519.60" y2="158.53" stroke="#222" stroke-width="0.8" />
<line x1="536.27" y1="172.30" x2="536.27" y2="174.90" stroke="#222" stroke-width="0.8" />
<line x1="517.00" y1="155.08" x2="519.60" y2="155.08" stroke="#222" stroke-width="0.8" />
<line x1="538.92" y1="172.30" x2="538.92" y2="175.30" stroke="#222" stroke-width="0.8" />
<line x1="516.60" y1="152.41" x2="519.60" y2="152.41" stroke="#222" stroke-width="0.8" />
<line x1="541.08" y1="172.30" x2="541.08" y2="174.90" stroke="#222" stroke-width="0.8" />
<line x1="517.00" y1="150.22" x2="519.60" y2="150.22" stroke="#222" stroke-width="0.8" />
<line x1="542.91" y1="172.30" x2="542.91" y2="174.90" stroke="#222" stroke-width="0.8" />
<line x1="517.00" y1="148.38" x2="519.60" y2="148.38" stroke="#222" stroke-width="0.8" />
<line x1="544.50" y1="172.30" x2="544.50" y2="174.90" stroke="#222" stroke-width="0.8" />
<line x1="517.00" y1="146.77" x2="519.60" y2="146.77" stroke="#222" stroke-width="0.8" />
<line x1="545.90" y1="172.30" x2="545.90" y2="174.90" stroke="#222" stroke-width="0.8" />
<line x1="517.00" y1="145.36" x2="519.60" y2="145.36" stroke="#222" stroke-width="0.8" />
<line x1="547.15" y1="172.30" x2="547.15" y2="177.00" stroke="#000" stroke-width="1.4" />
<text transform="translate(548.15 185.40) scale(1.0 1.12)" font-size="6.0" text-anchor="start" font-family='"Liberation Sans", sans-serif' font-weight="normal" fill="#222" >10</text>
<text transform="translate(553.73 181.80) scale(1.0 1.12)" font-size="5.1" text-anchor="start" font-family='"Liberation Sans", sans-serif' font-weight="normal" fill="#222" >1</text>
<line x1="514.60" y1="144.10" x2="519.60" y2="144.10" stroke="#000" stroke-width="1.4" />
<text transform="translate(508.90 148.60) scale(1.0 1.12)" font-size="6.0" text-anchor="end" font-family='"Liberation Sans", sans-serif' font-weight="normal" fill="#222" >10</text>
<text transform="translate(511.90 144.70) scale(1.0 1.12)" font-size="5.1" text-anchor="end" font-family='"Liberation Sans", sans-serif' font-weight="normal" fill="#222" >1</text>
<line x1="555.38" y1="172.30" x2="555.38" y2="174.90" stroke="#222" stroke-width="0.8" />
<line x1="517.00" y1="135.79" x2="519.60" y2="135.79" stroke="#222" stroke-width="0.8" />
<line x1="560.20" y1="172.30" x2="560.20" y2="174.90" stroke="#222" stroke-width="0.8" />
<line x1="517.00" y1="130.93" x2="519.60" y2="130.93" stroke="#222" stroke-width="0.8" />
<line x1="563.62" y1="172.30" x2="563.62" y2="174.90" stroke="#222" stroke-width="0.8" />
<line x1="517.00" y1="127.48" x2="519.60" y2="127.48" stroke="#222" stroke-width="0.8" />
<line x1="566.27" y1="172.30" x2="566.27" y2="175.30" stroke="#222" stroke-width="0.8" />
<line x1="516.60" y1="124.81" x2="519.60" y2="124.81" stroke="#222" stroke-width="0.8" />
<line x1="568.43" y1="172.30" x2="568.43" y2="174.90" stroke="#222" stroke-width="0.8" />
<line x1="517.00" y1="122.62" x2="519.60" y2="122.62" stroke="#222" stroke-width="0.8" />
<line x1="570.26" y1="172.30" x2="570.26" y2="174.90" stroke="#222" stroke-width="0.8" />
<line x1="517.00" y1="120.78" x2="519.60" y2="120.78" stroke="#222" stroke-width="0.8" />
<line x1="571.85" y1="172.30" x2="571.85" y2="174.90" stroke="#222" stroke-width="0.8" />
<line x1="517.00" y1="119.17" x2="519.60" y2="119.17" stroke="#222" stroke-width="0.8" />
<line x1="573.25" y1="172.30" x2="573.25" y2="174.90" stroke="#222" stroke-width="0.8" />
<line x1="517.00" y1="117.76" x2="519.60" y2="117.76" stroke="#222" stroke-width="0.8" />
<line x1="574.50" y1="172.30" x2="574.50" y2="177.00" stroke="#000" stroke-width="1.4" />
<text transform="translate(575.50 185.40) scale(1.0 1.12)" font-size="6.0" text-anchor="start" font-family='"Liberation Sans", sans-serif' font-weight="normal" fill="#222" >10</text>
<text transform="translate(581.08 181.80) scale(1.0 1.12)" font-size="5.1" text-anchor="start" font-family='"Liberation Sans", sans-serif' font-weight="normal" fill="#222" >2</text>
<line x1="514.60" y1="116.50" x2="519.60" y2="116.50" stroke="#000" stroke-width="1.4" />
<text transform="translate(508.90 121.00) scale(1.0 1.12)" font-size="6.0" text-anchor="end" font-family='"Liberation Sans", sans-serif' font-weight="normal" fill="#222" >10</text>
<text transform="translate(511.90 117.10) scale(1.0 1.12)" font-size="5.1" text-anchor="end" font-family='"Liberation Sans", sans-serif' font-weight="normal" fill="#222" >2</text>
<line x1="582.73" y1="172.30" x2="582.73" y2="174.90" stroke="#222" stroke-width="0.8" />
<line x1="517.00" y1="108.19" x2="519.60" y2="108.19" stroke="#222" stroke-width="0.8" />
<line x1="587.55" y1="172.30" x2="587.55" y2="174.90" stroke="#222" stroke-width="0.8" />
<line x1="517.00" y1="103.33" x2="519.60" y2="103.33" stroke="#222" stroke-width="0.8" />
<line x1="590.97" y1="172.30" x2="590.97" y2="174.90" stroke="#222" stroke-width="0.8" />
<line x1="517.00" y1="99.88" x2="519.60" y2="99.88" stroke="#222" stroke-width="0.8" />
<line x1="593.62" y1="172.30" x2="593.62" y2="175.30" stroke="#222" stroke-width="0.8" />
<line x1="516.60" y1="97.21" x2="519.60" y2="97.21" stroke="#222" stroke-width="0.8" />
<line x1="595.78" y1="172.30" x2="595.78" y2="174.90" stroke="#222" stroke-width="0.8" />
<line x1="517.00" y1="95.02" x2="519.60" y2="95.02" stroke="#222" stroke-width="0.8" />
<line x1="597.61" y1="172.30" x2="597.61" y2="174.90" stroke="#222" stroke-width="0.8" />
<line x1="517.00" y1="93.18" x2="519.60" y2="93.18" stroke="#222" stroke-width="0.8" />
<line x1="599.20" y1="172.30" x2="599.20" y2="174.90" stroke="#222" stroke-width="0.8" />
<line x1="517.00" y1="91.57" x2="519.60" y2="91.57" stroke="#222" stroke-width="0.8" />
<line x1="600.60" y1="172.30" x2="600.60" y2="174.90" stroke="#222" stroke-width="0.8" />
<line x1="517.00" y1="90.16" x2="519.60" y2="90.16" stroke="#222" stroke-width="0.8" />
<line x1="601.85" y1="172.30" x2="601.85" y2="177.00" stroke="#000" stroke-width="1.4" />
<text transform="translate(602.85 185.40) scale(1.0 1.12)" font-size="6.0" text-anchor="start" font-family='"Liberation Sans", sans-serif' font-weight="normal" fill="#222" >10</text>
<text transform="translate(608.43 181.80) scale(1.0 1.12)" font-size="5.1" text-anchor="start" font-family='"Liberation Sans", sans-serif' font-weight="normal" fill="#222" >3</text>
<line x1="514.60" y1="88.90" x2="519.60" y2="88.90" stroke="#000" stroke-width="1.4" />
<text transform="translate(508.90 93.40) scale(1.0 1.12)" font-size="6.0" text-anchor="end" font-family='"Liberation Sans", sans-serif' font-weight="normal" fill="#222" >10</text>
<text transform="translate(511.90 89.50) scale(1.0 1.12)" font-size="5.1" text-anchor="end" font-family='"Liberation Sans", sans-serif' font-weight="normal" fill="#222" >3</text>
<line x1="610.08" y1="172.30" x2="610.08" y2="174.90" stroke="#222" stroke-width="0.8" />
<line x1="517.00" y1="80.59" x2="519.60" y2="80.59" stroke="#222" stroke-width="0.8" />
<line x1="614.90" y1="172.30" x2="614.90" y2="174.90" stroke="#222" stroke-width="0.8" />
<line x1="517.00" y1="75.73" x2="519.60" y2="75.73" stroke="#222" stroke-width="0.8" />
<line x1="618.32" y1="172.30" x2="618.32" y2="174.90" stroke="#222" stroke-width="0.8" />
<line x1="517.00" y1="72.28" x2="519.60" y2="72.28" stroke="#222" stroke-width="0.8" />
<line x1="620.97" y1="172.30" x2="620.97" y2="175.30" stroke="#222" stroke-width="0.8" />
<line x1="516.60" y1="69.61" x2="519.60" y2="69.61" stroke="#222" stroke-width="0.8" />
<line x1="623.13" y1="172.30" x2="623.13" y2="174.90" stroke="#222" stroke-width="0.8" />
<line x1="517.00" y1="67.42" x2="519.60" y2="67.42" stroke="#222" stroke-width="0.8" />
<line x1="624.96" y1="172.30" x2="624.96" y2="174.90" stroke="#222" stroke-width="0.8" />
<line x1="517.00" y1="65.58" x2="519.60" y2="65.58" stroke="#222" stroke-width="0.8" />
<line x1="626.55" y1="172.30" x2="626.55" y2="174.90" stroke="#222" stroke-width="0.8" />
<line x1="517.00" y1="63.97" x2="519.60" y2="63.97" stroke="#222" stroke-width="0.8" />
<line x1="627.95" y1="172.30" x2="627.95" y2="174.90" stroke="#222" stroke-width="0.8" />
<line x1="517.00" y1="62.56" x2="519.60" y2="62.56" stroke="#222" stroke-width="0.8" />
<line x1="629.20" y1="172.30" x2="629.20" y2="177.00" stroke="#000" stroke-width="1.4" />
<text transform="translate(630.20 185.40) scale(1.0 1.12)" font-size="6.0" text-anchor="start" font-family='"Liberation Sans", sans-serif' font-weight="normal" fill="#222" >10</text>
<text transform="translate(635.78 181.80) scale(1.0 1.12)" font-size="5.1" text-anchor="start" font-family='"Liberation Sans", sans-serif' font-weight="normal" fill="#222" >4</text>
<line x1="514.60" y1="61.30" x2="519.60" y2="61.30" stroke="#000" stroke-width="1.4" />
<text transform="translate(508.90 65.80) scale(1.0 1.12)" font-size="6.0" text-anchor="end" font-family='"Liberation Sans", sans-serif' font-weight="normal" fill="#222" >10</text>
<text transform="translate(511.90 61.90) scale(1.0 1.12)" font-size="5.1" text-anchor="end" font-family='"Liberation Sans", sans-serif' font-weight="normal" fill="#222" >4</text>
<line x1="637.43" y1="172.30" x2="637.43" y2="174.90" stroke="#222" stroke-width="0.8" />
<line x1="517.00" y1="52.99" x2="519.60" y2="52.99" stroke="#222" stroke-width="0.8" />
<line x1="642.25" y1="172.30" x2="642.25" y2="174.90" stroke="#222" stroke-width="0.8" />
<line x1="517.00" y1="48.13" x2="519.60" y2="48.13" stroke="#222" stroke-width="0.8" />
<line x1="645.67" y1="172.30" x2="645.67" y2="174.90" stroke="#222" stroke-width="0.8" />
<line x1="517.00" y1="44.68" x2="519.60" y2="44.68" stroke="#222" stroke-width="0.8" />
<line x1="648.32" y1="172.30" x2="648.32" y2="175.30" stroke="#222" stroke-width="0.8" />
<line x1="516.60" y1="42.01" x2="519.60" y2="42.01" stroke="#222" stroke-width="0.8" />
<line x1="650.48" y1="172.30" x2="650.48" y2="174.90" stroke="#222" stroke-width="0.8" />
<line x1="517.00" y1="39.82" x2="519.60" y2="39.82" stroke="#222" stroke-width="0.8" />
<line x1="652.31" y1="172.30" x2="652.31" y2="174.90" stroke="#222" stroke-width="0.8" />
<line x1="517.00" y1="37.98" x2="519.60" y2="37.98" stroke="#222" stroke-width="0.8" />
<line x1="653.90" y1="172.30" x2="653.90" y2="174.90" stroke="#222" stroke-width="0.8" />
<line x1="517.00" y1="36.37" x2="519.60" y2="36.37" stroke="#222" stroke-width="0.8" />
<line x1="655.30" y1="172.30" x2="655.30" y2="174.90" stroke="#222" stroke-width="0.8" />
<line x1="517.00" y1="34.96" x2="519.60" y2="34.96" stroke="#222" stroke-width="0.8" />
<line x1="656.55" y1="172.30" x2="656.55" y2="177.00" stroke="#000" stroke-width="1.4" />
<text transform="translate(657.55 185.40) scale(1.0 1.12)" font-size="6.0" text-anchor="start" font-family='"Liberation Sans", sans-serif' font-weight="normal" fill="#222" >10</text>
<text transform="translate(663.13 181.80) scale(1.0 1.12)" font-size="5.1" text-anchor="start" font-family='"Liberation Sans", sans-serif' font-weight="normal" fill="#222" >5</text>
<line x1="514.60" y1="33.70" x2="519.60" y2="33.70" stroke="#000" stroke-width="1.4" />
<text transform="translate(508.90 38.20) scale(1.0 1.12)" font-size="6.0" text-anchor="end" font-family='"Liberation Sans", sans-serif' font-weight="normal" fill="#222" >10</text>
<text transform="translate(511.90 34.30) scale(1.0 1.12)" font-size="5.1" text-anchor="end" font-family='"Liberation Sans", sans-serif' font-weight="normal" fill="#222" >5</text>
<line x1="664.78" y1="172.30" x2="664.78" y2="174.90" stroke="#222" stroke-width="0.8" />
<line x1="517.00" y1="25.39" x2="519.60" y2="25.39" stroke="#222" stroke-width="0.8" />
<text transform="translate(522.00 34.00) scale(1.0 1.12)" font-size="6.2" text-anchor="start" font-family='"Liberation Sans", sans-serif' font-weight="normal" fill="#222" >Q1</text>
<text transform="translate(522.00 43.20) scale(1.0 1.12)" font-size="6.2" text-anchor="start" font-family='"Liberation Sans", sans-serif' font-weight="normal" fill="#222" >15.4</text>
<text transform="translate(656.55 34.00) scale(1.0 1.12)" font-size="6.2" text-anchor="end" font-family='"Liberation Sans", sans-serif' font-weight="normal" fill="#222" >Q2</text>
<text transform="translate(656.55 43.20) scale(1.0 1.12)" font-size="6.2" text-anchor="end" font-family='"Liberation Sans", sans-serif' font-weight="normal" fill="#222" >18.6</text>
<text transform="translate(522.00 155.70) scale(1.0 1.12)" font-size="6.2" text-anchor="start" font-family='"Liberation Sans", sans-serif' font-weight="normal" fill="#222" >Q4</text>
<text transform="translate(522.00 164.90) scale(1.0 1.12)" font-size="6.2" text-anchor="start" font-family='"Liberation Sans", sans-serif' font-weight="normal" fill="#222" >40.2</text>
<text transform="translate(656.55 155.70) scale(1.0 1.12)" font-size="6.2" text-anchor="end" font-family='"Liberation Sans", sans-serif' font-weight="normal" fill="#222" >Q3</text>
<text transform="translate(656.55 164.90) scale(1.0 1.12)" font-size="6.2" text-anchor="end" font-family='"Liberation Sans", sans-serif' font-weight="normal" fill="#222" >25.8</text>
<line x1="495.50" y1="57.70" x2="497.40" y2="134.50" stroke="#000" stroke-width="1.8" />
<polygon points="495.3,50.0 491.3,58.2 499.7,58.2" fill="#000"/>
<text transform="translate(492.50 98.80) rotate(-90) scale(1 1.2)" font-size="6.2" text-anchor="middle" font-family='"Liberation Sans", sans-serif' fill="#222">FITC-A</text>
<line x1="539.80" y1="202.20" x2="628.60" y2="202.20" stroke="#000" stroke-width="1.8" />
<polygon points="636.6,202.2 628.4,198.1 628.4,206.3" fill="#000"/>
<text transform="translate(593.20 199.00) scale(1.0 1.12)" font-size="6.2" text-anchor="middle" font-family='"Liberation Sans", sans-serif' font-weight="normal" fill="#222" >PE-A</text>
<text x="535.00" y="225.80" font-size="15.3" text-anchor="start" font-family='"Liberation Serif", serif' font-weight="normal" fill="#000" >Healthy Newborns</text>
<text x="476.30" y="10.60" font-size="15" text-anchor="start" font-family='"Liberation Serif", serif' font-weight="normal" fill="#000" >C</text>
<clipPath id="cD"><rect x="53.8" y="257.0" width="160.89999999999998" height="160.10000000000002"/></clipPath>
<path d="M150.6 362.2 148.2 362.5 145.8 362.3 143.4 361.6 141.0 360.4 138.6 358.5 135.9 355.8 134.0 353.4 132.5 350.6 131.5 348.2 130.9 345.4 130.8 342.6 131.0 340.2 131.7 337.4 132.7 335.0 133.9 333.0 135.6 331.0 137.8 329.2 139.8 328.0 142.6 326.9 147.4 325.5 149.7 324.2 151.8 322.2 159.3 313.0 164.6 307.9 167.8 305.3 171.0 303.2 174.6 301.2 178.2 299.6 183.0 298.0 188.2 296.9 193.0 296.3 197.4 296.3 201.8 296.8 205.8 297.8 209.0 299.2 211.3 301.0 212.2 302.2 212.9 303.4 213.2 304.6 213.2 306.2 212.8 307.8 212.2 309.0 210.1 311.8 207.0 314.4 198.5 320.2 196.2 322.2 189.0 329.2 179.0 336.9 175.8 340.2 167.3 350.6 164.2 353.8 161.4 356.4 158.6 358.5 155.8 360.3 153.0 361.5 150.6 362.2M149.8 359.4 147.4 359.4 145.4 359.1 143.4 358.3 141.4 357.2 139.4 355.6 137.4 353.6 136.0 351.8 134.7 349.4 134.0 347.4 133.4 345.0 133.3 343.0 133.5 340.6 134.0 338.6 134.8 336.6 136.0 334.6 137.4 333.0 139.0 331.6 141.0 330.4 143.0 329.6 147.8 328.1 150.2 326.8 152.6 324.6 159.8 315.8 164.6 311.1 167.8 308.5 171.0 306.3 174.2 304.4 177.4 302.8 181.4 301.3 185.8 300.0 190.2 299.2 194.2 299.0 198.2 299.2 201.8 299.9 204.6 301.0 206.8 302.6 207.4 303.4 208.0 304.6 208.3 306.6 208.0 307.8 207.5 309.0 205.6 311.4 203.0 313.6 195.0 319.3 187.4 326.6 178.6 333.9 175.4 337.4 167.1 347.8 164.2 350.9 161.4 353.5 158.2 356.0 155.4 357.7 152.6 358.8 149.8 359.4M151.0 357.0 149.0 357.2 147.0 357.0 145.0 356.5 143.4 355.8 141.4 354.5 139.7 353.0 138.2 351.3 137.0 349.4 136.1 347.4 135.6 345.4 135.4 343.4 135.5 341.4 135.9 339.4 136.5 337.8 137.4 336.2 138.8 334.6 140.2 333.4 141.8 332.4 143.8 331.5 148.2 330.2 149.8 329.4 150.9 328.6 153.4 326.1 159.8 318.3 164.2 313.9 167.0 311.6 170.2 309.4 173.8 307.2 177.0 305.5 180.6 303.9 184.6 302.6 188.2 301.8 191.8 301.4 195.0 301.4 198.2 301.8 200.6 302.6 202.6 303.9 203.7 305.4 203.9 307.0 203.3 309.0 201.7 311.0 199.8 312.7 192.2 318.4 185.4 325.0 178.6 331.2 175.4 334.8 167.5 345.0 164.6 348.2 161.8 350.9 159.0 353.2 156.2 355.1 153.4 356.4 151.0 357.0M151.0 355.4 149.0 355.6 147.4 355.4 145.8 355.0 144.2 354.3 142.6 353.4 141.0 352.1 139.6 350.6 138.5 349.0 137.7 347.4 137.2 345.8 136.9 343.8 136.9 342.2 137.3 340.2 137.9 338.6 138.8 337.0 139.8 335.8 141.0 334.7 142.6 333.7 148.6 331.6 151.0 330.2 153.4 327.9 159.8 320.1 163.4 316.4 168.6 312.3 175.0 308.5 179.0 306.6 182.6 305.2 186.2 304.1 189.4 303.5 192.6 303.3 195.4 303.5 197.7 304.2 199.4 305.3 200.0 306.2 200.2 307.4 200.0 308.6 199.0 310.2 196.9 312.2 189.8 317.8 178.6 329.1 175.0 333.3 168.1 342.6 164.2 347.0 160.6 350.3 157.4 352.8 154.2 354.5 151.0 355.4M150.2 354.2 148.6 354.2 147.0 353.9 144.2 352.8 142.7 351.8 141.4 350.7 139.5 348.2 138.4 345.4 138.2 343.8 138.2 342.2 138.9 339.4 139.6 338.2 140.6 336.9 141.8 335.8 143.4 334.8 149.0 332.7 151.4 331.3 153.4 329.4 159.0 322.4 162.6 318.6 167.0 314.9 171.8 311.9 175.8 309.9 180.6 307.8 183.8 306.6 187.0 305.7 189.8 305.3 192.2 305.3 194.5 305.8 195.8 306.6 196.4 307.4 196.5 308.2 196.3 309.0 195.6 310.2 194.0 311.8 189.8 315.2 187.4 317.4 179.0 326.7 175.4 331.1 168.2 341.0 164.2 345.7 160.2 349.4 156.6 352.0 153.4 353.5 150.2 354.2M150.6 353.0 147.8 352.9 145.0 351.9 142.6 350.2 140.6 347.8 139.6 345.4 139.4 342.6 139.9 340.2 140.5 339.0 141.4 337.8 142.6 336.7 143.8 335.9 149.4 333.7 151.8 332.2 153.8 330.2 158.8 323.8 161.8 320.5 165.4 317.3 169.4 314.6 175.0 311.9 184.6 308.5 187.0 307.9 189.0 307.8 190.6 308.0 191.4 308.5 191.7 309.4 191.4 310.2 190.9 311.0 186.6 315.2 184.6 317.5 176.2 328.4 168.5 339.4 165.0 343.7 161.0 347.6 157.4 350.3 153.8 352.2 150.6 353.0M151.4 351.8 148.6 351.9 146.2 351.2 143.8 349.8 141.9 347.8 140.8 345.4 140.5 343.0 141.0 340.6 142.2 338.6 144.2 337.0 149.8 334.6 152.2 332.9 154.2 330.8 158.8 325.0 161.4 322.0 164.6 319.1 167.8 316.8 171.8 314.7 176.2 313.2 181.0 312.5 182.3 312.6 183.0 313.0 183.2 313.8 183.0 315.0 181.9 317.4 180.2 320.6 170.5 335.4 166.7 340.6 162.6 345.1 158.6 348.5 155.0 350.7 153.0 351.5 151.4 351.8M152.2 350.7 149.8 350.9 147.4 350.5 145.0 349.4 143.4 347.9 142.1 345.8 141.6 343.8 141.8 341.8 142.7 339.8 143.8 338.6 144.9 337.8 149.8 335.6 152.2 334.0 154.2 331.9 158.6 326.2 161.0 323.4 163.8 320.7 166.6 318.6 169.8 316.8 173.0 315.6 176.2 315.3 177.4 315.5 178.2 315.9 178.9 317.0 179.0 318.2 178.6 319.8 177.6 322.2 172.1 331.8 167.5 338.6 163.8 343.0 159.8 346.6 155.8 349.3 153.8 350.2 152.2 350.7M151.4 349.8 149.4 349.9 147.4 349.4 145.4 348.3 144.0 347.0 143.1 345.4 142.7 343.4 143.0 341.8 143.9 340.2 145.7 338.6 150.2 336.4 152.6 334.6 154.6 332.5 160.8 324.6 163.4 322.0 165.8 320.1 168.6 318.5 171.4 317.4 173.8 317.2 175.0 317.4 175.7 317.8 176.3 318.6 176.5 320.2 176.2 321.8 175.5 323.8 174.0 327.0 171.5 331.4 169.3 335.0 167.0 338.3 163.3 342.6 159.0 346.3 155.0 348.8 153.0 349.5 151.4 349.8M152.6 348.6 150.6 348.9 148.6 348.6 147.0 348.0 145.6 347.0 144.7 345.8 144.1 344.2 144.1 342.6 144.8 341.0 146.2 339.6 150.6 337.2 153.0 335.3 154.6 333.5 160.5 325.8 162.6 323.6 165.0 321.6 167.8 319.9 170.2 319.0 172.2 318.8 173.0 318.9 173.8 319.3 174.5 320.2 174.7 321.4 174.5 323.0 173.9 325.0 171.0 331.0 167.2 337.0 163.8 341.2 160.2 344.5 156.2 347.2 154.2 348.1 152.6 348.6M153.4 347.4 151.4 347.8 149.8 347.7 148.2 347.2 147.0 346.5 146.0 345.4 145.5 344.2 145.6 342.6 146.2 341.5 147.4 340.3 151.0 338.0 153.0 336.3 155.0 334.0 160.2 327.1 162.2 324.9 164.2 323.1 166.6 321.5 168.6 320.6 170.6 320.3 171.4 320.3 172.2 320.7 172.8 321.4 173.1 322.6 173.0 324.2 172.6 325.8 170.3 331.0 167.0 336.4 163.9 340.2 160.6 343.3 157.0 345.8 153.4 347.4M153.4 346.3 151.8 346.5 150.6 346.5 149.4 346.2 148.2 345.4 147.6 344.6 147.3 343.8 147.4 342.9 148.0 341.8 151.8 338.6 153.4 337.1 159.8 328.5 163.4 324.7 165.8 322.9 167.8 322.0 169.8 321.7 171.0 322.2 171.6 323.0 171.8 324.2 171.6 325.8 171.1 327.4 168.9 332.2 166.1 336.6 163.4 339.9 160.2 342.8 156.6 345.1 153.4 346.3M155.0 344.6 152.6 345.0 151.0 344.7 150.0 343.8 150.0 342.6 150.8 341.4 154.6 336.9 159.5 329.8 162.2 326.7 164.2 325.0 166.2 323.7 168.2 323.1 169.5 323.4 170.2 324.1 170.4 325.0 170.2 327.4 168.6 331.4 166.3 335.4 163.8 338.6 161.0 341.2 157.8 343.4 155.0 344.6M155.4 343.0 154.2 343.0 153.5 342.6 153.2 341.8 153.4 341.0 156.6 335.4 159.4 331.0 162.1 327.8 164.6 325.7 165.8 325.0 167.0 324.7 167.8 324.6 168.6 325.0 169.0 325.5 169.2 326.6 168.8 329.0 167.4 332.3 165.3 335.8 163.0 338.5 160.6 340.6 157.8 342.3 155.4 343.0M158.6 340.6 157.4 340.9 156.6 340.9 156.1 340.6 155.9 339.8 156.5 337.4 158.9 333.0 161.0 330.0 163.4 327.6 164.6 326.8 165.8 326.3 166.6 326.2 167.4 326.5 167.9 327.4 167.8 329.0 167.0 331.4 165.8 333.8 164.2 336.1 162.2 338.2 160.2 339.8 158.6 340.6M159.8 338.6 158.6 338.7 158.2 338.5 158.0 337.8 158.4 335.8 159.8 333.0 161.4 330.8 163.0 329.2 164.6 328.2 165.4 328.1 165.9 328.2 166.4 329.0 166.4 330.2 165.9 331.8 165.0 333.5 163.8 335.3 162.6 336.6 161.0 338.0 159.8 338.6" fill="none" stroke="#444" stroke-width="0.6" clip-path="url(#cD)"/>
<path d="M56.8 358.5 56.4 358.7 55.6 358.7 54.8 358.2 54.0 357.2 53.1 355.6 51.8 351.6 51.4 349.2 51.2 346.4 51.1 337.6 51.3 334.4 51.7 332.4 52.6 329.6 53.8 327.2 54.8 325.8 56.0 325.3 56.8 325.5 57.6 326.3 58.5 327.6 59.4 329.6 60.6 333.6 60.9 337.6 60.7 347.6 60.3 351.2 59.7 353.6 58.7 356.0 57.7 357.6 56.8 358.5M56.0 357.3 55.2 357.0 54.0 355.6 53.0 353.6 52.2 351.2 51.7 347.6 51.5 338.8 51.8 334.4 52.5 331.2 53.4 329.2 54.4 327.5 55.2 326.7 56.0 326.4 56.8 326.7 57.6 327.5 58.6 329.2 59.5 331.2 60.2 334.4 60.5 338.8 60.3 347.6 59.8 351.2 59.0 353.6 58.0 355.6 56.8 357.0 56.0 357.3M56.8 355.6 56.0 355.9 55.2 355.6 54.4 354.8 53.5 353.2 52.9 351.6 52.3 349.2 51.9 344.8 51.8 337.6 52.3 333.6 53.1 331.2 54.0 329.2 55.2 327.8 56.0 327.5 56.8 327.8 57.4 328.4 58.9 331.2 59.8 334.4 60.2 338.0 60.0 345.6 59.7 349.2 59.1 351.6 58.5 353.2 57.6 354.8 56.8 355.6M56.4 354.5 55.6 354.5 54.6 353.6 53.7 352.0 53.0 350.0 52.4 346.8 52.2 340.0 52.3 336.0 53.0 332.8 54.4 329.8 55.2 328.9 56.0 328.6 56.4 328.7 57.2 329.3 58.7 332.0 59.5 334.8 59.8 338.4 59.7 345.6 59.3 348.8 58.8 350.8 58.0 352.6 57.2 353.8 56.4 354.5M56.8 352.8 56.4 353.1 55.6 353.1 54.8 352.4 54.1 351.2 53.0 348.0 52.7 344.4 52.6 338.0 52.9 334.8 53.5 332.8 54.4 331.0 55.2 330.0 56.0 329.7 56.4 329.8 57.2 330.4 58.3 332.4 59.1 334.8 59.4 338.0 59.3 344.4 59.1 347.6 58.1 350.8 57.6 351.8 56.8 352.8M56.4 351.7 56.0 351.8 55.2 351.4 54.4 350.3 53.8 348.8 53.1 345.6 52.9 340.8 53.0 337.2 53.5 334.4 54.1 332.8 54.8 331.6 55.6 330.9 56.0 330.8 56.4 330.9 57.2 331.6 58.2 333.6 58.9 336.0 59.1 338.8 59.0 344.4 58.7 347.2 57.6 350.3 57.0 351.2 56.4 351.7" fill="none" stroke="#999" stroke-width="0.6" clip-path="url(#cD)"/>
<polyline points="54.1,412.2 58.1,416.7 54.1,416.7" fill="none" stroke="#000" stroke-width="1.1"/>
<line x1="114.60" y1="257.00" x2="114.60" y2="417.10" stroke="#1a1a1a" stroke-width="1.1" />
<line x1="53.80" y1="359.80" x2="214.70" y2="359.80" stroke="#2a2a2a" stroke-width="1.3" />
<line x1="53.30" y1="257.00" x2="215.20" y2="257.00" stroke="#999" stroke-width="1.0" />
<line x1="214.70" y1="257.00" x2="214.70" y2="417.60" stroke="#555" stroke-width="1.0" />
<line x1="53.30" y1="417.10" x2="215.20" y2="417.10" stroke="#444" stroke-width="1.0" />
<line x1="53.80" y1="257.00" x2="53.80" y2="417.60" stroke="#999" stroke-width="1.0" />
<line x1="54.20" y1="417.10" x2="54.20" y2="421.80" stroke="#000" stroke-width="1.4" />
<text transform="translate(56.80 430.20) scale(1.0 1.12)" font-size="6.0" text-anchor="start" font-family='"Liberation Sans", sans-serif' font-weight="normal" fill="#222" >10</text>
<text transform="translate(62.38 426.60) scale(1.0 1.12)" font-size="5.1" text-anchor="start" font-family='"Liberation Sans", sans-serif' font-weight="normal" fill="#222" >0</text>
<line x1="48.80" y1="415.80" x2="53.80" y2="415.80" stroke="#000" stroke-width="1.4" />
<text transform="translate(43.10 420.30) scale(1.0 1.12)" font-size="6.0" text-anchor="end" font-family='"Liberation Sans", sans-serif' font-weight="normal" fill="#222" >10</text>
<text transform="translate(46.10 416.40) scale(1.0 1.12)" font-size="5.1" text-anchor="end" font-family='"Liberation Sans", sans-serif' font-weight="normal" fill="#222" >0</text>
<line x1="63.02" y1="417.10" x2="63.02" y2="419.70" stroke="#222" stroke-width="0.8" />
<line x1="51.20" y1="406.98" x2="53.80" y2="406.98" stroke="#222" stroke-width="0.8" />
<line x1="68.18" y1="417.10" x2="68.18" y2="419.70" stroke="#222" stroke-width="0.8" />
<line x1="51.20" y1="401.82" x2="53.80" y2="401.82" stroke="#222" stroke-width="0.8" />
<line x1="71.84" y1="417.10" x2="71.84" y2="419.70" stroke="#222" stroke-width="0.8" />
<line x1="51.20" y1="398.16" x2="53.80" y2="398.16" stroke="#222" stroke-width="0.8" />
<line x1="74.68" y1="417.10" x2="74.68" y2="420.10" stroke="#222" stroke-width="0.8" />
<line x1="50.80" y1="395.32" x2="53.80" y2="395.32" stroke="#222" stroke-width="0.8" />
<line x1="77.00" y1="417.10" x2="77.00" y2="419.70" stroke="#222" stroke-width="0.8" />
<line x1="51.20" y1="393.00" x2="53.80" y2="393.00" stroke="#222" stroke-width="0.8" />
<line x1="78.96" y1="417.10" x2="78.96" y2="419.70" stroke="#222" stroke-width="0.8" />
<line x1="51.20" y1="391.04" x2="53.80" y2="391.04" stroke="#222" stroke-width="0.8" />
<line x1="80.66" y1="417.10" x2="80.66" y2="419.70" stroke="#222" stroke-width="0.8" />
<line x1="51.20" y1="389.34" x2="53.80" y2="389.34" stroke="#222" stroke-width="0.8" />
<line x1="82.16" y1="417.10" x2="82.16" y2="419.70" stroke="#222" stroke-width="0.8" />
<line x1="51.20" y1="387.84" x2="53.80" y2="387.84" stroke="#222" stroke-width="0.8" />
<line x1="83.50" y1="417.10" x2="83.50" y2="421.80" stroke="#000" stroke-width="1.4" />
<text transform="translate(84.50 430.20) scale(1.0 1.12)" font-size="6.0" text-anchor="start" font-family='"Liberation Sans", sans-serif' font-weight="normal" fill="#222" >10</text>
<text transform="translate(90.08 426.60) scale(1.0 1.12)" font-size="5.1" text-anchor="start" font-family='"Liberation Sans", sans-serif' font-weight="normal" fill="#222" >1</text>
<line x1="48.80" y1="386.50" x2="53.80" y2="386.50" stroke="#000" stroke-width="1.4" />
<text transform="translate(43.10 391.00) scale(1.0 1.12)" font-size="6.0" text-anchor="end" font-family='"Liberation Sans", sans-serif' font-weight="normal" fill="#222" >10</text>
<text transform="translate(46.10 387.10) scale(1.0 1.12)" font-size="5.1" text-anchor="end" font-family='"Liberation Sans", sans-serif' font-weight="normal" fill="#222" >1</text>
<line x1="92.32" y1="417.10" x2="92.32" y2="419.70" stroke="#222" stroke-width="0.8" />
<line x1="51.20" y1="377.68" x2="53.80" y2="377.68" stroke="#222" stroke-width="0.8" />
<line x1="97.48" y1="417.10" x2="97.48" y2="419.70" stroke="#222" stroke-width="0.8" />
<line x1="51.20" y1="372.52" x2="53.80" y2="372.52" stroke="#222" stroke-width="0.8" />
<line x1="101.14" y1="417.10" x2="101.14" y2="419.70" stroke="#222" stroke-width="0.8" />
<line x1="51.20" y1="368.86" x2="53.80" y2="368.86" stroke="#222" stroke-width="0.8" />
<line x1="103.98" y1="417.10" x2="103.98" y2="420.10" stroke="#222" stroke-width="0.8" />
<line x1="50.80" y1="366.02" x2="53.80" y2="366.02" stroke="#222" stroke-width="0.8" />
<line x1="106.30" y1="417.10" x2="106.30" y2="419.70" stroke="#222" stroke-width="0.8" />
<line x1="51.20" y1="363.70" x2="53.80" y2="363.70" stroke="#222" stroke-width="0.8" />
<line x1="108.26" y1="417.10" x2="108.26" y2="419.70" stroke="#222" stroke-width="0.8" />
<line x1="51.20" y1="361.74" x2="53.80" y2="361.74" stroke="#222" stroke-width="0.8" />
<line x1="109.96" y1="417.10" x2="109.96" y2="419.70" stroke="#222" stroke-width="0.8" />
<line x1="51.20" y1="360.04" x2="53.80" y2="360.04" stroke="#222" stroke-width="0.8" />
<line x1="111.46" y1="417.10" x2="111.46" y2="419.70" stroke="#222" stroke-width="0.8" />
<line x1="51.20" y1="358.54" x2="53.80" y2="358.54" stroke="#222" stroke-width="0.8" />
<line x1="112.80" y1="417.10" x2="112.80" y2="421.80" stroke="#000" stroke-width="1.4" />
<text transform="translate(113.80 430.20) scale(1.0 1.12)" font-size="6.0" text-anchor="start" font-family='"Liberation Sans", sans-serif' font-weight="normal" fill="#222" >10</text>
<text transform="translate(119.38 426.60) scale(1.0 1.12)" font-size="5.1" text-anchor="start" font-family='"Liberation Sans", sans-serif' font-weight="normal" fill="#222" >2</text>
<line x1="48.80" y1="357.20" x2="53.80" y2="357.20" stroke="#000" stroke-width="1.4" />
<text transform="translate(43.10 361.70) scale(1.0 1.12)" font-size="6.0" text-anchor="end" font-family='"Liberation Sans", sans-serif' font-weight="normal" fill="#222" >10</text>
<text transform="translate(46.10 357.80) scale(1.0 1.12)" font-size="5.1" text-anchor="end" font-family='"Liberation Sans", sans-serif' font-weight="normal" fill="#222" >2</text>
<line x1="121.62" y1="417.10" x2="121.62" y2="419.70" stroke="#222" stroke-width="0.8" />
<line x1="51.20" y1="348.38" x2="53.80" y2="348.38" stroke="#222" stroke-width="0.8" />
<line x1="126.78" y1="417.10" x2="126.78" y2="419.70" stroke="#222" stroke-width="0.8" />
<line x1="51.20" y1="343.22" x2="53.80" y2="343.22" stroke="#222" stroke-width="0.8" />
<line x1="130.44" y1="417.10" x2="130.44" y2="419.70" stroke="#222" stroke-width="0.8" />
<line x1="51.20" y1="339.56" x2="53.80" y2="339.56" stroke="#222" stroke-width="0.8" />
<line x1="133.28" y1="417.10" x2="133.28" y2="420.10" stroke="#222" stroke-width="0.8" />
<line x1="50.80" y1="336.72" x2="53.80" y2="336.72" stroke="#222" stroke-width="0.8" />
<line x1="135.60" y1="417.10" x2="135.60" y2="419.70" stroke="#222" stroke-width="0.8" />
<line x1="51.20" y1="334.40" x2="53.80" y2="334.40" stroke="#222" stroke-width="0.8" />
<line x1="137.56" y1="417.10" x2="137.56" y2="419.70" stroke="#222" stroke-width="0.8" />
<line x1="51.20" y1="332.44" x2="53.80" y2="332.44" stroke="#222" stroke-width="0.8" />
<line x1="139.26" y1="417.10" x2="139.26" y2="419.70" stroke="#222" stroke-width="0.8" />
<line x1="51.20" y1="330.74" x2="53.80" y2="330.74" stroke="#222" stroke-width="0.8" />
<line x1="140.76" y1="417.10" x2="140.76" y2="419.70" stroke="#222" stroke-width="0.8" />
<line x1="51.20" y1="329.24" x2="53.80" y2="329.24" stroke="#222" stroke-width="0.8" />
<line x1="142.10" y1="417.10" x2="142.10" y2="421.80" stroke="#000" stroke-width="1.4" />
<text transform="translate(143.10 430.20) scale(1.0 1.12)" font-size="6.0" text-anchor="start" font-family='"Liberation Sans", sans-serif' font-weight="normal" fill="#222" >10</text>
<text transform="translate(148.68 426.60) scale(1.0 1.12)" font-size="5.1" text-anchor="start" font-family='"Liberation Sans", sans-serif' font-weight="normal" fill="#222" >3</text>
<line x1="48.80" y1="327.90" x2="53.80" y2="327.90" stroke="#000" stroke-width="1.4" />
<text transform="translate(43.10 332.40) scale(1.0 1.12)" font-size="6.0" text-anchor="end" font-family='"Liberation Sans", sans-serif' font-weight="normal" fill="#222" >10</text>
<text transform="translate(46.10 328.50) scale(1.0 1.12)" font-size="5.1" text-anchor="end" font-family='"Liberation Sans", sans-serif' font-weight="normal" fill="#222" >3</text>
<line x1="150.92" y1="417.10" x2="150.92" y2="419.70" stroke="#222" stroke-width="0.8" />
<line x1="51.20" y1="319.08" x2="53.80" y2="319.08" stroke="#222" stroke-width="0.8" />
<line x1="156.08" y1="417.10" x2="156.08" y2="419.70" stroke="#222" stroke-width="0.8" />
<line x1="51.20" y1="313.92" x2="53.80" y2="313.92" stroke="#222" stroke-width="0.8" />
<line x1="159.74" y1="417.10" x2="159.74" y2="419.70" stroke="#222" stroke-width="0.8" />
<line x1="51.20" y1="310.26" x2="53.80" y2="310.26" stroke="#222" stroke-width="0.8" />
<line x1="162.58" y1="417.10" x2="162.58" y2="420.10" stroke="#222" stroke-width="0.8" />
<line x1="50.80" y1="307.42" x2="53.80" y2="307.42" stroke="#222" stroke-width="0.8" />
<line x1="164.90" y1="417.10" x2="164.90" y2="419.70" stroke="#222" stroke-width="0.8" />
<line x1="51.20" y1="305.10" x2="53.80" y2="305.10" stroke="#222" stroke-width="0.8" />
<line x1="166.86" y1="417.10" x2="166.86" y2="419.70" stroke="#222" stroke-width="0.8" />
<line x1="51.20" y1="303.14" x2="53.80" y2="303.14" stroke="#222" stroke-width="0.8" />
<line x1="168.56" y1="417.10" x2="168.56" y2="419.70" stroke="#222" stroke-width="0.8" />
<line x1="51.20" y1="301.44" x2="53.80" y2="301.44" stroke="#222" stroke-width="0.8" />
<line x1="170.06" y1="417.10" x2="170.06" y2="419.70" stroke="#222" stroke-width="0.8" />
<line x1="51.20" y1="299.94" x2="53.80" y2="299.94" stroke="#222" stroke-width="0.8" />
<line x1="171.40" y1="417.10" x2="171.40" y2="421.80" stroke="#000" stroke-width="1.4" />
<text transform="translate(172.40 430.20) scale(1.0 1.12)" font-size="6.0" text-anchor="start" font-family='"Liberation Sans", sans-serif' font-weight="normal" fill="#222" >10</text>
<text transform="translate(177.98 426.60) scale(1.0 1.12)" font-size="5.1" text-anchor="start" font-family='"Liberation Sans", sans-serif' font-weight="normal" fill="#222" >4</text>
<line x1="48.80" y1="298.60" x2="53.80" y2="298.60" stroke="#000" stroke-width="1.4" />
<text transform="translate(43.10 303.10) scale(1.0 1.12)" font-size="6.0" text-anchor="end" font-family='"Liberation Sans", sans-serif' font-weight="normal" fill="#222" >10</text>
<text transform="translate(46.10 299.20) scale(1.0 1.12)" font-size="5.1" text-anchor="end" font-family='"Liberation Sans", sans-serif' font-weight="normal" fill="#222" >4</text>
<line x1="180.22" y1="417.10" x2="180.22" y2="419.70" stroke="#222" stroke-width="0.8" />
<line x1="51.20" y1="289.78" x2="53.80" y2="289.78" stroke="#222" stroke-width="0.8" />
<line x1="185.38" y1="417.10" x2="185.38" y2="419.70" stroke="#222" stroke-width="0.8" />
<line x1="51.20" y1="284.62" x2="53.80" y2="284.62" stroke="#222" stroke-width="0.8" />
<line x1="189.04" y1="417.10" x2="189.04" y2="419.70" stroke="#222" stroke-width="0.8" />
<line x1="51.20" y1="280.96" x2="53.80" y2="280.96" stroke="#222" stroke-width="0.8" />
<line x1="191.88" y1="417.10" x2="191.88" y2="420.10" stroke="#222" stroke-width="0.8" />
<line x1="50.80" y1="278.12" x2="53.80" y2="278.12" stroke="#222" stroke-width="0.8" />
<line x1="194.20" y1="417.10" x2="194.20" y2="419.70" stroke="#222" stroke-width="0.8" />
<line x1="51.20" y1="275.80" x2="53.80" y2="275.80" stroke="#222" stroke-width="0.8" />
<line x1="196.16" y1="417.10" x2="196.16" y2="419.70" stroke="#222" stroke-width="0.8" />
<line x1="51.20" y1="273.84" x2="53.80" y2="273.84" stroke="#222" stroke-width="0.8" />
<line x1="197.86" y1="417.10" x2="197.86" y2="419.70" stroke="#222" stroke-width="0.8" />
<line x1="51.20" y1="272.14" x2="53.80" y2="272.14" stroke="#222" stroke-width="0.8" />
<line x1="199.36" y1="417.10" x2="199.36" y2="419.70" stroke="#222" stroke-width="0.8" />
<line x1="51.20" y1="270.64" x2="53.80" y2="270.64" stroke="#222" stroke-width="0.8" />
<line x1="200.70" y1="417.10" x2="200.70" y2="421.80" stroke="#000" stroke-width="1.4" />
<text transform="translate(201.70 430.20) scale(1.0 1.12)" font-size="6.0" text-anchor="start" font-family='"Liberation Sans", sans-serif' font-weight="normal" fill="#222" >10</text>
<text transform="translate(207.28 426.60) scale(1.0 1.12)" font-size="5.1" text-anchor="start" font-family='"Liberation Sans", sans-serif' font-weight="normal" fill="#222" >5</text>
<line x1="48.80" y1="269.30" x2="53.80" y2="269.30" stroke="#000" stroke-width="1.4" />
<text transform="translate(43.10 273.80) scale(1.0 1.12)" font-size="6.0" text-anchor="end" font-family='"Liberation Sans", sans-serif' font-weight="normal" fill="#222" >10</text>
<text transform="translate(46.10 269.90) scale(1.0 1.12)" font-size="5.1" text-anchor="end" font-family='"Liberation Sans", sans-serif' font-weight="normal" fill="#222" >5</text>
<line x1="209.52" y1="417.10" x2="209.52" y2="419.70" stroke="#222" stroke-width="0.8" />
<line x1="51.20" y1="260.48" x2="53.80" y2="260.48" stroke="#222" stroke-width="0.8" />
<text transform="translate(56.20 269.60) scale(1.0 1.12)" font-size="6.2" text-anchor="start" font-family='"Liberation Sans", sans-serif' font-weight="normal" fill="#222" >Q1</text>
<text transform="translate(56.20 278.80) scale(1.0 1.12)" font-size="6.2" text-anchor="start" font-family='"Liberation Sans", sans-serif' font-weight="normal" fill="#222" >2.78</text>
<text transform="translate(200.70 269.60) scale(1.0 1.12)" font-size="6.2" text-anchor="end" font-family='"Liberation Sans", sans-serif' font-weight="normal" fill="#222" >Q2</text>
<text transform="translate(200.70 278.80) scale(1.0 1.12)" font-size="6.2" text-anchor="end" font-family='"Liberation Sans", sans-serif' font-weight="normal" fill="#222" >93.3</text>
<text transform="translate(56.20 400.50) scale(1.0 1.12)" font-size="6.2" text-anchor="start" font-family='"Liberation Sans", sans-serif' font-weight="normal" fill="#222" >Q4</text>
<text transform="translate(56.20 409.70) scale(1.0 1.12)" font-size="6.2" text-anchor="start" font-family='"Liberation Sans", sans-serif' font-weight="normal" fill="#222" >1.32</text>
<text transform="translate(200.70 400.50) scale(1.0 1.12)" font-size="6.2" text-anchor="end" font-family='"Liberation Sans", sans-serif' font-weight="normal" fill="#222" >Q3</text>
<text transform="translate(200.70 409.70) scale(1.0 1.12)" font-size="6.2" text-anchor="end" font-family='"Liberation Sans", sans-serif' font-weight="normal" fill="#222" >2.57</text>
<line x1="30.28" y1="295.60" x2="32.00" y2="373.50" stroke="#000" stroke-width="1.8" />
<polygon points="30.1,287.9 26.1,296.1 34.5,296.1" fill="#000"/>
<text transform="translate(26.00 337.90) rotate(-90) scale(1 1.2)" font-size="6.2" text-anchor="middle" font-family='"Liberation Sans", sans-serif' fill="#222">FITC-A</text>
<line x1="76.00" y1="451.00" x2="165.70" y2="451.00" stroke="#000" stroke-width="1.8" />
<polygon points="173.7,451.0 165.5,446.9 165.5,455.1" fill="#000"/>
<text transform="translate(132.50 446.50) scale(1.0 1.12)" font-size="6.2" text-anchor="middle" font-family='"Liberation Sans", sans-serif' font-weight="normal" fill="#222" >PE-A</text>
<text x="51.40" y="476.00" font-size="15.3" text-anchor="start" font-family='"Liberation Serif", serif' font-weight="normal" fill="#000" >Diseased Mothers</text>
<text x="28.30" y="253.20" font-size="15" text-anchor="start" font-family='"Liberation Serif", serif' font-weight="normal" fill="#000" >D</text>
<clipPath id="cE"><rect x="287.5" y="257.0" width="163.0" height="163.2"/></clipPath>
<path d="M363.1 333.0 373.1 329.1 378.3 326.5 381.6 324.3 384.7 322.0 394.5 313.2 398.5 310.1 400.8 308.7 403.4 307.4 405.5 306.7 407.7 306.2 409.9 306.0 411.4 306.1 412.9 306.4 415.0 307.3 416.9 308.4 422.4 312.2 425.1 313.9 427.5 315.0 432.4 316.9 434.4 317.9 435.9 319.2 436.3 320.1 436.5 321.0 436.5 322.0 436.1 324.1 434.8 327.0 432.2 331.5 429.3 335.1 425.9 338.6 415.9 347.7 410.9 352.8 406.6 357.8 399.1 367.7 396.8 370.3 394.2 372.9 391.4 375.3 388.3 377.3 385.2 378.5 383.7 378.8 380.9 378.8 379.5 378.5 377.0 377.5 373.6 375.4 369.4 372.0 365.5 368.3 361.2 363.2 356.3 356.7 354.8 354.3 353.5 351.9 352.6 349.3 352.3 346.5 352.4 345.1 353.3 342.2 355.0 339.3 357.5 336.6 359.1 335.3 363.1 333.0ZM367.5 333.0 375.3 329.4 380.4 326.4 385.5 322.5 395.0 314.5 398.8 311.8 403.3 309.5 407.3 308.4 409.4 308.2 411.4 308.3 413.5 308.8 416.1 309.9 425.0 314.9 431.7 318.2 433.2 319.4 433.7 320.2 434.2 321.8 433.9 324.6 433.2 326.5 432.0 329.1 429.5 333.0 426.4 336.8 422.9 340.1 409.1 352.7 399.5 363.2 396.6 366.0 394.3 367.8 391.9 369.4 389.4 370.6 386.9 371.2 384.5 371.2 381.1 370.4 377.0 368.3 373.3 365.7 369.7 362.7 366.5 359.3 363.6 355.6 361.0 351.6 359.6 348.2 359.2 345.9 359.3 343.4 360.0 340.9 361.3 338.4 363.2 336.1 364.5 335.0 367.5 333.0ZM370.5 333.0 377.0 329.6 380.2 327.6 384.5 324.3 394.3 316.4 398.1 313.7 402.7 311.3 407.0 310.0 409.6 309.8 411.5 310.0 414.1 310.6 416.6 311.6 429.5 318.5 431.5 320.2 432.3 321.7 432.4 322.5 432.3 324.2 431.9 326.0 430.9 328.5 428.3 333.0 424.9 337.1 420.0 341.8 407.4 352.7 398.1 361.7 394.2 364.6 392.1 365.7 389.9 366.4 387.7 366.6 384.7 366.2 380.8 364.8 377.2 362.8 373.8 360.4 370.7 357.5 368.0 354.3 365.6 350.7 364.3 347.8 363.7 345.7 363.6 343.5 363.9 341.2 364.8 339.0 366.1 336.8 368.0 334.8 370.5 333.0ZM373.0 333.0 380.7 328.3 392.9 318.7 397.5 315.4 402.2 312.9 404.3 312.1 406.7 311.5 409.1 311.2 411.6 311.4 414.7 312.2 417.7 313.4 422.7 315.9 428.2 319.2 430.0 320.9 430.6 322.3 430.8 323.9 430.5 325.5 429.1 329.5 426.6 333.6 423.0 337.9 417.7 342.8 407.1 351.5 398.6 359.1 395.1 361.3 393.2 362.2 391.3 362.8 388.4 363.0 385.7 362.5 383.0 361.6 379.7 360.0 376.5 357.9 373.6 355.4 371.0 352.4 369.3 350.0 368.0 347.4 367.4 345.5 367.1 342.5 367.5 340.5 368.2 338.5 369.4 336.5 370.9 334.7 373.0 333.0ZM375.1 333.0 381.2 329.0 391.6 320.7 397.0 316.8 401.7 314.2 404.2 313.3 406.5 312.8 409.4 312.5 411.7 312.7 414.7 313.4 418.3 314.8 421.9 316.6 426.4 319.3 428.1 320.9 428.9 322.1 429.2 322.8 429.3 324.4 429.1 325.9 428.4 328.2 427.4 330.4 425.1 334.2 421.7 338.1 415.7 343.5 399.6 356.4 395.8 358.8 394.1 359.6 392.3 360.1 389.7 360.2 387.2 359.9 384.7 359.1 381.6 357.7 378.6 355.9 376.5 354.2 374.0 351.7 372.4 349.5 371.1 347.1 370.4 345.4 370.0 342.7 370.1 340.8 370.9 338.0 371.9 336.2 373.3 334.5 375.1 333.0ZM377.1 333.0 381.9 329.7 390.5 322.6 396.2 318.5 398.8 316.9 401.3 315.6 403.7 314.7 406.2 314.0 409.0 313.7 411.8 314.0 414.6 314.6 418.1 315.9 421.6 317.7 425.2 320.0 426.7 321.5 427.7 323.4 427.8 324.8 427.6 326.3 427.0 328.5 426.1 330.5 423.6 334.6 420.0 338.6 413.8 344.1 400.5 354.0 396.4 356.5 393.3 357.5 390.9 357.7 388.6 357.4 385.6 356.5 382.7 355.2 379.9 353.5 378.0 352.0 376.3 350.2 374.8 348.2 373.6 345.9 373.1 344.4 372.7 341.9 372.8 340.2 373.2 338.5 374.4 336.0 375.6 334.4 377.1 333.0ZM379.1 333.0 383.2 329.9 390.9 323.5 396.0 319.8 401.0 317.0 403.6 316.0 406.0 315.3 409.1 315.0 411.7 315.2 415.0 316.0 417.8 317.1 421.1 318.9 423.9 320.8 425.3 322.2 426.1 324.0 426.2 325.4 425.9 327.4 425.3 329.4 424.4 331.3 422.0 335.0 418.7 338.7 415.6 341.4 412.5 343.9 401.2 351.9 397.7 354.0 394.2 355.1 392.1 355.2 390.0 355.0 387.9 354.5 385.2 353.5 382.5 352.2 380.7 350.8 379.0 349.3 377.6 347.5 376.4 345.5 375.8 344.1 375.4 341.9 375.3 340.3 375.6 338.8 376.4 336.5 377.8 334.3 379.1 333.0ZM381.1 333.0 390.4 325.0 395.5 321.3 398.3 319.6 400.8 318.3 403.1 317.4 405.7 316.7 408.6 316.3 411.1 316.5 414.2 317.1 416.9 318.1 419.5 319.4 422.0 321.2 423.7 323.0 424.4 324.7 424.5 325.9 424.3 327.8 423.0 331.4 420.7 334.9 417.4 338.6 414.5 341.1 411.6 343.4 402.3 349.6 398.2 351.9 395.1 352.8 393.2 353.0 390.6 352.7 388.1 352.1 386.2 351.3 384.4 350.4 382.7 349.2 381.1 347.8 379.8 346.2 378.8 344.4 378.3 343.1 377.9 341.1 377.9 339.7 378.1 338.2 378.8 336.1 380.0 334.2 381.1 333.0ZM383.1 333.0 390.5 326.3 395.5 322.5 400.6 319.7 403.1 318.7 405.5 318.0 408.1 317.7 410.5 317.8 413.4 318.3 415.9 319.1 418.3 320.3 420.6 322.0 422.1 323.7 422.7 325.3 422.8 326.5 422.6 328.2 421.4 331.5 419.4 334.8 416.3 338.2 412.3 341.7 407.3 345.1 400.6 349.1 398.6 350.0 396.5 350.6 394.8 350.8 392.5 350.7 388.4 349.7 385.1 348.0 383.6 346.8 382.4 345.5 381.4 343.9 380.7 342.1 380.3 340.3 380.3 339.0 380.5 337.7 381.1 335.8 382.2 334.1 383.1 333.0ZM385.0 333.0 390.9 327.4 395.9 323.6 400.8 320.9 403.0 320.0 405.6 319.3 408.1 319.1 410.2 319.1 413.0 319.6 415.3 320.4 417.5 321.6 419.1 322.9 420.4 324.5 421.0 326.0 421.1 327.0 420.9 328.6 419.8 331.7 417.7 335.0 414.9 338.1 411.3 341.1 406.9 344.0 400.8 347.4 397.2 348.6 395.7 348.8 393.6 348.7 390.0 347.9 387.0 346.4 385.6 345.4 384.5 344.2 383.6 342.7 383.0 341.2 382.7 339.5 382.7 338.4 383.4 335.5 384.3 334.0 385.0 333.0ZM387.0 333.0 391.8 328.1 396.1 324.8 400.7 322.2 403.0 321.3 405.3 320.7 407.5 320.5 409.9 320.5 412.0 320.9 414.1 321.6 416.1 322.7 417.6 323.9 418.7 325.4 419.2 326.7 419.1 329.1 418.0 332.2 416.1 335.1 413.5 337.8 410.2 340.5 406.3 343.1 401.0 345.7 397.8 346.7 394.7 346.8 391.5 346.2 388.8 344.9 387.6 344.0 386.5 342.9 385.4 340.7 384.9 338.3 385.4 335.7 386.1 334.3 387.0 333.0ZM388.9 333.0 392.7 328.9 396.6 325.8 400.9 323.4 405.0 322.1 407.0 321.9 409.1 321.9 411.0 322.2 412.9 322.8 414.7 323.8 416.0 324.9 416.9 326.2 417.3 327.4 417.3 329.5 416.3 332.3 414.6 334.9 412.4 337.3 409.6 339.6 406.3 341.7 401.8 343.9 398.9 344.8 396.2 345.0 393.3 344.6 390.9 343.6 388.8 342.0 388.1 340.9 387.5 339.8 387.2 337.6 387.6 335.4 388.9 333.0ZM390.8 333.0 393.8 329.6 397.2 326.9 401.0 324.8 404.7 323.6 408.3 323.3 409.9 323.6 411.6 324.1 413.2 324.9 414.3 325.9 415.1 327.1 415.4 328.1 415.4 330.0 414.6 332.4 413.1 334.7 411.2 336.8 408.7 338.7 405.8 340.6 402.2 342.2 399.4 343.1 396.8 343.3 394.3 342.8 392.2 341.9 390.8 340.7 389.7 338.8 389.4 336.9 389.7 335.1 390.8 333.0ZM392.7 333.0 395.0 330.3 397.9 327.9 401.0 326.1 404.4 325.0 407.4 324.8 410.3 325.4 411.4 326.0 412.4 326.7 413.1 327.7 413.5 328.9 413.4 330.7 412.8 332.5 411.6 334.4 409.9 336.2 407.9 337.9 405.5 339.3 402.7 340.6 400.2 341.4 398.0 341.6 396.0 341.3 394.2 340.7 392.7 339.5 391.9 338.2 391.5 336.6 391.8 334.7 392.7 333.0ZM394.2 333.0 396.1 330.7 398.4 328.7 401.1 327.2 404.0 326.2 406.8 326.0 409.2 326.5 411.0 327.6 411.9 329.2 411.9 330.8 411.4 332.3 410.6 333.8 409.2 335.5 407.4 337.0 405.4 338.3 403.0 339.4 400.8 340.0 399.0 340.2 397.0 340.0 395.5 339.5 394.2 338.5 393.5 337.4 393.2 336.1 393.5 334.5 394.2 333.0ZM395.6 333.0 397.1 331.2 399.0 329.5 401.3 328.2 403.7 327.4 406.1 327.2 408.1 327.6 409.6 328.5 410.3 329.8 410.3 331.2 410.0 332.4 409.2 333.7 408.1 335.1 406.7 336.2 405.0 337.3 403.1 338.2 401.3 338.7 399.7 338.9 398.2 338.8 397.0 338.4 395.8 337.7 395.2 336.8 394.9 335.5 395.1 334.2 395.6 333.0ZM397.1 333.0 398.2 331.6 399.8 330.2 401.6 329.2 403.5 328.6 405.4 328.4 407.0 328.7 408.2 329.5 408.7 330.5 408.7 331.5 408.4 332.5 407.0 334.6 404.6 336.4 401.6 337.5 399.2 337.6 398.2 337.3 397.3 336.7 396.8 336.0 396.6 335.0 396.7 333.9 397.1 333.0ZM398.6 333.0 399.4 331.9 400.6 331.0 401.9 330.2 403.3 329.8 404.7 329.6 405.9 329.8 406.7 330.4 407.1 331.2 406.9 332.7 405.8 334.2 404.1 335.5 402.0 336.3 400.1 336.4 398.8 335.7 398.4 335.2 398.2 334.5 398.6 333.0Z" fill="none" stroke="#444" stroke-width="0.6" clip-path="url(#cE)"/>
<path d="M290.8 383.0 290.4 383.1 289.6 382.4 288.6 380.0 287.1 374.8 285.8 368.8 284.5 359.6 283.5 343.6 283.7 336.4 284.1 334.0 284.5 332.4 285.3 330.8 286.4 329.6 287.6 328.9 289.2 328.5 290.8 328.7 292.0 329.2 293.2 330.2 294.0 331.4 294.5 332.8 294.9 334.8 295.3 340.4 295.1 355.2 294.6 363.6 292.5 378.0 291.6 381.7 290.8 383.0M290.4 380.0 290.0 379.9 289.6 379.4 288.4 376.4 287.0 371.2 285.8 365.6 284.6 355.6 284.0 342.8 284.2 336.4 284.6 334.4 285.1 332.8 285.8 331.6 286.8 330.6 288.0 330.0 289.6 329.7 290.8 329.9 292.0 330.5 293.2 331.6 293.8 332.8 294.6 336.0 294.9 342.0 294.7 354.8 294.1 362.8 292.2 376.0 291.2 379.2 290.8 379.8 290.4 380.0M290.8 376.9 290.4 377.1 290.0 377.0 289.6 376.6 288.9 375.2 287.8 371.6 286.6 366.4 285.3 358.0 284.4 344.8 284.5 338.4 284.7 336.4 285.2 334.4 285.9 332.8 286.8 331.8 288.0 331.1 289.2 330.8 290.4 330.9 291.6 331.4 292.4 332.0 293.3 333.2 293.8 334.4 294.1 336.0 294.4 340.8 294.3 352.8 293.9 360.4 292.2 372.4 291.6 375.0 290.8 376.9M290.4 374.2 290.0 374.2 289.6 373.8 288.8 372.0 287.7 368.4 286.6 363.2 285.4 354.4 284.8 343.6 285.0 338.0 285.7 334.8 286.4 333.5 287.2 332.7 288.4 332.1 289.6 331.9 290.8 332.1 291.6 332.6 292.4 333.3 293.1 334.4 293.8 337.2 294.0 342.0 293.9 352.8 293.4 360.0 291.8 370.8 291.2 373.0 290.8 373.8 290.4 374.2M290.4 371.3 290.0 371.4 289.6 371.0 288.8 369.3 287.8 366.0 286.9 362.0 285.9 354.0 285.3 343.6 285.4 338.8 286.1 335.6 286.8 334.3 287.6 333.6 288.4 333.2 289.6 333.0 290.8 333.3 291.6 333.8 292.7 335.2 293.3 337.6 293.6 342.0 293.5 351.6 293.0 358.4 291.6 368.0 291.1 370.0 290.4 371.3M290.0 368.5 289.6 368.2 289.2 367.5 288.6 366.0 287.0 359.2 286.2 352.4 285.7 343.2 285.8 339.2 286.5 336.4 287.6 334.8 288.4 334.3 289.6 334.1 290.4 334.3 291.2 334.7 292.0 335.5 292.4 336.2 293.0 338.8 293.2 342.8 293.0 352.0 292.5 358.4 291.2 366.4 290.6 368.0 290.4 368.3 290.0 368.5M290.4 365.3 290.0 365.6 289.6 365.3 289.2 364.7 288.4 362.4 287.6 358.8 286.7 352.4 286.1 344.0 286.2 340.0 286.8 337.3 287.3 336.4 288.0 335.7 288.8 335.3 289.6 335.2 290.4 335.4 291.2 335.9 292.0 337.0 292.5 338.8 292.7 342.0 292.7 349.6 292.3 355.2 291.3 362.4 290.8 364.4 290.4 365.3M290.0 362.6 289.6 362.5 288.8 360.8 287.7 356.4 287.0 350.8 286.6 343.6 286.7 340.4 287.2 338.1 288.2 336.8 288.8 336.5 289.6 336.4 290.8 336.8 291.7 338.0 292.2 340.0 292.3 342.8 292.2 350.0 291.8 355.2 290.8 361.1 290.4 362.2 290.0 362.6M290.0 359.6 289.6 359.6 289.2 359.0 288.0 354.5 287.4 350.0 287.0 343.6 287.1 340.8 287.6 338.9 288.4 337.9 289.6 337.5 290.4 337.7 291.3 338.8 291.7 340.4 291.9 343.2 291.8 348.8 291.5 353.2 290.8 357.5 290.4 358.9 290.0 359.6M290.0 356.5 289.6 356.6 289.2 356.0 288.4 353.3 287.8 349.2 287.5 344.0 287.6 341.6 287.9 340.0 288.4 339.2 288.8 338.8 289.6 338.6 290.4 339.0 291.0 340.0 291.3 341.2 291.4 343.2 291.1 351.2 290.7 354.4 290.0 356.5M290.0 353.2 289.6 353.5 289.2 353.0 288.8 351.7 288.3 348.8 288.0 344.4 288.0 342.4 288.4 340.8 288.8 340.1 289.6 339.8 290.0 340.0 290.6 340.8 291.0 343.2 290.8 349.1 290.4 351.9 290.0 353.2M289.6 350.2 289.2 349.7 288.8 347.9 288.5 344.0 288.8 341.7 289.2 341.2 289.6 341.2 290.0 341.4 290.4 342.4 290.5 344.4 290.2 348.4 290.0 349.6 289.6 350.2M289.6 345.7 289.2 344.0 289.6 343.2 289.7 344.4 289.6 345.7" fill="none" stroke="#222" stroke-width="0.6" clip-path="url(#cE)"/>
<path d="M384.8 424.6 377.6 424.8 363.6 424.1 352.8 424.4 349.2 424.3 346.8 423.8 345.2 423.0 343.7 421.4 343.3 420.6 343.3 419.8 343.5 419.0 344.1 418.2 346.0 416.6 349.2 414.9 352.8 413.6 356.8 412.7 361.6 412.1 372.0 411.5 388.4 411.6 393.2 412.0 397.2 412.7 400.4 413.6 403.2 415.0 405.1 416.6 405.7 417.4 406.3 418.6 406.4 420.2 405.9 421.8 404.8 423.0 403.2 423.7 399.6 424.2 384.8 424.6M381.6 424.2 376.0 424.2 365.2 423.6 354.8 423.9 351.2 423.8 349.2 423.3 347.6 422.5 346.3 421.0 346.0 419.8 346.2 419.0 346.7 418.2 348.4 416.8 351.2 415.3 354.8 414.0 358.4 413.2 363.2 412.5 372.8 412.0 387.2 412.1 391.6 412.4 395.6 413.1 398.8 414.0 401.2 415.1 403.0 416.6 403.6 417.4 404.2 418.6 404.3 420.2 403.7 421.8 402.8 422.6 401.2 423.3 397.6 423.7 381.6 424.2M389.6 423.4 379.2 423.8 366.4 423.2 356.4 423.4 353.6 423.3 351.6 422.9 350.0 422.1 349.2 421.4 348.7 420.6 348.5 419.4 349.2 418.2 350.8 416.8 353.2 415.5 356.4 414.4 359.6 413.6 363.2 413.1 367.2 412.7 373.2 412.4 386.0 412.6 390.0 412.8 393.6 413.3 396.8 414.1 399.2 415.2 401.1 416.6 402.1 418.2 402.4 419.8 402.1 421.0 401.5 421.8 400.2 422.6 398.8 423.0 396.8 423.2 389.6 423.4M387.2 423.0 378.8 423.3 367.6 422.8 358.4 422.9 355.6 422.8 354.0 422.5 352.4 421.8 351.3 420.6 351.0 419.4 351.6 418.2 353.0 417.0 355.2 415.8 358.0 414.7 360.8 414.1 364.4 413.5 373.2 412.9 386.0 413.0 389.2 413.3 392.4 413.7 395.2 414.4 397.5 415.4 399.1 416.6 400.2 418.2 400.4 419.4 400.2 420.6 399.6 421.5 398.4 422.2 395.2 422.8 387.2 423.0M384.8 422.6 378.8 422.8 368.8 422.3 360.4 422.5 357.6 422.3 356.0 422.0 354.8 421.4 354.0 420.6 353.6 419.4 354.1 418.2 355.2 417.2 357.2 416.1 359.6 415.1 362.4 414.4 365.2 414.0 372.8 413.4 384.8 413.5 390.8 414.0 393.6 414.7 395.6 415.6 397.1 416.6 398.2 418.2 398.5 419.4 398.1 420.6 397.4 421.4 396.4 421.9 393.2 422.4 384.8 422.6M382.8 422.2 378.4 422.3 370.0 421.9 362.0 422.0 359.6 421.8 358.0 421.5 357.1 421.0 356.4 420.2 356.1 419.0 356.6 418.2 358.0 417.0 360.0 416.0 362.4 415.2 368.0 414.2 376.0 413.8 385.6 414.0 390.8 414.7 393.0 415.4 394.6 416.2 395.9 417.4 396.4 418.6 396.4 419.8 396.0 420.6 395.5 421.0 394.4 421.5 391.6 421.9 382.8 422.2M380.0 421.8 370.8 421.4 362.0 421.4 360.4 421.1 359.5 420.6 358.8 419.8 358.7 419.0 359.0 418.2 360.5 417.0 362.2 416.2 364.4 415.5 369.2 414.7 376.4 414.3 384.8 414.5 389.6 415.1 391.7 415.8 393.1 416.6 393.9 417.4 394.5 418.6 394.5 419.4 394.1 420.2 393.6 420.7 392.4 421.1 389.6 421.5 380.0 421.8M388.0 421.0 378.8 421.3 371.8 421.0 364.8 420.9 363.2 420.7 362.0 420.3 361.4 419.8 361.2 419.0 361.5 418.2 363.1 417.0 365.2 416.1 368.0 415.4 374.8 414.8 384.4 414.9 387.2 415.3 389.3 415.8 391.0 416.6 392.2 417.8 392.5 419.0 392.3 419.8 391.8 420.2 390.4 420.7 388.0 421.0M385.2 420.6 378.8 420.8 366.8 420.4 365.2 420.2 364.4 419.9 363.9 419.4 363.8 419.0 363.8 418.6 364.4 417.8 365.6 417.0 366.8 416.5 370.0 415.8 374.4 415.3 381.2 415.3 385.6 415.6 387.6 416.1 388.8 416.6 390.3 417.8 390.5 419.0 390.0 419.8 388.4 420.3 385.2 420.6M382.4 420.2 378.4 420.3 368.8 419.9 366.8 419.4 366.4 419.0 366.4 418.6 366.9 417.8 367.5 417.4 369.5 416.6 372.8 416.0 376.8 415.8 382.0 415.8 385.1 416.2 387.4 417.0 387.9 417.4 388.5 418.2 388.4 419.0 388.1 419.4 387.2 419.8 382.4 420.2M384.8 419.4 379.2 419.8 372.0 419.5 370.0 419.2 369.4 419.0 369.0 418.6 369.1 418.2 370.1 417.4 372.8 416.6 376.4 416.3 381.2 416.3 383.6 416.6 385.8 417.4 386.2 417.8 386.4 418.6 386.1 419.0 384.8 419.4M382.4 419.0 378.8 419.2 374.3 419.0 372.2 418.6 371.9 418.2 372.2 417.8 373.2 417.4 374.9 417.0 377.2 416.8 382.0 417.0 383.4 417.4 384.1 417.8 384.3 418.2 384.0 418.6 382.4 419.0M381.2 418.3 378.8 418.6 375.7 418.2 375.8 417.8 378.8 417.5 381.3 417.8 381.4 418.2 381.2 418.3" fill="none" stroke="#222" stroke-width="0.6" clip-path="url(#cE)"/>
<polyline points="287.8,415.3 291.8,419.8 287.8,419.8" fill="none" stroke="#000" stroke-width="1.1"/>
<line x1="344.50" y1="257.00" x2="344.50" y2="420.20" stroke="#1a1a1a" stroke-width="1.1" />
<line x1="287.50" y1="364.00" x2="450.50" y2="364.00" stroke="#2a2a2a" stroke-width="1.3" />
<line x1="287.00" y1="257.00" x2="451.00" y2="257.00" stroke="#999" stroke-width="1.0" />
<line x1="450.50" y1="257.00" x2="450.50" y2="420.70" stroke="#444" stroke-width="1.0" />
<line x1="287.00" y1="420.20" x2="451.00" y2="420.20" stroke="#333" stroke-width="1.0" />
<line x1="287.50" y1="257.00" x2="287.50" y2="420.70" stroke="#444" stroke-width="1.0" />
<line x1="287.40" y1="420.20" x2="287.40" y2="424.90" stroke="#000" stroke-width="1.4" />
<text transform="translate(290.00 433.30) scale(1.0 1.12)" font-size="6.0" text-anchor="start" font-family='"Liberation Sans", sans-serif' font-weight="normal" fill="#222" >10</text>
<text transform="translate(295.58 429.70) scale(1.0 1.12)" font-size="5.1" text-anchor="start" font-family='"Liberation Sans", sans-serif' font-weight="normal" fill="#222" >0</text>
<line x1="282.50" y1="418.90" x2="287.50" y2="418.90" stroke="#000" stroke-width="1.4" />
<text transform="translate(276.80 423.40) scale(1.0 1.12)" font-size="6.0" text-anchor="end" font-family='"Liberation Sans", sans-serif' font-weight="normal" fill="#222" >10</text>
<text transform="translate(279.80 419.50) scale(1.0 1.12)" font-size="5.1" text-anchor="end" font-family='"Liberation Sans", sans-serif' font-weight="normal" fill="#222" >0</text>
<line x1="296.43" y1="420.20" x2="296.43" y2="422.80" stroke="#222" stroke-width="0.8" />
<line x1="284.90" y1="409.93" x2="287.50" y2="409.93" stroke="#222" stroke-width="0.8" />
<line x1="301.71" y1="420.20" x2="301.71" y2="422.80" stroke="#222" stroke-width="0.8" />
<line x1="284.90" y1="404.68" x2="287.50" y2="404.68" stroke="#222" stroke-width="0.8" />
<line x1="305.46" y1="420.20" x2="305.46" y2="422.80" stroke="#222" stroke-width="0.8" />
<line x1="284.90" y1="400.96" x2="287.50" y2="400.96" stroke="#222" stroke-width="0.8" />
<line x1="308.37" y1="420.20" x2="308.37" y2="423.20" stroke="#222" stroke-width="0.8" />
<line x1="284.50" y1="398.07" x2="287.50" y2="398.07" stroke="#222" stroke-width="0.8" />
<line x1="310.74" y1="420.20" x2="310.74" y2="422.80" stroke="#222" stroke-width="0.8" />
<line x1="284.90" y1="395.71" x2="287.50" y2="395.71" stroke="#222" stroke-width="0.8" />
<line x1="312.75" y1="420.20" x2="312.75" y2="422.80" stroke="#222" stroke-width="0.8" />
<line x1="284.90" y1="393.72" x2="287.50" y2="393.72" stroke="#222" stroke-width="0.8" />
<line x1="314.49" y1="420.20" x2="314.49" y2="422.80" stroke="#222" stroke-width="0.8" />
<line x1="284.90" y1="391.99" x2="287.50" y2="391.99" stroke="#222" stroke-width="0.8" />
<line x1="316.03" y1="420.20" x2="316.03" y2="422.80" stroke="#222" stroke-width="0.8" />
<line x1="284.90" y1="390.46" x2="287.50" y2="390.46" stroke="#222" stroke-width="0.8" />
<line x1="317.40" y1="420.20" x2="317.40" y2="424.90" stroke="#000" stroke-width="1.4" />
<text transform="translate(318.40 433.30) scale(1.0 1.12)" font-size="6.0" text-anchor="start" font-family='"Liberation Sans", sans-serif' font-weight="normal" fill="#222" >10</text>
<text transform="translate(323.98 429.70) scale(1.0 1.12)" font-size="5.1" text-anchor="start" font-family='"Liberation Sans", sans-serif' font-weight="normal" fill="#222" >1</text>
<line x1="282.50" y1="389.10" x2="287.50" y2="389.10" stroke="#000" stroke-width="1.4" />
<text transform="translate(276.80 393.60) scale(1.0 1.12)" font-size="6.0" text-anchor="end" font-family='"Liberation Sans", sans-serif' font-weight="normal" fill="#222" >10</text>
<text transform="translate(279.80 389.70) scale(1.0 1.12)" font-size="5.1" text-anchor="end" font-family='"Liberation Sans", sans-serif' font-weight="normal" fill="#222" >1</text>
<line x1="326.43" y1="420.20" x2="326.43" y2="422.80" stroke="#222" stroke-width="0.8" />
<line x1="284.90" y1="380.13" x2="287.50" y2="380.13" stroke="#222" stroke-width="0.8" />
<line x1="331.71" y1="420.20" x2="331.71" y2="422.80" stroke="#222" stroke-width="0.8" />
<line x1="284.90" y1="374.88" x2="287.50" y2="374.88" stroke="#222" stroke-width="0.8" />
<line x1="335.46" y1="420.20" x2="335.46" y2="422.80" stroke="#222" stroke-width="0.8" />
<line x1="284.90" y1="371.16" x2="287.50" y2="371.16" stroke="#222" stroke-width="0.8" />
<line x1="338.37" y1="420.20" x2="338.37" y2="423.20" stroke="#222" stroke-width="0.8" />
<line x1="284.50" y1="368.27" x2="287.50" y2="368.27" stroke="#222" stroke-width="0.8" />
<line x1="340.74" y1="420.20" x2="340.74" y2="422.80" stroke="#222" stroke-width="0.8" />
<line x1="284.90" y1="365.91" x2="287.50" y2="365.91" stroke="#222" stroke-width="0.8" />
<line x1="342.75" y1="420.20" x2="342.75" y2="422.80" stroke="#222" stroke-width="0.8" />
<line x1="284.90" y1="363.92" x2="287.50" y2="363.92" stroke="#222" stroke-width="0.8" />
<line x1="344.49" y1="420.20" x2="344.49" y2="422.80" stroke="#222" stroke-width="0.8" />
<line x1="284.90" y1="362.19" x2="287.50" y2="362.19" stroke="#222" stroke-width="0.8" />
<line x1="346.03" y1="420.20" x2="346.03" y2="422.80" stroke="#222" stroke-width="0.8" />
<line x1="284.90" y1="360.66" x2="287.50" y2="360.66" stroke="#222" stroke-width="0.8" />
<line x1="347.40" y1="420.20" x2="347.40" y2="424.90" stroke="#000" stroke-width="1.4" />
<text transform="translate(348.40 433.30) scale(1.0 1.12)" font-size="6.0" text-anchor="start" font-family='"Liberation Sans", sans-serif' font-weight="normal" fill="#222" >10</text>
<text transform="translate(353.98 429.70) scale(1.0 1.12)" font-size="5.1" text-anchor="start" font-family='"Liberation Sans", sans-serif' font-weight="normal" fill="#222" >2</text>
<line x1="282.50" y1="359.30" x2="287.50" y2="359.30" stroke="#000" stroke-width="1.4" />
<text transform="translate(276.80 363.80) scale(1.0 1.12)" font-size="6.0" text-anchor="end" font-family='"Liberation Sans", sans-serif' font-weight="normal" fill="#222" >10</text>
<text transform="translate(279.80 359.90) scale(1.0 1.12)" font-size="5.1" text-anchor="end" font-family='"Liberation Sans", sans-serif' font-weight="normal" fill="#222" >2</text>
<line x1="356.43" y1="420.20" x2="356.43" y2="422.80" stroke="#222" stroke-width="0.8" />
<line x1="284.90" y1="350.33" x2="287.50" y2="350.33" stroke="#222" stroke-width="0.8" />
<line x1="361.71" y1="420.20" x2="361.71" y2="422.80" stroke="#222" stroke-width="0.8" />
<line x1="284.90" y1="345.08" x2="287.50" y2="345.08" stroke="#222" stroke-width="0.8" />
<line x1="365.46" y1="420.20" x2="365.46" y2="422.80" stroke="#222" stroke-width="0.8" />
<line x1="284.90" y1="341.36" x2="287.50" y2="341.36" stroke="#222" stroke-width="0.8" />
<line x1="368.37" y1="420.20" x2="368.37" y2="423.20" stroke="#222" stroke-width="0.8" />
<line x1="284.50" y1="338.47" x2="287.50" y2="338.47" stroke="#222" stroke-width="0.8" />
<line x1="370.74" y1="420.20" x2="370.74" y2="422.80" stroke="#222" stroke-width="0.8" />
<line x1="284.90" y1="336.11" x2="287.50" y2="336.11" stroke="#222" stroke-width="0.8" />
<line x1="372.75" y1="420.20" x2="372.75" y2="422.80" stroke="#222" stroke-width="0.8" />
<line x1="284.90" y1="334.12" x2="287.50" y2="334.12" stroke="#222" stroke-width="0.8" />
<line x1="374.49" y1="420.20" x2="374.49" y2="422.80" stroke="#222" stroke-width="0.8" />
<line x1="284.90" y1="332.39" x2="287.50" y2="332.39" stroke="#222" stroke-width="0.8" />
<line x1="376.03" y1="420.20" x2="376.03" y2="422.80" stroke="#222" stroke-width="0.8" />
<line x1="284.90" y1="330.86" x2="287.50" y2="330.86" stroke="#222" stroke-width="0.8" />
<line x1="377.40" y1="420.20" x2="377.40" y2="424.90" stroke="#000" stroke-width="1.4" />
<text transform="translate(378.40 433.30) scale(1.0 1.12)" font-size="6.0" text-anchor="start" font-family='"Liberation Sans", sans-serif' font-weight="normal" fill="#222" >10</text>
<text transform="translate(383.98 429.70) scale(1.0 1.12)" font-size="5.1" text-anchor="start" font-family='"Liberation Sans", sans-serif' font-weight="normal" fill="#222" >3</text>
<line x1="282.50" y1="329.50" x2="287.50" y2="329.50" stroke="#000" stroke-width="1.4" />
<text transform="translate(276.80 334.00) scale(1.0 1.12)" font-size="6.0" text-anchor="end" font-family='"Liberation Sans", sans-serif' font-weight="normal" fill="#222" >10</text>
<text transform="translate(279.80 330.10) scale(1.0 1.12)" font-size="5.1" text-anchor="end" font-family='"Liberation Sans", sans-serif' font-weight="normal" fill="#222" >3</text>
<line x1="386.43" y1="420.20" x2="386.43" y2="422.80" stroke="#222" stroke-width="0.8" />
<line x1="284.90" y1="320.53" x2="287.50" y2="320.53" stroke="#222" stroke-width="0.8" />
<line x1="391.71" y1="420.20" x2="391.71" y2="422.80" stroke="#222" stroke-width="0.8" />
<line x1="284.90" y1="315.28" x2="287.50" y2="315.28" stroke="#222" stroke-width="0.8" />
<line x1="395.46" y1="420.20" x2="395.46" y2="422.80" stroke="#222" stroke-width="0.8" />
<line x1="284.90" y1="311.56" x2="287.50" y2="311.56" stroke="#222" stroke-width="0.8" />
<line x1="398.37" y1="420.20" x2="398.37" y2="423.20" stroke="#222" stroke-width="0.8" />
<line x1="284.50" y1="308.67" x2="287.50" y2="308.67" stroke="#222" stroke-width="0.8" />
<line x1="400.74" y1="420.20" x2="400.74" y2="422.80" stroke="#222" stroke-width="0.8" />
<line x1="284.90" y1="306.31" x2="287.50" y2="306.31" stroke="#222" stroke-width="0.8" />
<line x1="402.75" y1="420.20" x2="402.75" y2="422.80" stroke="#222" stroke-width="0.8" />
<line x1="284.90" y1="304.32" x2="287.50" y2="304.32" stroke="#222" stroke-width="0.8" />
<line x1="404.49" y1="420.20" x2="404.49" y2="422.80" stroke="#222" stroke-width="0.8" />
<line x1="284.90" y1="302.59" x2="287.50" y2="302.59" stroke="#222" stroke-width="0.8" />
<line x1="406.03" y1="420.20" x2="406.03" y2="422.80" stroke="#222" stroke-width="0.8" />
<line x1="284.90" y1="301.06" x2="287.50" y2="301.06" stroke="#222" stroke-width="0.8" />
<line x1="407.40" y1="420.20" x2="407.40" y2="424.90" stroke="#000" stroke-width="1.4" />
<text transform="translate(408.40 433.30) scale(1.0 1.12)" font-size="6.0" text-anchor="start" font-family='"Liberation Sans", sans-serif' font-weight="normal" fill="#222" >10</text>
<text transform="translate(413.98 429.70) scale(1.0 1.12)" font-size="5.1" text-anchor="start" font-family='"Liberation Sans", sans-serif' font-weight="normal" fill="#222" >4</text>
<line x1="282.50" y1="299.70" x2="287.50" y2="299.70" stroke="#000" stroke-width="1.4" />
<text transform="translate(276.80 304.20) scale(1.0 1.12)" font-size="6.0" text-anchor="end" font-family='"Liberation Sans", sans-serif' font-weight="normal" fill="#222" >10</text>
<text transform="translate(279.80 300.30) scale(1.0 1.12)" font-size="5.1" text-anchor="end" font-family='"Liberation Sans", sans-serif' font-weight="normal" fill="#222" >4</text>
<line x1="416.43" y1="420.20" x2="416.43" y2="422.80" stroke="#222" stroke-width="0.8" />
<line x1="284.90" y1="290.73" x2="287.50" y2="290.73" stroke="#222" stroke-width="0.8" />
<line x1="421.71" y1="420.20" x2="421.71" y2="422.80" stroke="#222" stroke-width="0.8" />
<line x1="284.90" y1="285.48" x2="287.50" y2="285.48" stroke="#222" stroke-width="0.8" />
<line x1="425.46" y1="420.20" x2="425.46" y2="422.80" stroke="#222" stroke-width="0.8" />
<line x1="284.90" y1="281.76" x2="287.50" y2="281.76" stroke="#222" stroke-width="0.8" />
<line x1="428.37" y1="420.20" x2="428.37" y2="423.20" stroke="#222" stroke-width="0.8" />
<line x1="284.50" y1="278.87" x2="287.50" y2="278.87" stroke="#222" stroke-width="0.8" />
<line x1="430.74" y1="420.20" x2="430.74" y2="422.80" stroke="#222" stroke-width="0.8" />
<line x1="284.90" y1="276.51" x2="287.50" y2="276.51" stroke="#222" stroke-width="0.8" />
<line x1="432.75" y1="420.20" x2="432.75" y2="422.80" stroke="#222" stroke-width="0.8" />
<line x1="284.90" y1="274.52" x2="287.50" y2="274.52" stroke="#222" stroke-width="0.8" />
<line x1="434.49" y1="420.20" x2="434.49" y2="422.80" stroke="#222" stroke-width="0.8" />
<line x1="284.90" y1="272.79" x2="287.50" y2="272.79" stroke="#222" stroke-width="0.8" />
<line x1="436.03" y1="420.20" x2="436.03" y2="422.80" stroke="#222" stroke-width="0.8" />
<line x1="284.90" y1="271.26" x2="287.50" y2="271.26" stroke="#222" stroke-width="0.8" />
<line x1="437.40" y1="420.20" x2="437.40" y2="424.90" stroke="#000" stroke-width="1.4" />
<text transform="translate(438.40 433.30) scale(1.0 1.12)" font-size="6.0" text-anchor="start" font-family='"Liberation Sans", sans-serif' font-weight="normal" fill="#222" >10</text>
<text transform="translate(443.98 429.70) scale(1.0 1.12)" font-size="5.1" text-anchor="start" font-family='"Liberation Sans", sans-serif' font-weight="normal" fill="#222" >5</text>
<line x1="282.50" y1="269.90" x2="287.50" y2="269.90" stroke="#000" stroke-width="1.4" />
<text transform="translate(276.80 274.40) scale(1.0 1.12)" font-size="6.0" text-anchor="end" font-family='"Liberation Sans", sans-serif' font-weight="normal" fill="#222" >10</text>
<text transform="translate(279.80 270.50) scale(1.0 1.12)" font-size="5.1" text-anchor="end" font-family='"Liberation Sans", sans-serif' font-weight="normal" fill="#222" >5</text>
<line x1="446.43" y1="420.20" x2="446.43" y2="422.80" stroke="#222" stroke-width="0.8" />
<line x1="284.90" y1="260.93" x2="287.50" y2="260.93" stroke="#222" stroke-width="0.8" />
<text transform="translate(289.90 270.20) scale(1.0 1.12)" font-size="6.2" text-anchor="start" font-family='"Liberation Sans", sans-serif' font-weight="normal" fill="#222" >Q1</text>
<text transform="translate(289.90 279.40) scale(1.0 1.12)" font-size="6.2" text-anchor="start" font-family='"Liberation Sans", sans-serif' font-weight="normal" fill="#222" >6.33</text>
<text transform="translate(437.40 270.20) scale(1.0 1.12)" font-size="6.2" text-anchor="end" font-family='"Liberation Sans", sans-serif' font-weight="normal" fill="#222" >Q2</text>
<text transform="translate(437.40 279.40) scale(1.0 1.12)" font-size="6.2" text-anchor="end" font-family='"Liberation Sans", sans-serif' font-weight="normal" fill="#222" >74.2</text>
<text transform="translate(289.90 403.60) scale(1.0 1.12)" font-size="6.2" text-anchor="start" font-family='"Liberation Sans", sans-serif' font-weight="normal" fill="#222" >Q4</text>
<text transform="translate(289.90 412.80) scale(1.0 1.12)" font-size="6.2" text-anchor="start" font-family='"Liberation Sans", sans-serif' font-weight="normal" fill="#222" >5.47</text>
<text transform="translate(437.40 403.60) scale(1.0 1.12)" font-size="6.2" text-anchor="end" font-family='"Liberation Sans", sans-serif' font-weight="normal" fill="#222" >Q3</text>
<text transform="translate(437.40 412.80) scale(1.0 1.12)" font-size="6.2" text-anchor="end" font-family='"Liberation Sans", sans-serif' font-weight="normal" fill="#222" >14.0</text>
<line x1="263.68" y1="319.40" x2="265.40" y2="396.70" stroke="#000" stroke-width="1.8" />
<polygon points="263.5,311.7 259.5,319.9 267.9,319.9" fill="#000"/>
<text transform="translate(259.00 339.50) rotate(-90) scale(1 1.2)" font-size="6.2" text-anchor="middle" font-family='"Liberation Sans", sans-serif' fill="#222">FITC-A</text>
<line x1="320.70" y1="456.80" x2="409.90" y2="456.80" stroke="#000" stroke-width="1.8" />
<polygon points="417.9,456.8 409.7,452.7 409.7,460.9" fill="#000"/>
<text transform="translate(368.00 449.40) scale(1.0 1.12)" font-size="6.2" text-anchor="middle" font-family='"Liberation Sans", sans-serif' font-weight="normal" fill="#222" >PE-A</text>
<text x="304.80" y="481.50" font-size="15.3" text-anchor="start" font-family='"Liberation Serif", serif' font-weight="normal" fill="#000" >Diseased Fathers</text>
<text x="248.80" y="253.20" font-size="15" text-anchor="start" font-family='"Liberation Serif", serif' font-weight="normal" fill="#000" >E</text>
<clipPath id="cF"><rect x="495.4" y="261.6" width="173.0" height="165.5"/></clipPath>
<path d="M543.2 347.3 544.3 344.9 545.7 342.6 547.7 340.5 549.0 339.6 552.1 338.1 561.1 335.1 566.6 332.7 582.2 324.3 594.2 318.3 599.0 315.4 601.4 313.4 603.0 311.8 605.4 308.3 611.9 295.5 614.6 292.9 617.1 291.4 619.4 290.4 621.6 289.9 623.6 289.7 625.6 289.9 627.4 290.3 629.1 291.0 632.2 292.9 634.6 295.5 635.6 297.1 636.4 298.8 637.5 302.6 637.8 306.8 637.6 311.1 637.0 315.3 636.2 319.2 635.1 323.0 633.0 328.3 630.6 333.1 627.9 337.3 625.1 340.9 616.3 351.4 613.7 354.9 612.0 357.6 610.5 360.4 608.9 364.0 603.4 378.6 600.3 384.4 597.9 387.8 596.0 389.8 593.9 391.5 591.6 392.9 587.9 394.4 585.4 394.8 584.1 394.8 580.5 394.1 577.0 392.6 572.7 390.0 567.0 385.5 561.7 380.9 551.3 371.3 548.6 368.6 546.1 365.6 544.1 362.3 543.1 360.0 542.5 357.5 542.1 353.7 542.5 349.8 543.2 347.3ZM549.6 347.3 550.4 345.2 551.5 343.2 553.0 341.4 555.1 339.8 565.8 334.7 577.1 327.9 581.9 325.2 586.0 323.3 595.6 319.2 598.3 317.8 600.5 316.3 601.8 315.2 603.7 312.8 608.4 304.0 610.4 302.3 612.3 301.4 614.1 300.9 615.7 300.6 617.4 300.6 620.3 301.2 623.0 302.5 625.2 304.3 627.1 306.5 627.9 307.8 629.0 310.7 629.5 313.9 629.7 317.1 629.7 320.3 629.4 323.4 628.5 327.9 627.7 330.7 626.1 334.6 623.0 340.4 611.5 357.3 608.3 363.4 603.6 373.1 600.5 378.4 598.5 381.1 597.0 382.8 594.4 384.9 592.4 386.1 589.4 387.4 586.1 388.0 582.9 387.7 579.8 386.8 576.0 384.9 572.4 382.7 568.2 379.6 563.5 375.6 555.3 367.6 552.5 364.2 550.8 361.3 549.6 358.2 548.9 355.0 548.8 352.8 548.9 350.6 549.6 347.3ZM555.0 347.3 555.6 345.5 556.5 343.7 557.6 342.1 559.2 340.7 566.1 336.5 576.6 329.3 580.1 327.2 583.9 325.3 587.9 323.6 596.9 320.4 598.6 319.6 600.7 318.3 602.2 316.7 605.5 310.8 607.1 309.9 608.5 309.3 611.2 309.0 612.5 309.1 614.8 309.7 616.9 310.8 618.8 312.2 620.5 313.9 621.7 316.0 622.6 318.3 623.2 320.7 623.7 324.4 623.7 328.1 623.4 330.5 622.8 333.9 621.8 337.1 620.6 340.0 618.8 343.6 615.5 349.3 604.9 367.2 601.6 372.4 599.5 375.2 596.9 377.8 594.6 379.5 592.2 380.9 589.5 381.8 586.7 382.3 584.0 382.1 580.4 381.1 577.0 379.6 573.1 377.3 569.4 374.7 566.0 371.7 562.7 368.6 559.6 365.1 557.4 362.0 556.0 359.5 555.0 356.8 554.5 354.0 554.4 351.1 555.0 347.3ZM560.0 347.3 561.0 344.2 561.9 342.8 563.0 341.5 575.9 331.2 580.2 328.5 584.7 326.2 589.2 324.6 597.1 322.4 599.6 321.4 600.7 320.4 603.0 316.8 604.2 316.3 605.3 316.0 607.4 316.0 609.3 316.4 611.1 317.1 613.5 318.7 614.9 320.1 616.1 321.6 617.0 323.4 618.0 326.1 618.6 329.0 618.8 331.9 618.8 334.7 618.4 337.4 617.8 340.0 616.7 343.1 615.0 347.3 612.3 352.6 609.7 357.1 606.6 361.9 603.0 366.8 600.5 369.9 597.9 372.5 595.4 374.4 592.6 375.9 589.6 376.8 587.3 377.2 584.9 377.0 582.6 376.6 579.6 375.6 576.0 373.8 572.7 371.7 569.5 369.3 567.2 367.1 564.5 364.1 562.6 361.5 561.0 358.6 560.2 356.3 559.6 353.0 559.5 350.5 560.0 347.3ZM563.9 347.3 565.0 344.0 566.6 341.6 573.4 335.0 578.1 331.3 582.2 328.8 586.6 326.9 590.4 325.8 598.6 324.1 599.5 323.5 601.1 321.4 602.9 321.0 604.6 321.2 606.9 321.9 609.0 323.1 610.8 324.6 611.9 325.8 613.1 327.9 614.1 330.1 614.8 332.4 615.2 335.5 615.3 337.7 615.0 340.7 614.4 343.5 613.4 346.7 612.0 350.1 610.5 353.3 608.6 356.6 606.5 359.7 604.2 362.7 601.6 365.6 599.0 368.1 597.0 369.7 594.8 371.1 592.4 372.2 589.7 372.9 587.7 373.1 585.6 373.0 582.9 372.6 580.3 371.7 577.2 370.2 574.2 368.4 572.0 366.7 569.9 364.8 567.6 362.1 566.1 359.7 564.8 357.1 564.1 355.1 563.6 352.3 563.6 350.1 563.9 347.3ZM566.9 347.3 567.8 344.3 569.0 342.2 572.8 337.7 575.8 334.8 578.9 332.3 581.8 330.4 585.0 328.9 588.3 327.8 592.0 327.0 597.9 326.2 598.6 325.9 599.8 324.6 601.2 324.6 603.3 325.0 606.4 326.5 608.9 328.8 610.8 331.6 612.0 334.8 612.5 336.8 612.7 339.4 612.6 342.0 612.3 344.4 611.5 347.3 610.6 350.0 609.6 352.4 608.1 355.2 606.4 357.7 604.6 360.1 600.3 364.5 598.2 366.2 595.9 367.7 593.8 368.8 591.6 369.5 589.2 370.0 587.4 370.1 585.0 369.9 582.6 369.4 580.3 368.6 577.5 367.2 575.4 365.9 573.4 364.3 571.6 362.5 570.0 360.5 568.7 358.4 567.6 356.0 567.1 354.2 566.7 351.7 566.6 349.8 566.9 347.3ZM569.9 347.3 570.6 344.7 571.8 342.3 574.5 338.7 577.4 335.6 580.2 333.3 582.9 331.6 586.3 330.2 589.5 329.3 592.8 328.8 597.0 328.6 597.6 328.4 598.5 327.8 600.2 328.0 602.4 328.8 604.9 330.3 607.0 332.4 608.8 335.4 609.9 338.6 610.2 342.5 610.1 344.7 609.6 347.3 608.2 351.6 605.9 355.7 602.8 359.7 598.9 363.0 597.0 364.4 594.8 365.5 590.9 366.8 588.8 367.1 586.7 367.1 584.6 366.8 582.5 366.3 578.6 364.5 576.7 363.3 575.0 361.9 573.5 360.3 572.2 358.5 570.5 354.9 570.0 353.3 569.7 351.1 569.9 347.3ZM572.4 347.3 573.1 344.6 574.1 342.5 576.4 339.2 578.6 336.7 581.2 334.6 584.0 332.9 587.1 331.6 590.0 330.9 593.0 330.6 596.8 330.6 597.4 330.3 599.4 330.7 601.7 331.8 603.7 333.3 605.7 335.6 607.1 338.3 607.9 341.1 608.0 345.0 607.4 348.6 606.0 352.4 604.0 355.6 601.3 358.8 598.0 361.4 594.3 363.4 590.8 364.4 587.2 364.6 583.5 364.0 579.9 362.5 578.3 361.4 576.8 360.2 575.5 358.7 574.3 357.1 572.9 354.0 572.2 350.7 572.4 347.3ZM574.9 347.3 575.4 344.9 576.6 342.4 578.3 339.9 580.3 337.7 582.6 335.9 585.1 334.5 587.8 333.4 590.4 332.8 592.7 332.7 596.4 332.8 598.5 333.3 600.4 334.3 602.4 335.9 604.0 338.0 605.1 340.3 605.7 342.8 605.8 346.1 605.2 349.2 603.8 352.5 602.0 355.2 599.7 357.6 596.8 359.8 593.8 361.3 590.4 362.1 587.2 362.2 584.0 361.6 581.0 360.3 578.6 358.5 576.7 356.2 575.4 353.5 574.8 350.6 574.9 347.3ZM577.4 347.3 577.9 345.3 578.8 343.2 580.2 341.0 581.8 339.2 583.8 337.6 585.9 336.4 588.2 335.5 590.4 335.0 592.7 334.9 595.4 335.2 597.1 335.7 599.0 336.7 600.6 338.1 601.9 339.8 602.8 341.8 603.3 343.8 603.4 346.6 602.8 349.3 601.8 351.7 600.2 354.0 598.3 356.0 595.8 357.8 593.2 359.0 590.4 359.7 587.7 359.8 585.1 359.3 582.5 358.2 580.5 356.7 578.9 354.7 577.9 352.5 577.3 350.1 577.4 347.3ZM579.3 347.3 579.8 345.3 580.6 343.5 581.6 341.9 583.1 340.3 584.7 339.0 586.5 337.9 588.5 337.2 590.4 336.8 592.4 336.7 594.7 337.0 596.4 337.6 597.9 338.5 599.3 339.7 600.4 341.2 601.1 342.9 601.5 344.6 601.5 347.0 601.0 349.3 600.0 351.3 598.6 353.3 596.9 355.0 595.0 356.3 592.8 357.3 590.4 357.9 588.1 357.9 585.9 357.5 583.7 356.6 582.0 355.3 580.6 353.6 579.7 351.7 579.3 349.7 579.3 347.3ZM581.2 347.3 581.6 345.7 582.3 344.2 583.1 342.9 584.3 341.5 585.7 340.4 587.2 339.5 588.8 338.9 590.4 338.6 592.3 338.5 593.9 338.8 595.3 339.3 596.6 340.0 597.7 341.0 598.6 342.3 599.2 343.6 599.6 345.1 599.6 347.1 599.2 348.9 598.4 350.6 597.2 352.3 595.8 353.7 594.2 354.8 592.4 355.6 590.4 356.0 588.5 356.1 586.6 355.7 584.8 355.0 583.4 353.9 582.3 352.5 581.6 351.0 581.2 349.3 581.2 347.3ZM583.0 347.3 583.8 344.8 585.5 342.6 587.8 341.0 590.4 340.3 591.9 340.2 593.2 340.4 595.4 341.4 596.3 342.3 597.0 343.2 597.5 344.3 597.8 345.5 597.8 347.1 597.5 348.6 596.9 350.0 595.9 351.3 594.8 352.4 593.5 353.3 592.0 354.0 590.4 354.3 588.9 354.4 587.4 354.1 585.9 353.5 584.8 352.6 583.9 351.5 583.3 350.3 583.0 348.9 583.0 347.3ZM584.2 347.3 584.9 345.2 586.3 343.4 588.2 342.1 590.4 341.4 592.6 341.5 594.6 342.4 595.9 343.9 596.6 345.8 596.6 347.1 596.3 348.4 595.8 349.5 595.0 350.6 593.0 352.3 591.7 352.9 590.4 353.2 589.1 353.2 587.9 353.0 586.7 352.5 585.7 351.7 585.0 350.8 584.5 349.8 584.2 348.6 584.2 347.3ZM585.1 347.3 585.7 345.5 586.9 344.0 588.5 342.8 590.4 342.3 592.3 342.3 594.0 343.1 595.2 344.4 595.7 346.0 595.7 347.2 595.5 348.2 594.4 350.2 592.6 351.6 590.4 352.3 588.2 352.2 587.2 351.7 586.4 351.1 585.7 350.3 585.3 349.4 585.1 348.4 585.1 347.3ZM588.0 347.3 588.3 346.5 588.8 345.8 589.6 345.3 590.4 345.0 591.2 345.1 592.0 345.4 592.5 346.0 592.8 346.7 592.7 347.7 592.2 348.6 591.4 349.2 590.4 349.6 589.4 349.5 588.6 349.0 588.1 348.2 588.0 347.3Z" fill="none" stroke="#444" stroke-width="0.6" clip-path="url(#cF)"/>
<path d="M498.8 406.2 498.4 406.3 497.6 405.7 496.6 403.6 495.4 399.6 494.5 394.8 493.9 388.4 492.6 368.4 492.3 357.6 492.5 338.8 492.9 334.8 493.6 332.7 494.8 330.7 496.4 329.4 497.2 329.0 498.4 328.8 499.6 328.9 500.4 329.3 502.0 330.5 503.2 332.2 504.0 334.4 504.5 338.8 504.7 355.6 504.3 368.8 502.6 393.6 501.9 398.4 501.0 402.0 500.0 404.6 499.4 405.6 498.8 406.2M498.8 402.2 498.4 402.3 497.6 401.7 496.6 399.6 495.5 395.6 494.8 391.2 494.3 386.0 493.1 366.8 492.8 357.6 493.0 340.4 493.4 336.4 494.0 334.3 495.2 332.4 496.8 331.2 498.4 330.8 500.0 331.1 501.6 332.2 502.8 333.9 503.5 336.0 504.0 339.6 504.2 355.6 503.9 367.6 502.3 390.8 501.7 394.8 500.8 398.4 499.7 401.2 498.8 402.2M498.8 398.6 498.4 398.6 498.0 398.4 497.4 397.6 496.8 396.3 495.8 392.8 495.1 388.8 494.6 384.0 493.5 366.0 493.2 357.6 493.4 341.6 493.8 337.6 494.5 335.6 495.6 334.0 496.8 333.1 498.4 332.6 500.0 333.0 501.4 334.0 502.4 335.4 503.2 337.6 503.6 341.2 503.8 355.6 503.5 366.4 502.0 387.6 501.4 391.6 500.7 394.8 499.6 397.6 498.8 398.6M498.8 394.9 498.4 394.9 498.0 394.7 497.0 392.8 496.0 389.6 495.4 386.0 495.0 381.6 493.9 365.2 493.7 357.6 493.9 342.8 494.2 339.2 494.8 337.3 495.6 336.1 496.8 335.0 498.4 334.5 500.0 334.9 501.2 335.8 502.1 337.2 502.7 338.8 503.1 342.4 503.3 355.6 503.1 365.2 501.7 384.8 501.2 388.4 500.4 391.8 499.6 393.9 498.8 394.9M498.4 391.2 497.6 390.4 496.8 388.5 495.7 382.8 494.3 364.0 494.1 356.4 494.3 344.0 494.7 340.4 495.2 338.9 496.0 337.6 497.2 336.7 498.4 336.3 499.6 336.6 500.8 337.4 501.8 338.8 502.3 340.4 502.7 344.0 502.9 356.4 502.6 364.8 501.3 382.8 500.8 386.1 500.0 389.1 499.2 390.8 498.8 391.1 498.4 391.2M498.8 387.4 498.4 387.5 498.0 387.3 497.2 385.7 496.1 380.8 494.9 365.6 494.6 357.2 494.7 345.2 495.1 342.0 495.6 340.4 496.4 339.2 497.2 338.6 498.4 338.2 499.6 338.5 500.8 339.4 501.6 340.8 501.9 342.0 502.3 345.2 502.4 355.2 502.2 363.2 501.1 379.2 500.1 384.8 499.6 386.2 498.8 387.4M498.8 383.7 498.4 383.8 498.1 383.6 497.6 382.8 496.8 380.4 496.4 378.0 495.4 365.2 495.0 357.2 495.2 346.8 495.5 343.6 495.8 342.4 496.4 341.3 497.2 340.5 498.4 340.1 499.6 340.4 500.4 341.0 501.0 342.0 501.5 343.2 501.8 346.0 502.0 354.8 501.8 362.4 500.8 376.5 500.0 381.1 499.4 382.8 498.8 383.7M498.4 380.0 498.0 379.7 497.4 378.4 496.6 374.4 495.7 362.8 495.5 356.0 495.6 347.6 495.9 344.8 496.3 343.6 496.8 342.9 497.6 342.2 498.4 342.0 499.2 342.1 500.0 342.6 500.7 343.6 501.1 344.8 501.4 347.6 501.5 356.0 501.3 362.4 500.4 374.4 499.6 378.4 499.2 379.4 498.8 379.9 498.4 380.0M498.8 376.1 498.4 376.2 498.0 375.9 497.6 375.0 497.0 372.4 496.4 365.2 495.9 356.8 496.1 349.2 496.3 346.4 496.7 345.2 497.2 344.5 498.4 343.9 499.6 344.3 500.0 344.8 500.6 346.0 500.9 348.4 501.1 354.8 500.9 360.8 500.2 370.4 499.6 374.3 498.8 376.1M498.8 372.2 498.4 372.4 498.0 371.9 497.3 369.2 496.8 364.0 496.4 356.8 496.5 350.8 496.8 348.0 497.4 346.4 498.0 345.9 498.4 345.8 499.2 346.0 499.6 346.4 500.2 347.6 500.4 349.6 500.6 354.4 500.5 359.2 500.0 366.4 499.6 369.7 499.2 371.4 498.8 372.2M498.8 368.2 498.4 368.4 498.0 367.7 497.6 365.8 496.9 356.4 497.2 349.6 497.6 348.3 498.4 347.7 499.2 348.0 499.6 348.8 500.0 350.8 500.1 354.0 500.0 358.4 499.6 364.0 499.2 367.0 498.8 368.2M498.4 364.0 498.0 362.8 497.6 360.0 497.4 355.2 497.6 351.4 498.0 350.1 498.4 349.8 498.8 349.9 499.3 350.8 499.6 355.2 499.2 361.5 498.8 363.6 498.4 364.0M498.4 358.2 498.1 355.2 498.4 352.7 498.8 353.3 498.9 355.2 498.8 357.3 498.4 358.2" fill="none" stroke="#222" stroke-width="0.6" clip-path="url(#cF)"/>
<path d="M598.6 433.6 591.8 433.6 586.6 432.6 575.5 430.0 570.3 429.2 565.8 428.9 559.4 428.9 540.6 430.2 534.2 430.1 531.9 429.6 530.0 428.8 528.6 427.6 528.2 426.4 528.6 425.6 529.8 424.4 531.8 423.2 534.2 422.1 539.0 420.7 544.6 419.8 551.0 419.3 561.8 418.9 586.6 418.8 595.8 419.1 600.2 419.9 603.3 421.2 604.9 422.4 606.0 423.6 606.7 424.8 607.1 426.0 607.1 427.2 606.6 428.4 605.8 429.6 604.6 430.8 603.4 431.7 601.8 432.6 598.6 433.6M596.6 432.8 593.4 433.0 589.8 432.6 585.4 431.8 576.0 429.6 570.8 428.8 567.0 428.5 561.0 428.5 543.0 429.7 537.8 429.6 535.5 429.2 533.5 428.4 532.5 427.6 531.9 426.4 532.2 425.6 533.4 424.4 535.0 423.4 537.0 422.4 541.4 421.0 547.0 420.1 553.0 419.6 562.6 419.3 585.8 419.2 594.2 419.5 598.2 420.2 599.8 420.7 601.4 421.5 602.6 422.4 603.7 423.6 604.5 424.8 604.8 426.0 604.8 426.8 604.4 428.0 603.6 429.2 602.4 430.4 599.8 432.0 596.6 432.8M595.4 432.1 592.2 432.3 588.6 431.9 585.4 431.3 576.2 429.2 571.0 428.4 568.2 428.2 561.8 428.2 546.2 429.1 540.6 429.1 538.6 428.7 536.8 428.0 535.8 427.2 535.5 426.8 535.4 426.0 535.8 425.2 537.0 424.2 540.6 422.3 545.0 421.1 550.2 420.3 557.0 419.9 565.0 419.7 585.0 419.6 593.0 419.9 596.6 420.5 599.4 421.6 600.5 422.4 601.7 423.6 602.4 424.8 602.6 425.6 602.7 426.4 602.4 427.6 600.8 429.6 598.4 431.2 595.4 432.1M594.6 431.2 591.8 431.6 588.2 431.3 584.2 430.6 574.3 428.4 568.6 427.8 562.6 427.8 549.0 428.7 543.8 428.6 541.8 428.3 540.2 427.7 539.1 426.8 538.9 426.0 539.2 425.2 540.0 424.4 541.4 423.5 543.4 422.6 547.0 421.5 552.2 420.7 558.2 420.3 565.4 420.1 584.2 419.9 591.4 420.2 594.6 420.7 597.1 421.6 599.3 423.2 599.9 424.0 600.4 425.2 600.5 426.8 600.1 427.6 599.2 428.8 597.0 430.4 594.6 431.2M591.4 430.8 589.4 430.8 586.6 430.6 576.6 428.4 570.2 427.5 563.8 427.5 551.0 428.2 546.2 428.1 544.6 427.8 543.3 427.2 542.5 426.4 542.4 425.6 542.9 424.8 543.9 424.0 546.6 422.6 550.2 421.6 554.6 421.0 560.2 420.6 567.0 420.4 583.8 420.3 590.2 420.6 593.4 421.1 595.6 422.0 597.5 423.6 598.0 424.4 598.4 425.6 598.4 426.4 598.0 427.2 597.1 428.4 596.2 429.2 594.2 430.2 591.4 430.8M590.6 430.0 588.2 430.1 585.4 429.9 575.4 427.7 570.6 427.1 565.4 427.1 553.8 427.7 549.4 427.6 547.4 427.2 546.6 426.8 546.1 426.4 545.8 425.6 546.0 425.2 546.6 424.4 547.9 423.6 549.6 422.8 552.6 422.0 556.6 421.3 561.4 421.0 567.4 420.8 582.6 420.7 588.6 420.9 591.8 421.5 593.8 422.3 595.4 423.6 596.2 425.2 596.3 426.0 596.0 426.8 594.6 428.4 592.6 429.6 590.6 430.0M589.8 429.2 587.8 429.4 585.0 429.3 575.4 427.2 571.4 426.8 566.2 426.7 556.2 427.2 552.6 427.1 550.2 426.5 549.5 426.0 549.3 425.6 549.4 425.2 550.0 424.4 552.0 423.2 554.6 422.4 558.6 421.7 563.0 421.4 569.0 421.2 581.8 421.1 587.0 421.3 589.8 421.7 591.8 422.4 593.3 423.6 594.0 424.8 594.1 426.0 593.7 426.8 593.0 427.6 591.4 428.7 589.8 429.2M588.6 428.5 586.6 428.7 584.2 428.6 575.8 426.9 571.8 426.4 555.8 426.6 554.2 426.4 553.4 426.1 552.9 425.6 552.8 425.2 553.0 424.8 553.9 424.0 555.5 423.2 558.2 422.4 561.2 422.0 570.2 421.6 581.4 421.5 585.8 421.7 588.1 422.0 589.4 422.4 590.8 423.2 591.8 424.4 592.0 425.6 591.4 426.8 590.2 427.8 588.6 428.5M585.4 428.0 582.2 427.8 576.2 426.5 573.0 426.1 569.4 426.0 561.4 426.2 558.2 426.0 556.7 425.6 556.4 425.2 556.4 424.8 557.2 424.0 559.0 423.2 561.0 422.7 563.8 422.3 571.8 421.9 580.6 421.9 584.6 422.1 586.6 422.4 587.9 422.8 589.1 423.6 589.8 424.8 589.6 426.0 588.6 427.0 587.4 427.7 585.4 428.0M584.6 427.2 581.8 427.1 576.2 426.0 573.4 425.7 561.9 425.6 560.3 425.2 560.0 424.8 560.2 424.4 560.6 424.0 561.4 423.6 563.0 423.1 565.8 422.7 572.2 422.3 583.0 422.4 585.0 422.7 586.2 423.1 587.0 423.6 587.6 424.4 587.6 425.2 587.0 426.2 586.2 426.8 584.6 427.2M583.4 426.4 580.6 426.4 574.2 425.3 565.4 425.1 564.0 424.8 563.8 424.4 564.2 424.0 565.1 423.6 569.0 423.0 574.6 422.8 581.8 422.8 584.2 423.4 585.0 423.9 585.4 424.4 585.4 425.2 585.1 425.6 584.6 426.0 583.4 426.4M582.2 425.6 580.2 425.7 575.4 424.9 569.0 424.5 568.4 424.4 568.2 424.0 569.5 423.6 572.6 423.3 578.2 423.2 580.6 423.3 582.1 423.6 582.9 424.0 583.2 424.4 583.2 424.8 582.9 425.2 582.2 425.6M579.8 424.8 578.6 424.8 577.0 424.4 576.5 424.0 579.0 423.9 580.0 424.0 580.6 424.4 580.2 424.8 579.8 424.8" fill="none" stroke="#222" stroke-width="0.6" clip-path="url(#cF)"/>
<polyline points="495.7,422.2 499.7,426.7 495.7,426.7" fill="none" stroke="#000" stroke-width="1.1"/>
<line x1="560.70" y1="261.60" x2="560.70" y2="427.10" stroke="#1a1a1a" stroke-width="1.1" />
<line x1="495.40" y1="369.60" x2="668.40" y2="369.60" stroke="#2a2a2a" stroke-width="1.3" />
<line x1="494.90" y1="261.60" x2="668.90" y2="261.60" stroke="#444" stroke-width="1.0" />
<line x1="668.40" y1="261.60" x2="668.40" y2="427.60" stroke="#666" stroke-width="1.0" />
<line x1="494.90" y1="427.10" x2="668.90" y2="427.10" stroke="#333" stroke-width="1.0" />
<line x1="495.40" y1="261.60" x2="495.40" y2="427.60" stroke="#444" stroke-width="1.0" />
<line x1="495.80" y1="427.10" x2="495.80" y2="431.80" stroke="#000" stroke-width="1.4" />
<text transform="translate(498.40 440.20) scale(1.0 1.12)" font-size="6.4" text-anchor="start" font-family='"Liberation Sans", sans-serif' font-weight="normal" fill="#222" >10</text>
<text transform="translate(504.35 436.60) scale(1.0 1.12)" font-size="5.44" text-anchor="start" font-family='"Liberation Sans", sans-serif' font-weight="normal" fill="#222" >0</text>
<line x1="490.40" y1="422.30" x2="495.40" y2="422.30" stroke="#000" stroke-width="1.4" />
<text transform="translate(484.50 426.80) scale(1.0 1.12)" font-size="6.4" text-anchor="end" font-family='"Liberation Sans", sans-serif' font-weight="normal" fill="#222" >10</text>
<text transform="translate(487.70 422.90) scale(1.0 1.12)" font-size="5.44" text-anchor="end" font-family='"Liberation Sans", sans-serif' font-weight="normal" fill="#222" >0</text>
<line x1="505.30" y1="427.10" x2="505.30" y2="429.70" stroke="#222" stroke-width="0.8" />
<line x1="492.80" y1="413.42" x2="495.40" y2="413.42" stroke="#222" stroke-width="0.8" />
<line x1="510.86" y1="427.10" x2="510.86" y2="429.70" stroke="#222" stroke-width="0.8" />
<line x1="492.80" y1="408.22" x2="495.40" y2="408.22" stroke="#222" stroke-width="0.8" />
<line x1="514.80" y1="427.10" x2="514.80" y2="429.70" stroke="#222" stroke-width="0.8" />
<line x1="492.80" y1="404.54" x2="495.40" y2="404.54" stroke="#222" stroke-width="0.8" />
<line x1="517.86" y1="427.10" x2="517.86" y2="430.10" stroke="#222" stroke-width="0.8" />
<line x1="492.40" y1="401.68" x2="495.40" y2="401.68" stroke="#222" stroke-width="0.8" />
<line x1="520.36" y1="427.10" x2="520.36" y2="429.70" stroke="#222" stroke-width="0.8" />
<line x1="492.80" y1="399.34" x2="495.40" y2="399.34" stroke="#222" stroke-width="0.8" />
<line x1="522.47" y1="427.10" x2="522.47" y2="429.70" stroke="#222" stroke-width="0.8" />
<line x1="492.80" y1="397.37" x2="495.40" y2="397.37" stroke="#222" stroke-width="0.8" />
<line x1="524.30" y1="427.10" x2="524.30" y2="429.70" stroke="#222" stroke-width="0.8" />
<line x1="492.80" y1="395.66" x2="495.40" y2="395.66" stroke="#222" stroke-width="0.8" />
<line x1="525.92" y1="427.10" x2="525.92" y2="429.70" stroke="#222" stroke-width="0.8" />
<line x1="492.80" y1="394.15" x2="495.40" y2="394.15" stroke="#222" stroke-width="0.8" />
<line x1="527.36" y1="427.10" x2="527.36" y2="431.80" stroke="#000" stroke-width="1.4" />
<text transform="translate(528.36 440.20) scale(1.0 1.12)" font-size="6.4" text-anchor="start" font-family='"Liberation Sans", sans-serif' font-weight="normal" fill="#222" >10</text>
<text transform="translate(534.31 436.60) scale(1.0 1.12)" font-size="5.44" text-anchor="start" font-family='"Liberation Sans", sans-serif' font-weight="normal" fill="#222" >1</text>
<line x1="490.40" y1="392.80" x2="495.40" y2="392.80" stroke="#000" stroke-width="1.4" />
<text transform="translate(484.50 397.30) scale(1.0 1.12)" font-size="6.4" text-anchor="end" font-family='"Liberation Sans", sans-serif' font-weight="normal" fill="#222" >10</text>
<text transform="translate(487.70 393.40) scale(1.0 1.12)" font-size="5.44" text-anchor="end" font-family='"Liberation Sans", sans-serif' font-weight="normal" fill="#222" >1</text>
<line x1="536.86" y1="427.10" x2="536.86" y2="429.70" stroke="#222" stroke-width="0.8" />
<line x1="492.80" y1="383.92" x2="495.40" y2="383.92" stroke="#222" stroke-width="0.8" />
<line x1="542.42" y1="427.10" x2="542.42" y2="429.70" stroke="#222" stroke-width="0.8" />
<line x1="492.80" y1="378.72" x2="495.40" y2="378.72" stroke="#222" stroke-width="0.8" />
<line x1="546.36" y1="427.10" x2="546.36" y2="429.70" stroke="#222" stroke-width="0.8" />
<line x1="492.80" y1="375.04" x2="495.40" y2="375.04" stroke="#222" stroke-width="0.8" />
<line x1="549.42" y1="427.10" x2="549.42" y2="430.10" stroke="#222" stroke-width="0.8" />
<line x1="492.40" y1="372.18" x2="495.40" y2="372.18" stroke="#222" stroke-width="0.8" />
<line x1="551.92" y1="427.10" x2="551.92" y2="429.70" stroke="#222" stroke-width="0.8" />
<line x1="492.80" y1="369.84" x2="495.40" y2="369.84" stroke="#222" stroke-width="0.8" />
<line x1="554.03" y1="427.10" x2="554.03" y2="429.70" stroke="#222" stroke-width="0.8" />
<line x1="492.80" y1="367.87" x2="495.40" y2="367.87" stroke="#222" stroke-width="0.8" />
<line x1="555.86" y1="427.10" x2="555.86" y2="429.70" stroke="#222" stroke-width="0.8" />
<line x1="492.80" y1="366.16" x2="495.40" y2="366.16" stroke="#222" stroke-width="0.8" />
<line x1="557.48" y1="427.10" x2="557.48" y2="429.70" stroke="#222" stroke-width="0.8" />
<line x1="492.80" y1="364.65" x2="495.40" y2="364.65" stroke="#222" stroke-width="0.8" />
<line x1="558.92" y1="427.10" x2="558.92" y2="431.80" stroke="#000" stroke-width="1.4" />
<text transform="translate(559.92 440.20) scale(1.0 1.12)" font-size="6.4" text-anchor="start" font-family='"Liberation Sans", sans-serif' font-weight="normal" fill="#222" >10</text>
<text transform="translate(565.87 436.60) scale(1.0 1.12)" font-size="5.44" text-anchor="start" font-family='"Liberation Sans", sans-serif' font-weight="normal" fill="#222" >2</text>
<line x1="490.40" y1="363.30" x2="495.40" y2="363.30" stroke="#000" stroke-width="1.4" />
<text transform="translate(484.50 367.80) scale(1.0 1.12)" font-size="6.4" text-anchor="end" font-family='"Liberation Sans", sans-serif' font-weight="normal" fill="#222" >10</text>
<text transform="translate(487.70 363.90) scale(1.0 1.12)" font-size="5.44" text-anchor="end" font-family='"Liberation Sans", sans-serif' font-weight="normal" fill="#222" >2</text>
<line x1="568.42" y1="427.10" x2="568.42" y2="429.70" stroke="#222" stroke-width="0.8" />
<line x1="492.80" y1="354.42" x2="495.40" y2="354.42" stroke="#222" stroke-width="0.8" />
<line x1="573.98" y1="427.10" x2="573.98" y2="429.70" stroke="#222" stroke-width="0.8" />
<line x1="492.80" y1="349.22" x2="495.40" y2="349.22" stroke="#222" stroke-width="0.8" />
<line x1="577.92" y1="427.10" x2="577.92" y2="429.70" stroke="#222" stroke-width="0.8" />
<line x1="492.80" y1="345.54" x2="495.40" y2="345.54" stroke="#222" stroke-width="0.8" />
<line x1="580.98" y1="427.10" x2="580.98" y2="430.10" stroke="#222" stroke-width="0.8" />
<line x1="492.40" y1="342.68" x2="495.40" y2="342.68" stroke="#222" stroke-width="0.8" />
<line x1="583.48" y1="427.10" x2="583.48" y2="429.70" stroke="#222" stroke-width="0.8" />
<line x1="492.80" y1="340.34" x2="495.40" y2="340.34" stroke="#222" stroke-width="0.8" />
<line x1="585.59" y1="427.10" x2="585.59" y2="429.70" stroke="#222" stroke-width="0.8" />
<line x1="492.80" y1="338.37" x2="495.40" y2="338.37" stroke="#222" stroke-width="0.8" />
<line x1="587.42" y1="427.10" x2="587.42" y2="429.70" stroke="#222" stroke-width="0.8" />
<line x1="492.80" y1="336.66" x2="495.40" y2="336.66" stroke="#222" stroke-width="0.8" />
<line x1="589.04" y1="427.10" x2="589.04" y2="429.70" stroke="#222" stroke-width="0.8" />
<line x1="492.80" y1="335.15" x2="495.40" y2="335.15" stroke="#222" stroke-width="0.8" />
<line x1="590.48" y1="427.10" x2="590.48" y2="431.80" stroke="#000" stroke-width="1.4" />
<text transform="translate(591.48 440.20) scale(1.0 1.12)" font-size="6.4" text-anchor="start" font-family='"Liberation Sans", sans-serif' font-weight="normal" fill="#222" >10</text>
<text transform="translate(597.43 436.60) scale(1.0 1.12)" font-size="5.44" text-anchor="start" font-family='"Liberation Sans", sans-serif' font-weight="normal" fill="#222" >3</text>
<line x1="490.40" y1="333.80" x2="495.40" y2="333.80" stroke="#000" stroke-width="1.4" />
<text transform="translate(484.50 338.30) scale(1.0 1.12)" font-size="6.4" text-anchor="end" font-family='"Liberation Sans", sans-serif' font-weight="normal" fill="#222" >10</text>
<text transform="translate(487.70 334.40) scale(1.0 1.12)" font-size="5.44" text-anchor="end" font-family='"Liberation Sans", sans-serif' font-weight="normal" fill="#222" >3</text>
<line x1="599.98" y1="427.10" x2="599.98" y2="429.70" stroke="#222" stroke-width="0.8" />
<line x1="492.80" y1="324.92" x2="495.40" y2="324.92" stroke="#222" stroke-width="0.8" />
<line x1="605.54" y1="427.10" x2="605.54" y2="429.70" stroke="#222" stroke-width="0.8" />
<line x1="492.80" y1="319.72" x2="495.40" y2="319.72" stroke="#222" stroke-width="0.8" />
<line x1="609.48" y1="427.10" x2="609.48" y2="429.70" stroke="#222" stroke-width="0.8" />
<line x1="492.80" y1="316.04" x2="495.40" y2="316.04" stroke="#222" stroke-width="0.8" />
<line x1="612.54" y1="427.10" x2="612.54" y2="430.10" stroke="#222" stroke-width="0.8" />
<line x1="492.40" y1="313.18" x2="495.40" y2="313.18" stroke="#222" stroke-width="0.8" />
<line x1="615.04" y1="427.10" x2="615.04" y2="429.70" stroke="#222" stroke-width="0.8" />
<line x1="492.80" y1="310.84" x2="495.40" y2="310.84" stroke="#222" stroke-width="0.8" />
<line x1="617.15" y1="427.10" x2="617.15" y2="429.70" stroke="#222" stroke-width="0.8" />
<line x1="492.80" y1="308.87" x2="495.40" y2="308.87" stroke="#222" stroke-width="0.8" />
<line x1="618.98" y1="427.10" x2="618.98" y2="429.70" stroke="#222" stroke-width="0.8" />
<line x1="492.80" y1="307.16" x2="495.40" y2="307.16" stroke="#222" stroke-width="0.8" />
<line x1="620.60" y1="427.10" x2="620.60" y2="429.70" stroke="#222" stroke-width="0.8" />
<line x1="492.80" y1="305.65" x2="495.40" y2="305.65" stroke="#222" stroke-width="0.8" />
<line x1="622.04" y1="427.10" x2="622.04" y2="431.80" stroke="#000" stroke-width="1.4" />
<text transform="translate(623.04 440.20) scale(1.0 1.12)" font-size="6.4" text-anchor="start" font-family='"Liberation Sans", sans-serif' font-weight="normal" fill="#222" >10</text>
<text transform="translate(628.99 436.60) scale(1.0 1.12)" font-size="5.44" text-anchor="start" font-family='"Liberation Sans", sans-serif' font-weight="normal" fill="#222" >4</text>
<line x1="490.40" y1="304.30" x2="495.40" y2="304.30" stroke="#000" stroke-width="1.4" />
<text transform="translate(484.50 308.80) scale(1.0 1.12)" font-size="6.4" text-anchor="end" font-family='"Liberation Sans", sans-serif' font-weight="normal" fill="#222" >10</text>
<text transform="translate(487.70 304.90) scale(1.0 1.12)" font-size="5.44" text-anchor="end" font-family='"Liberation Sans", sans-serif' font-weight="normal" fill="#222" >4</text>
<line x1="631.54" y1="427.10" x2="631.54" y2="429.70" stroke="#222" stroke-width="0.8" />
<line x1="492.80" y1="295.42" x2="495.40" y2="295.42" stroke="#222" stroke-width="0.8" />
<line x1="637.10" y1="427.10" x2="637.10" y2="429.70" stroke="#222" stroke-width="0.8" />
<line x1="492.80" y1="290.22" x2="495.40" y2="290.22" stroke="#222" stroke-width="0.8" />
<line x1="641.04" y1="427.10" x2="641.04" y2="429.70" stroke="#222" stroke-width="0.8" />
<line x1="492.80" y1="286.54" x2="495.40" y2="286.54" stroke="#222" stroke-width="0.8" />
<line x1="644.10" y1="427.10" x2="644.10" y2="430.10" stroke="#222" stroke-width="0.8" />
<line x1="492.40" y1="283.68" x2="495.40" y2="283.68" stroke="#222" stroke-width="0.8" />
<line x1="646.60" y1="427.10" x2="646.60" y2="429.70" stroke="#222" stroke-width="0.8" />
<line x1="492.80" y1="281.34" x2="495.40" y2="281.34" stroke="#222" stroke-width="0.8" />
<line x1="648.71" y1="427.10" x2="648.71" y2="429.70" stroke="#222" stroke-width="0.8" />
<line x1="492.80" y1="279.37" x2="495.40" y2="279.37" stroke="#222" stroke-width="0.8" />
<line x1="650.54" y1="427.10" x2="650.54" y2="429.70" stroke="#222" stroke-width="0.8" />
<line x1="492.80" y1="277.66" x2="495.40" y2="277.66" stroke="#222" stroke-width="0.8" />
<line x1="652.16" y1="427.10" x2="652.16" y2="429.70" stroke="#222" stroke-width="0.8" />
<line x1="492.80" y1="276.15" x2="495.40" y2="276.15" stroke="#222" stroke-width="0.8" />
<line x1="653.60" y1="427.10" x2="653.60" y2="431.80" stroke="#000" stroke-width="1.4" />
<text transform="translate(654.60 440.20) scale(1.0 1.12)" font-size="6.4" text-anchor="start" font-family='"Liberation Sans", sans-serif' font-weight="normal" fill="#222" >10</text>
<text transform="translate(660.55 436.60) scale(1.0 1.12)" font-size="5.44" text-anchor="start" font-family='"Liberation Sans", sans-serif' font-weight="normal" fill="#222" >5</text>
<line x1="490.40" y1="274.80" x2="495.40" y2="274.80" stroke="#000" stroke-width="1.4" />
<text transform="translate(484.50 279.30) scale(1.0 1.12)" font-size="6.4" text-anchor="end" font-family='"Liberation Sans", sans-serif' font-weight="normal" fill="#222" >10</text>
<text transform="translate(487.70 275.40) scale(1.0 1.12)" font-size="5.44" text-anchor="end" font-family='"Liberation Sans", sans-serif' font-weight="normal" fill="#222" >5</text>
<line x1="663.10" y1="427.10" x2="663.10" y2="429.70" stroke="#222" stroke-width="0.8" />
<line x1="492.80" y1="265.92" x2="495.40" y2="265.92" stroke="#222" stroke-width="0.8" />
<text transform="translate(497.80 275.10) scale(1.0 1.12)" font-size="7.0" text-anchor="start" font-family='"Liberation Sans", sans-serif' font-weight="normal" fill="#222" >Q1</text>
<text transform="translate(497.80 284.30) scale(1.0 1.12)" font-size="7.0" text-anchor="start" font-family='"Liberation Sans", sans-serif' font-weight="normal" fill="#222" >15.6</text>
<text transform="translate(653.60 275.10) scale(1.0 1.12)" font-size="7.0" text-anchor="end" font-family='"Liberation Sans", sans-serif' font-weight="normal" fill="#222" >Q2</text>
<text transform="translate(653.60 284.30) scale(1.0 1.12)" font-size="7.0" text-anchor="end" font-family='"Liberation Sans", sans-serif' font-weight="normal" fill="#222" >45.7</text>
<text transform="translate(497.80 410.50) scale(1.0 1.12)" font-size="7.0" text-anchor="start" font-family='"Liberation Sans", sans-serif' font-weight="normal" fill="#222" >Q4</text>
<text transform="translate(497.80 419.70) scale(1.0 1.12)" font-size="7.0" text-anchor="start" font-family='"Liberation Sans", sans-serif' font-weight="normal" fill="#222" >21.3</text>
<text transform="translate(653.60 410.50) scale(1.0 1.12)" font-size="7.0" text-anchor="end" font-family='"Liberation Sans", sans-serif' font-weight="normal" fill="#222" >Q3</text>
<text transform="translate(653.60 419.70) scale(1.0 1.12)" font-size="7.0" text-anchor="end" font-family='"Liberation Sans", sans-serif' font-weight="normal" fill="#222" >17.4</text>
<line x1="471.41" y1="320.10" x2="473.30" y2="396.10" stroke="#000" stroke-width="1.8" />
<polygon points="471.2,312.4 467.2,320.6 475.6,320.6" fill="#000"/>
<text transform="translate(466.00 345.00) rotate(-90) scale(1 1.2)" font-size="7.0" text-anchor="middle" font-family='"Liberation Sans", sans-serif' fill="#222">FITC-A</text>
<line x1="534.10" y1="460.20" x2="623.40" y2="460.20" stroke="#000" stroke-width="1.8" />
<polygon points="631.4,460.2 623.2,456.1 623.2,464.3" fill="#000"/>
<text transform="translate(580.10 457.00) scale(1.0 1.12)" font-size="7.0" text-anchor="middle" font-family='"Liberation Sans", sans-serif' font-weight="normal" fill="#222" >PE-A</text>
<text x="518.20" y="476.70" font-size="15.3" text-anchor="start" font-family='"Liberation Serif", serif' font-weight="normal" fill="#000" >Diseased Newborns</text>
<text x="476.30" y="249.80" font-size="15" text-anchor="start" font-family='"Liberation Serif", serif' font-weight="normal" fill="#000" >F</text>
<path d="M49.3,559.8L52.2,565.2L46.4,565.2ZM49.3,569.6L52.2,575.0L46.4,575.0ZM47.6,595.4L50.5,600.8L44.7,600.8ZM50.9,595.4L53.8,600.8L48.0,600.8ZM46.5,611.1L49.4,616.5L43.6,616.5ZM49.3,611.1L52.2,616.5L46.4,616.5ZM52.0,611.1L54.9,616.5L49.1,616.5ZM45.0,620.2L47.9,625.6L42.1,625.6ZM48.0,620.2L50.9,625.6L45.1,625.6ZM51.0,620.2L53.9,625.6L48.1,625.6ZM54.0,620.2L56.9,625.6L51.1,625.6ZM44.0,624.8L46.9,630.2L41.1,630.2ZM47.5,624.8L50.4,630.2L44.6,630.2ZM51.0,624.8L53.9,630.2L48.1,630.2ZM54.5,624.8L57.4,630.2L51.6,630.2ZM43.0,630.0L45.9,635.4L40.1,635.4ZM46.5,630.0L49.4,635.4L43.6,635.4ZM50.0,630.0L52.9,635.4L47.1,635.4ZM53.5,630.0L56.4,635.4L50.6,635.4ZM56.0,630.0L58.9,635.4L53.1,635.4ZM42.5,635.3L45.4,640.7L39.6,640.7ZM45.5,635.3L48.4,640.7L42.6,640.7ZM48.5,635.3L51.4,640.7L45.6,640.7ZM51.5,635.3L54.4,640.7L48.6,640.7ZM54.5,635.3L57.4,640.7L51.6,640.7ZM56.5,635.3L59.4,640.7L53.6,640.7ZM42.0,640.5L44.9,645.9L39.1,645.9ZM45.0,640.5L47.9,645.9L42.1,645.9ZM48.0,640.5L50.9,645.9L45.1,645.9ZM51.0,640.5L53.9,645.9L48.1,645.9ZM54.0,640.5L56.9,645.9L51.1,645.9ZM57.0,640.5L59.9,645.9L54.1,645.9ZM78.2,548.7L81.1,554.1L75.3,554.1ZM76.6,556.6L79.5,562.0L73.7,562.0ZM79.7,559.7L82.6,565.1L76.8,565.1ZM71.8,571.5L74.7,576.9L68.9,576.9ZM74.9,571.5L77.8,576.9L72.0,576.9ZM78.4,571.5L81.3,576.9L75.5,576.9ZM81.5,571.5L84.4,576.9L78.6,576.9ZM84.5,571.5L87.4,576.9L81.6,576.9ZM76.6,577.2L79.5,582.6L73.7,582.6ZM79.7,577.2L82.6,582.6L76.8,582.6ZM82.8,584.2L85.7,589.6L79.9,589.6ZM74.0,586.8L76.9,592.2L71.1,592.2ZM76.6,586.8L79.5,592.2L73.7,592.2ZM79.7,589.5L82.6,594.9L76.8,594.9ZM71.4,594.7L74.3,600.1L68.5,600.1ZM74.0,594.7L76.9,600.1L71.1,600.1ZM81.9,594.7L84.8,600.1L79.0,600.1ZM84.5,594.7L87.4,600.1L81.6,600.1ZM71.8,604.6L74.7,610.0L68.9,610.0ZM75.5,604.6L78.4,610.0L72.6,610.0ZM79.0,604.6L81.9,610.0L76.1,610.0ZM83.0,604.6L85.9,610.0L80.1,610.0ZM73.1,613.7L76.0,619.1L70.2,619.1ZM77.0,613.7L79.9,619.1L74.1,619.1ZM82.2,613.7L85.1,619.1L79.3,619.1ZM78.3,616.3L81.2,621.7L75.4,621.7ZM73.8,628.1L76.7,633.5L70.9,633.5ZM77.0,628.1L79.9,633.5L74.1,633.5ZM80.9,628.1L83.8,633.5L78.0,633.5ZM78.3,633.3L81.2,638.7L75.4,638.7ZM76.4,638.5L79.3,643.9L73.5,643.9ZM74.4,641.9L77.3,647.3L71.5,647.3ZM82.2,641.9L85.1,647.3L79.3,647.3ZM107.3,571.1L110.2,576.5L104.4,576.5ZM107.3,574.1L110.2,579.5L104.4,579.5ZM105.5,580.7L108.4,586.1L102.6,586.1ZM109.0,580.7L111.9,586.1L106.1,586.1ZM105.5,586.8L108.4,592.2L102.6,592.2ZM109.0,587.7L111.9,593.1L106.1,593.1ZM107.3,591.2L110.2,596.6L104.4,596.6ZM107.3,594.7L110.2,600.1L104.4,600.1ZM107.3,597.9L110.2,603.3L104.4,603.3ZM107.3,608.4L110.2,613.8L104.4,613.8ZM107.3,611.9L110.2,617.3L104.4,617.3ZM107.3,620.9L110.2,626.3L104.4,626.3ZM105.5,628.9L108.4,634.3L102.6,634.3ZM109.0,628.9L111.9,634.3L106.1,634.3ZM103.0,632.9L105.9,638.3L100.1,638.3ZM106.5,632.9L109.4,638.3L103.6,638.3ZM110.0,632.9L112.9,638.3L107.1,638.3ZM113.5,632.9L116.4,638.3L110.6,638.3ZM101.0,636.9L103.9,642.3L98.1,642.3ZM104.5,636.9L107.4,642.3L101.6,642.3ZM108.0,636.9L110.9,642.3L105.1,642.3ZM111.5,636.9L114.4,642.3L108.6,642.3ZM115.0,636.9L117.9,642.3L112.1,642.3ZM100.0,640.9L102.9,646.3L97.1,646.3ZM103.5,640.9L106.4,646.3L100.6,646.3ZM107.0,640.9L109.9,646.3L104.1,646.3ZM110.5,640.9L113.4,646.3L107.6,646.3ZM114.0,640.9L116.9,646.3L111.1,646.3ZM117.0,640.9L119.9,646.3L114.1,646.3Z" fill="#ff0000"/>
<path d="M134.00,569.55L134.78,571.43L136.81,571.59L135.26,572.91L135.73,574.89L134.00,573.83L132.27,574.89L132.74,572.91L131.19,571.59L133.22,571.43ZM138.50,569.55L139.28,571.43L141.31,571.59L139.76,572.91L140.23,574.89L138.50,573.83L136.77,574.89L137.24,572.91L135.69,571.59L137.72,571.43ZM135.10,611.55L135.88,613.43L137.91,613.59L136.36,614.91L136.83,616.89L135.10,615.83L133.37,616.89L133.84,614.91L132.29,613.59L134.32,613.43ZM137.70,611.15L138.48,613.03L140.51,613.19L138.96,614.51L139.43,616.49L137.70,615.43L135.97,616.49L136.44,614.51L134.89,613.19L136.92,613.03ZM136.00,617.05L136.78,618.93L138.81,619.09L137.26,620.41L137.73,622.39L136.00,621.33L134.27,622.39L134.74,620.41L133.19,619.09L135.22,618.93ZM133.80,627.55L134.58,629.43L136.61,629.59L135.06,630.91L135.53,632.89L133.80,631.83L132.07,632.89L132.54,630.91L130.99,629.59L133.02,629.43ZM138.40,627.55L139.18,629.43L141.21,629.59L139.66,630.91L140.13,632.89L138.40,631.83L136.67,632.89L137.14,630.91L135.59,629.59L137.62,629.43ZM128.50,630.85L129.28,632.73L131.31,632.89L129.76,634.21L130.23,636.19L128.50,635.13L126.77,636.19L127.24,634.21L125.69,632.89L127.72,632.73ZM143.70,630.85L144.48,632.73L146.51,632.89L144.96,634.21L145.43,636.19L143.70,635.13L141.97,636.19L142.44,634.21L140.89,632.89L142.92,632.73ZM131.80,634.35L132.58,636.23L134.61,636.39L133.06,637.71L133.53,639.69L131.80,638.63L130.07,639.69L130.54,637.71L128.99,636.39L131.02,636.23ZM135.80,634.15L136.58,636.03L138.61,636.19L137.06,637.51L137.53,639.49L135.80,638.43L134.07,639.49L134.54,637.51L132.99,636.19L135.02,636.03ZM139.70,634.35L140.48,636.23L142.51,636.39L140.96,637.71L141.43,639.69L139.70,638.63L137.97,639.69L138.44,637.71L136.89,636.39L138.92,636.23ZM143.00,633.85L143.78,635.73L145.81,635.89L144.26,637.21L144.73,639.19L143.00,638.13L141.27,639.19L141.74,637.21L140.19,635.89L142.22,635.73ZM133.00,637.35L133.78,639.23L135.81,639.39L134.26,640.71L134.73,642.69L133.00,641.63L131.27,642.69L131.74,640.71L130.19,639.39L132.22,639.23ZM137.00,637.35L137.78,639.23L139.81,639.39L138.26,640.71L138.73,642.69L137.00,641.63L135.27,642.69L135.74,640.71L134.19,639.39L136.22,639.23ZM141.00,637.35L141.78,639.23L143.81,639.39L142.26,640.71L142.73,642.69L141.00,641.63L139.27,642.69L139.74,640.71L138.19,639.39L140.22,639.23ZM133.80,640.05L134.58,641.93L136.61,642.09L135.06,643.41L135.53,645.39L133.80,644.33L132.07,645.39L132.54,643.41L130.99,642.09L133.02,641.93ZM138.40,640.05L139.18,641.93L141.21,642.09L139.66,643.41L140.13,645.39L138.40,644.33L136.67,645.39L137.14,643.41L135.59,642.09L137.62,641.93ZM161.30,572.05L162.08,573.93L164.11,574.09L162.56,575.41L163.03,577.39L161.30,576.33L159.57,577.39L160.04,575.41L158.49,574.09L160.52,573.93ZM168.70,572.05L169.48,573.93L171.51,574.09L169.96,575.41L170.43,577.39L168.70,576.33L166.97,577.39L167.44,575.41L165.89,574.09L167.92,573.93ZM165.00,578.55L165.78,580.43L167.81,580.59L166.26,581.91L166.73,583.89L165.00,582.83L163.27,583.89L163.74,581.91L162.19,580.59L164.22,580.43ZM165.00,584.35L165.78,586.23L167.81,586.39L166.26,587.71L166.73,589.69L165.00,588.63L163.27,589.69L163.74,587.71L162.19,586.39L164.22,586.23ZM165.00,589.85L165.78,591.73L167.81,591.89L166.26,593.21L166.73,595.19L165.00,594.13L163.27,595.19L163.74,593.21L162.19,591.89L164.22,591.73ZM172.30,595.45L173.08,597.33L175.11,597.49L173.56,598.81L174.03,600.79L172.30,599.73L170.57,600.79L171.04,598.81L169.49,597.49L171.52,597.33ZM165.00,599.65L165.78,601.53L167.81,601.69L166.26,603.01L166.73,604.99L165.00,603.93L163.27,604.99L163.74,603.01L162.19,601.69L164.22,601.53ZM165.00,604.75L165.78,606.63L167.81,606.79L166.26,608.11L166.73,610.09L165.00,609.03L163.27,610.09L163.74,608.11L162.19,606.79L164.22,606.63ZM165.00,613.25L165.78,615.13L167.81,615.29L166.26,616.61L166.73,618.59L165.00,617.53L163.27,618.59L163.74,616.61L162.19,615.29L164.22,615.13ZM161.40,619.95L162.18,621.83L164.21,621.99L162.66,623.31L163.13,625.29L161.40,624.23L159.67,625.29L160.14,623.31L158.59,621.99L160.62,621.83ZM168.60,619.45L169.38,621.33L171.41,621.49L169.86,622.81L170.33,624.79L168.60,623.73L166.87,624.79L167.34,622.81L165.79,621.49L167.82,621.33ZM172.30,628.65L173.08,630.53L175.11,630.69L173.56,632.01L174.03,633.99L172.30,632.93L170.57,633.99L171.04,632.01L169.49,630.69L171.52,630.53ZM157.80,633.45L158.58,635.33L160.61,635.49L159.06,636.81L159.53,638.79L157.80,637.73L156.07,638.79L156.54,636.81L154.99,635.49L157.02,635.33ZM165.00,633.45L165.78,635.33L167.81,635.49L166.26,636.81L166.73,638.79L165.00,637.73L163.27,638.79L163.74,636.81L162.19,635.49L164.22,635.33ZM172.30,635.45L173.08,637.33L175.11,637.49L173.56,638.81L174.03,640.79L172.30,639.73L170.57,640.79L171.04,638.81L169.49,637.49L171.52,637.33ZM165.00,638.75L165.78,640.63L167.81,640.79L166.26,642.11L166.73,644.09L165.00,643.03L163.27,644.09L163.74,642.11L162.19,640.79L164.22,640.63ZM157.80,640.95L158.58,642.83L160.61,642.99L159.06,644.31L159.53,646.29L157.80,645.23L156.07,646.29L156.54,644.31L154.99,642.99L157.02,642.83ZM172.30,640.95L173.08,642.83L175.11,642.99L173.56,644.31L174.03,646.29L172.30,645.23L170.57,646.29L171.04,644.31L169.49,642.99L171.52,642.83ZM193.90,581.75L194.68,583.63L196.71,583.79L195.16,585.11L195.63,587.09L193.90,586.03L192.17,587.09L192.64,585.11L191.09,583.79L193.12,583.63ZM193.90,589.25L194.68,591.13L196.71,591.29L195.16,592.61L195.63,594.59L193.90,593.53L192.17,594.59L192.64,592.61L191.09,591.29L193.12,591.13ZM191.00,597.35L191.78,599.23L193.81,599.39L192.26,600.71L192.73,602.69L191.00,601.63L189.27,602.69L189.74,600.71L188.19,599.39L190.22,599.23ZM194.00,597.35L194.78,599.23L196.81,599.39L195.26,600.71L195.73,602.69L194.00,601.63L192.27,602.69L192.74,600.71L191.19,599.39L193.22,599.23ZM197.00,597.35L197.78,599.23L199.81,599.39L198.26,600.71L198.73,602.69L197.00,601.63L195.27,602.69L195.74,600.71L194.19,599.39L196.22,599.23ZM193.90,608.85L194.68,610.73L196.71,610.89L195.16,612.21L195.63,614.19L193.90,613.13L192.17,614.19L192.64,612.21L191.09,610.89L193.12,610.73ZM193.90,612.35L194.68,614.23L196.71,614.39L195.16,615.71L195.63,617.69L193.90,616.63L192.17,617.69L192.64,615.71L191.09,614.39L193.12,614.23ZM193.90,622.35L194.68,624.23L196.71,624.39L195.16,625.71L195.63,627.69L193.90,626.63L192.17,627.69L192.64,625.71L191.09,624.39L193.12,624.23ZM194.50,636.15L195.28,638.03L197.31,638.19L195.76,639.51L196.23,641.49L194.50,640.43L192.77,641.49L193.24,639.51L191.69,638.19L193.72,638.03ZM187.00,640.35L187.78,642.23L189.81,642.39L188.26,643.71L188.73,645.69L187.00,644.63L185.27,645.69L185.74,643.71L184.19,642.39L186.22,642.23ZM191.00,641.35L191.78,643.23L193.81,643.39L192.26,644.71L192.73,646.69L191.00,645.63L189.27,646.69L189.74,644.71L188.19,643.39L190.22,643.23ZM195.00,640.35L195.78,642.23L197.81,642.39L196.26,643.71L196.73,645.69L195.00,644.63L193.27,645.69L193.74,643.71L192.19,642.39L194.22,642.23ZM199.00,641.35L199.78,643.23L201.81,643.39L200.26,644.71L200.73,646.69L199.00,645.63L197.27,646.69L197.74,644.71L196.19,643.39L198.22,643.23ZM202.00,640.85L202.78,642.73L204.81,642.89L203.26,644.21L203.73,646.19L202.00,645.13L200.27,646.19L200.74,644.21L199.19,642.89L201.22,642.73ZM189.00,643.85L189.78,645.73L191.81,645.89L190.26,647.21L190.73,649.19L189.00,648.13L187.27,649.19L187.74,647.21L186.19,645.89L188.22,645.73ZM193.00,643.85L193.78,645.73L195.81,645.89L194.26,647.21L194.73,649.19L193.00,648.13L191.27,649.19L191.74,647.21L190.19,645.89L192.22,645.73ZM197.00,643.85L197.78,645.73L199.81,645.89L198.26,647.21L198.73,649.19L197.00,648.13L195.27,649.19L195.74,647.21L194.19,645.89L196.22,645.73ZM201.00,643.85L201.78,645.73L203.81,645.89L202.26,647.21L202.73,649.19L201.00,648.13L199.27,649.19L199.74,647.21L198.19,645.89L200.22,645.73Z" fill="#00c000"/>
<line x1="39.80" y1="631.20" x2="58.80" y2="631.20" stroke="#000" stroke-width="1.5" />
<line x1="68.70" y1="600.20" x2="87.70" y2="600.20" stroke="#000" stroke-width="1.5" />
<line x1="97.80" y1="622.50" x2="116.80" y2="622.50" stroke="#000" stroke-width="1.5" />
<line x1="126.50" y1="634.40" x2="145.50" y2="634.40" stroke="#000" stroke-width="1.5" />
<line x1="155.50" y1="619.10" x2="174.50" y2="619.10" stroke="#000" stroke-width="1.5" />
<line x1="184.50" y1="640.50" x2="203.50" y2="640.50" stroke="#000" stroke-width="1.5" />
<line x1="30.60" y1="524.30" x2="30.60" y2="647.60" stroke="#000" stroke-width="1.6" />
<line x1="29.80" y1="646.80" x2="214.00" y2="646.80" stroke="#000" stroke-width="1.7" />
<line x1="25.60" y1="525.00" x2="30.60" y2="525.00" stroke="#000" stroke-width="1.5" />
<text x="23.60" y="528.10" font-size="8.6" text-anchor="end" font-family='"Liberation Sans", sans-serif' font-weight="bold" fill="#000" >15</text>
<line x1="25.60" y1="566.00" x2="30.60" y2="566.00" stroke="#000" stroke-width="1.5" />
<text x="23.60" y="569.10" font-size="8.6" text-anchor="end" font-family='"Liberation Sans", sans-serif' font-weight="bold" fill="#000" >10</text>
<line x1="25.60" y1="606.50" x2="30.60" y2="606.50" stroke="#000" stroke-width="1.5" />
<text x="23.60" y="609.60" font-size="8.6" text-anchor="end" font-family='"Liberation Sans", sans-serif' font-weight="bold" fill="#000" >5</text>
<line x1="25.60" y1="646.80" x2="30.60" y2="646.80" stroke="#000" stroke-width="1.5" />
<text x="23.60" y="649.90" font-size="8.6" text-anchor="end" font-family='"Liberation Sans", sans-serif' font-weight="bold" fill="#000" >0</text>
<line x1="49.30" y1="646.80" x2="49.30" y2="651.00" stroke="#000" stroke-width="1.3" />
<line x1="78.20" y1="646.80" x2="78.20" y2="651.00" stroke="#000" stroke-width="1.3" />
<line x1="107.30" y1="646.80" x2="107.30" y2="651.00" stroke="#000" stroke-width="1.3" />
<line x1="136.00" y1="646.80" x2="136.00" y2="651.00" stroke="#000" stroke-width="1.3" />
<line x1="165.00" y1="646.80" x2="165.00" y2="651.00" stroke="#000" stroke-width="1.3" />
<line x1="194.00" y1="646.80" x2="194.00" y2="651.00" stroke="#000" stroke-width="1.3" />
<text transform="translate(49.80 662.00) scale(1.0 1.13)" font-size="6.4" text-anchor="middle" font-family='"Liberation Sans", sans-serif' font-weight="bold" fill="#111" >CD57+</text>
<text transform="translate(78.70 662.00) scale(1.0 1.13)" font-size="6.4" text-anchor="middle" font-family='"Liberation Sans", sans-serif' font-weight="bold" fill="#111" >CD57+</text>
<text transform="translate(78.70 670.60) scale(1.0 1.13)" font-size="6.4" text-anchor="middle" font-family='"Liberation Sans", sans-serif' font-weight="bold" fill="#111" >KLRG1+</text>
<text transform="translate(107.80 662.00) scale(1.0 1.13)" font-size="6.4" text-anchor="middle" font-family='"Liberation Sans", sans-serif' font-weight="bold" fill="#111" >KLRG1+</text>
<text transform="translate(136.50 662.00) scale(1.0 1.13)" font-size="6.4" text-anchor="middle" font-family='"Liberation Sans", sans-serif' font-weight="bold" fill="#111" >CD57+</text>
<text transform="translate(165.50 662.00) scale(1.0 1.13)" font-size="6.4" text-anchor="middle" font-family='"Liberation Sans", sans-serif' font-weight="bold" fill="#111" >CD57+</text>
<text transform="translate(165.50 670.60) scale(1.0 1.13)" font-size="6.4" text-anchor="middle" font-family='"Liberation Sans", sans-serif' font-weight="bold" fill="#111" >KLRG1+</text>
<text transform="translate(194.50 662.00) scale(1.0 1.13)" font-size="6.4" text-anchor="middle" font-family='"Liberation Sans", sans-serif' font-weight="bold" fill="#111" >KLRG1+</text>
<text x="8.20" y="586.00" font-size="10" text-anchor="middle" font-family='"Liberation Sans", sans-serif' font-weight="bold" fill="#000" transform="rotate(-90 8.2 586.0)">CD 45+ T cells</text>
<text x="34.70" y="686.60" font-size="10" text-anchor="start" font-family='"Liberation Sans", sans-serif' font-weight="bold" fill="#111" >Mother Immune senescence markers</text>
<line x1="79.70" y1="527.00" x2="169.60" y2="527.00" stroke="#000" stroke-width="1.9" />
<line x1="79.70" y1="522.00" x2="79.70" y2="532.00" stroke="#000" stroke-width="1.9" />
<line x1="169.60" y1="522.00" x2="169.60" y2="532.00" stroke="#000" stroke-width="1.9" />
<text x="124.20" y="521.50" font-size="8.8" text-anchor="middle" font-family='"Liberation Sans", sans-serif' font-weight="normal" fill="#000" >ns</text>
<line x1="44.70" y1="546.60" x2="126.60" y2="546.60" stroke="#000" stroke-width="1.9" />
<line x1="44.70" y1="541.60" x2="44.70" y2="551.60" stroke="#000" stroke-width="1.9" />
<line x1="126.60" y1="541.60" x2="126.60" y2="551.60" stroke="#000" stroke-width="1.9" />
<text x="85.60" y="541.00" font-size="8.8" text-anchor="middle" font-family='"Liberation Sans", sans-serif' font-weight="normal" fill="#000" >ns</text>
<line x1="110.10" y1="567.90" x2="198.00" y2="567.90" stroke="#000" stroke-width="1.9" />
<line x1="110.10" y1="562.90" x2="110.10" y2="572.90" stroke="#000" stroke-width="1.9" />
<line x1="198.00" y1="562.90" x2="198.00" y2="572.90" stroke="#000" stroke-width="1.9" />
<text x="153.80" y="562.00" font-size="8.8" text-anchor="middle" font-family='"Liberation Sans", sans-serif' font-weight="normal" fill="#000" >ns</text>
<text x="2.00" y="509.70" font-size="15.8" text-anchor="start" font-family='"Liberation Serif", serif' font-weight="normal" fill="#000" >G</text>
<path d="M296.3,568.9L299.2,574.3L293.4,574.3ZM296.3,574.2L299.2,579.6L293.4,579.6ZM296.3,580.3L299.2,585.7L293.4,585.7ZM296.3,587.9L299.2,593.3L293.4,593.3ZM293.5,600.4L296.4,605.8L290.6,605.8ZM298.5,600.4L301.4,605.8L295.6,605.8ZM296.0,603.9L298.9,609.3L293.1,609.3ZM296.0,606.9L298.9,612.3L293.1,612.3ZM296.0,612.3L298.9,617.7L293.1,617.7ZM290.0,617.9L292.9,623.3L287.1,623.3ZM294.0,617.9L296.9,623.3L291.1,623.3ZM298.0,617.9L300.9,623.3L295.1,623.3ZM302.0,617.9L304.9,623.3L299.1,623.3ZM289.0,621.9L291.9,627.3L286.1,627.3ZM293.0,621.9L295.9,627.3L290.1,627.3ZM297.0,621.9L299.9,627.3L294.1,627.3ZM301.0,621.9L303.9,627.3L298.1,627.3ZM305.0,621.9L307.9,627.3L302.1,627.3ZM290.0,625.9L292.9,631.3L287.1,631.3ZM294.0,625.9L296.9,631.3L291.1,631.3ZM298.0,625.9L300.9,631.3L295.1,631.3ZM302.0,625.9L304.9,631.3L299.1,631.3ZM291.0,629.9L293.9,635.3L288.1,635.3ZM295.0,629.9L297.9,635.3L292.1,635.3ZM299.0,629.9L301.9,635.3L296.1,635.3ZM303.0,629.9L305.9,635.3L300.1,635.3ZM292.0,633.4L294.9,638.8L289.1,638.8ZM296.0,633.4L298.9,638.8L293.1,638.8ZM300.0,633.4L302.9,638.8L297.1,638.8ZM319.2,547.0L322.1,552.4L316.3,552.4ZM326.7,547.0L329.6,552.4L323.8,552.4ZM323.8,552.1L326.7,557.5L320.9,557.5ZM323.1,567.3L326.0,572.7L320.2,572.7ZM322.4,572.4L325.3,577.8L319.5,577.8ZM325.3,572.4L328.2,577.8L322.4,577.8ZM323.1,578.2L326.0,583.6L320.2,583.6ZM319.5,584.0L322.4,589.4L316.6,589.4ZM323.1,583.3L326.0,588.7L320.2,588.7ZM327.5,584.0L330.4,589.4L324.6,589.4ZM319.5,591.2L322.4,596.6L316.6,596.6ZM323.1,591.2L326.0,596.6L320.2,596.6ZM327.5,591.2L330.4,596.6L324.6,596.6ZM317.3,602.9L320.2,608.3L314.4,608.3ZM322.4,602.9L325.3,608.3L319.5,608.3ZM316.0,608.4L318.9,613.8L313.1,613.8ZM319.5,609.4L322.4,614.8L316.6,614.8ZM323.1,610.4L326.0,615.8L320.2,615.8ZM328.0,608.4L330.9,613.8L325.1,613.8ZM330.5,609.4L333.4,614.8L327.6,614.8ZM318.8,612.9L321.7,618.3L315.9,618.3ZM327.5,612.9L330.4,618.3L324.6,618.3ZM323.1,619.2L326.0,624.6L320.2,624.6ZM319.5,627.5L322.4,632.9L316.6,632.9ZM323.1,627.5L326.0,632.9L320.2,632.9ZM327.5,627.5L330.4,632.9L324.6,632.9ZM323.1,631.9L326.0,637.3L320.2,637.3ZM350.7,580.3L353.6,585.7L347.8,585.7ZM348.0,590.9L350.9,596.3L345.1,596.3ZM352.0,592.9L354.9,598.3L349.1,598.3ZM350.0,596.9L352.9,602.3L347.1,602.3ZM347.0,605.9L349.9,611.3L344.1,611.3ZM351.0,605.9L353.9,611.3L348.1,611.3ZM349.0,609.9L351.9,615.3L346.1,615.3ZM353.0,609.9L355.9,615.3L350.1,615.3ZM350.0,612.9L352.9,618.3L347.1,618.3ZM346.0,616.9L348.9,622.3L343.1,622.3ZM350.0,616.9L352.9,622.3L347.1,622.3ZM354.0,616.9L356.9,622.3L351.1,622.3ZM345.0,620.9L347.9,626.3L342.1,626.3ZM349.0,620.9L351.9,626.3L346.1,626.3ZM353.0,620.9L355.9,626.3L350.1,626.3ZM357.0,620.9L359.9,626.3L354.1,626.3ZM344.0,624.9L346.9,630.3L341.1,630.3ZM348.0,624.9L350.9,630.3L345.1,630.3ZM352.0,624.9L354.9,630.3L349.1,630.3ZM356.0,624.9L358.9,630.3L353.1,630.3ZM343.0,628.9L345.9,634.3L340.1,634.3ZM347.0,628.9L349.9,634.3L344.1,634.3ZM351.0,628.9L353.9,634.3L348.1,634.3ZM355.0,628.9L357.9,634.3L352.1,634.3ZM359.0,628.9L361.9,634.3L356.1,634.3ZM344.0,632.9L346.9,638.3L341.1,638.3ZM348.0,632.9L350.9,638.3L345.1,638.3ZM352.0,632.9L354.9,638.3L349.1,638.3ZM356.0,632.9L358.9,638.3L353.1,638.3Z" fill="#ff0000"/>
<path d="M378.00,588.15L378.78,590.03L380.81,590.19L379.26,591.51L379.73,593.49L378.00,592.43L376.27,593.49L376.74,591.51L375.19,590.19L377.22,590.03ZM378.00,601.55L378.78,603.43L380.81,603.59L379.26,604.91L379.73,606.89L378.00,605.83L376.27,606.89L376.74,604.91L375.19,603.59L377.22,603.43ZM371.00,618.85L371.78,620.73L373.81,620.89L372.26,622.21L372.73,624.19L371.00,623.13L369.27,624.19L369.74,622.21L368.19,620.89L370.22,620.73ZM375.00,619.35L375.78,621.23L377.81,621.39L376.26,622.71L376.73,624.69L375.00,623.63L373.27,624.69L373.74,622.71L372.19,621.39L374.22,621.23ZM379.00,618.85L379.78,620.73L381.81,620.89L380.26,622.21L380.73,624.19L379.00,623.13L377.27,624.19L377.74,622.21L376.19,620.89L378.22,620.73ZM383.00,619.35L383.78,621.23L385.81,621.39L384.26,622.71L384.73,624.69L383.00,623.63L381.27,624.69L381.74,622.71L380.19,621.39L382.22,621.23ZM385.60,618.35L386.38,620.23L388.41,620.39L386.86,621.71L387.33,623.69L385.60,622.63L383.87,623.69L384.34,621.71L382.79,620.39L384.82,620.23ZM373.00,624.35L373.78,626.23L375.81,626.39L374.26,627.71L374.73,629.69L373.00,628.63L371.27,629.69L371.74,627.71L370.19,626.39L372.22,626.23ZM377.00,625.35L377.78,627.23L379.81,627.39L378.26,628.71L378.73,630.69L377.00,629.63L375.27,630.69L375.74,628.71L374.19,627.39L376.22,627.23ZM381.00,624.35L381.78,626.23L383.81,626.39L382.26,627.71L382.73,629.69L381.00,628.63L379.27,629.69L379.74,627.71L378.19,626.39L380.22,626.23ZM370.50,630.85L371.28,632.73L373.31,632.89L371.76,634.21L372.23,636.19L370.50,635.13L368.77,636.19L369.24,634.21L367.69,632.89L369.72,632.73ZM374.00,628.35L374.78,630.23L376.81,630.39L375.26,631.71L375.73,633.69L374.00,632.63L372.27,633.69L372.74,631.71L371.19,630.39L373.22,630.23ZM378.00,629.35L378.78,631.23L380.81,631.39L379.26,632.71L379.73,634.69L378.00,633.63L376.27,634.69L376.74,632.71L375.19,631.39L377.22,631.23ZM382.00,628.35L382.78,630.23L384.81,630.39L383.26,631.71L383.73,633.69L382.00,632.63L380.27,633.69L380.74,631.71L379.19,630.39L381.22,630.23ZM385.00,630.85L385.78,632.73L387.81,632.89L386.26,634.21L386.73,636.19L385.00,635.13L383.27,636.19L383.74,634.21L382.19,632.89L384.22,632.73ZM405.00,579.45L405.78,581.33L407.81,581.49L406.26,582.81L406.73,584.79L405.00,583.73L403.27,584.79L403.74,582.81L402.19,581.49L404.22,581.33ZM405.00,586.75L405.78,588.63L407.81,588.79L406.26,590.11L406.73,592.09L405.00,591.03L403.27,592.09L403.74,590.11L402.19,588.79L404.22,588.63ZM401.00,592.35L401.78,594.23L403.81,594.39L402.26,595.71L402.73,597.69L401.00,596.63L399.27,597.69L399.74,595.71L398.19,594.39L400.22,594.23ZM405.00,592.35L405.78,594.23L407.81,594.39L406.26,595.71L406.73,597.69L405.00,596.63L403.27,597.69L403.74,595.71L402.19,594.39L404.22,594.23ZM409.00,592.35L409.78,594.23L411.81,594.39L410.26,595.71L410.73,597.69L409.00,596.63L407.27,597.69L407.74,595.71L406.19,594.39L408.22,594.23ZM403.00,604.75L403.78,606.63L405.81,606.79L404.26,608.11L404.73,610.09L403.00,609.03L401.27,610.09L401.74,608.11L400.19,606.79L402.22,606.63ZM410.00,603.45L410.78,605.33L412.81,605.49L411.26,606.81L411.73,608.79L410.00,607.73L408.27,608.79L408.74,606.81L407.19,605.49L409.22,605.33ZM398.00,608.05L398.78,609.93L400.81,610.09L399.26,611.41L399.73,613.39L398.00,612.33L396.27,613.39L396.74,611.41L395.19,610.09L397.22,609.93ZM402.00,610.35L402.78,612.23L404.81,612.39L403.26,613.71L403.73,615.69L402.00,614.63L400.27,615.69L400.74,613.71L399.19,612.39L401.22,612.23ZM406.00,611.35L406.78,613.23L408.81,613.39L407.26,614.71L407.73,616.69L406.00,615.63L404.27,616.69L404.74,614.71L403.19,613.39L405.22,613.23ZM410.00,609.35L410.78,611.23L412.81,611.39L411.26,612.71L411.73,614.69L410.00,613.63L408.27,614.69L408.74,612.71L407.19,611.39L409.22,611.23ZM413.00,608.35L413.78,610.23L415.81,610.39L414.26,611.71L414.73,613.69L413.00,612.63L411.27,613.69L411.74,611.71L410.19,610.39L412.22,610.23ZM405.00,619.65L405.78,621.53L407.81,621.69L406.26,623.01L406.73,624.99L405.00,623.93L403.27,624.99L403.74,623.01L402.19,621.69L404.22,621.53ZM405.00,627.55L405.78,629.43L407.81,629.59L406.26,630.91L406.73,632.89L405.00,631.83L403.27,632.89L403.74,630.91L402.19,629.59L404.22,629.43ZM405.00,634.35L405.78,636.23L407.81,636.39L406.26,637.71L406.73,639.69L405.00,638.63L403.27,639.69L403.74,637.71L402.19,636.39L404.22,636.23ZM427.50,592.55L428.28,594.43L430.31,594.59L428.76,595.91L429.23,597.89L427.50,596.83L425.77,597.89L426.24,595.91L424.69,594.59L426.72,594.43ZM431.00,592.85L431.78,594.73L433.81,594.89L432.26,596.21L432.73,598.19L431.00,597.13L429.27,598.19L429.74,596.21L428.19,594.89L430.22,594.73ZM434.50,592.85L435.28,594.73L437.31,594.89L435.76,596.21L436.23,598.19L434.50,597.13L432.77,598.19L433.24,596.21L431.69,594.89L433.72,594.73ZM438.00,592.55L438.78,594.43L440.81,594.59L439.26,595.91L439.73,597.89L438.00,596.83L436.27,597.89L436.74,595.91L435.19,594.59L437.22,594.43ZM432.30,613.35L433.08,615.23L435.11,615.39L433.56,616.71L434.03,618.69L432.30,617.63L430.57,618.69L431.04,616.71L429.49,615.39L431.52,615.23ZM425.70,618.55L426.48,620.43L428.51,620.59L426.96,621.91L427.43,623.89L425.70,622.83L423.97,623.89L424.44,621.91L422.89,620.59L424.92,620.43ZM438.80,619.95L439.58,621.83L441.61,621.99L440.06,623.31L440.53,625.29L438.80,624.23L437.07,625.29L437.54,623.31L435.99,621.99L438.02,621.83ZM430.50,627.15L431.28,629.03L433.31,629.19L431.76,630.51L432.23,632.49L430.50,631.43L428.77,632.49L429.24,630.51L427.69,629.19L429.72,629.03ZM434.50,627.15L435.28,629.03L437.31,629.19L435.76,630.51L436.23,632.49L434.50,631.43L432.77,632.49L433.24,630.51L431.69,629.19L433.72,629.03ZM426.50,632.35L427.28,634.23L429.31,634.39L427.76,635.71L428.23,637.69L426.50,636.63L424.77,637.69L425.24,635.71L423.69,634.39L425.72,634.23ZM430.50,633.85L431.28,635.73L433.31,635.89L431.76,637.21L432.23,639.19L430.50,638.13L428.77,639.19L429.24,637.21L427.69,635.89L429.72,635.73ZM434.50,633.85L435.28,635.73L437.31,635.89L435.76,637.21L436.23,639.19L434.50,638.13L432.77,639.19L433.24,637.21L431.69,635.89L433.72,635.73ZM438.00,632.35L438.78,634.23L440.81,634.39L439.26,635.71L439.73,637.69L438.00,636.63L436.27,637.69L436.74,635.71L435.19,634.39L437.22,634.23ZM428.00,635.35L428.78,637.23L430.81,637.39L429.26,638.71L429.73,640.69L428.00,639.63L426.27,640.69L426.74,638.71L425.19,637.39L427.22,637.23ZM436.00,635.35L436.78,637.23L438.81,637.39L437.26,638.71L437.73,640.69L436.00,639.63L434.27,640.69L434.74,638.71L433.19,637.39L435.22,637.23Z" fill="#00c000"/>
<line x1="286.80" y1="625.00" x2="305.80" y2="625.00" stroke="#000" stroke-width="1.5" />
<line x1="313.60" y1="598.40" x2="332.60" y2="598.40" stroke="#000" stroke-width="1.5" />
<line x1="341.20" y1="621.50" x2="360.20" y2="621.50" stroke="#000" stroke-width="1.5" />
<line x1="368.50" y1="625.20" x2="387.50" y2="625.20" stroke="#000" stroke-width="1.5" />
<line x1="395.50" y1="611.40" x2="414.50" y2="611.40" stroke="#000" stroke-width="1.5" />
<line x1="422.80" y1="625.00" x2="441.80" y2="625.00" stroke="#000" stroke-width="1.5" />
<line x1="278.20" y1="516.30" x2="278.20" y2="638.60" stroke="#000" stroke-width="1.6" />
<line x1="277.40" y1="637.80" x2="440.00" y2="637.80" stroke="#000" stroke-width="1.7" />
<line x1="273.20" y1="517.00" x2="278.20" y2="517.00" stroke="#000" stroke-width="1.5" />
<text x="271.20" y="520.10" font-size="8.6" text-anchor="end" font-family='"Liberation Sans", sans-serif' font-weight="bold" fill="#000" >20</text>
<line x1="273.20" y1="547.00" x2="278.20" y2="547.00" stroke="#000" stroke-width="1.5" />
<text x="271.20" y="550.10" font-size="8.6" text-anchor="end" font-family='"Liberation Sans", sans-serif' font-weight="bold" fill="#000" >15</text>
<line x1="273.20" y1="577.60" x2="278.20" y2="577.60" stroke="#000" stroke-width="1.5" />
<text x="271.20" y="580.70" font-size="8.6" text-anchor="end" font-family='"Liberation Sans", sans-serif' font-weight="bold" fill="#000" >10</text>
<line x1="273.20" y1="607.80" x2="278.20" y2="607.80" stroke="#000" stroke-width="1.5" />
<text x="271.20" y="610.90" font-size="8.6" text-anchor="end" font-family='"Liberation Sans", sans-serif' font-weight="bold" fill="#000" >5</text>
<line x1="273.20" y1="637.80" x2="278.20" y2="637.80" stroke="#000" stroke-width="1.5" />
<text x="271.20" y="640.90" font-size="8.6" text-anchor="end" font-family='"Liberation Sans", sans-serif' font-weight="bold" fill="#000" >0</text>
<line x1="296.30" y1="637.80" x2="296.30" y2="642.00" stroke="#000" stroke-width="1.3" />
<line x1="323.10" y1="637.80" x2="323.10" y2="642.00" stroke="#000" stroke-width="1.3" />
<line x1="350.70" y1="637.80" x2="350.70" y2="642.00" stroke="#000" stroke-width="1.3" />
<line x1="378.00" y1="637.80" x2="378.00" y2="642.00" stroke="#000" stroke-width="1.3" />
<line x1="405.00" y1="637.80" x2="405.00" y2="642.00" stroke="#000" stroke-width="1.3" />
<line x1="432.30" y1="637.80" x2="432.30" y2="642.00" stroke="#000" stroke-width="1.3" />
<text transform="translate(296.80 653.00) scale(1.0 1.13)" font-size="6.4" text-anchor="middle" font-family='"Liberation Sans", sans-serif' font-weight="bold" fill="#111" >CD57+</text>
<text transform="translate(323.60 653.00) scale(1.0 1.13)" font-size="6.4" text-anchor="middle" font-family='"Liberation Sans", sans-serif' font-weight="bold" fill="#111" >CD57+</text>
<text transform="translate(323.60 661.60) scale(1.0 1.13)" font-size="6.4" text-anchor="middle" font-family='"Liberation Sans", sans-serif' font-weight="bold" fill="#111" >KLRG1+</text>
<text transform="translate(351.20 653.00) scale(1.0 1.13)" font-size="6.4" text-anchor="middle" font-family='"Liberation Sans", sans-serif' font-weight="bold" fill="#111" >KLRG1+</text>
<text transform="translate(378.50 653.00) scale(1.0 1.13)" font-size="6.4" text-anchor="middle" font-family='"Liberation Sans", sans-serif' font-weight="bold" fill="#111" >CD57+</text>
<text transform="translate(405.50 653.00) scale(1.0 1.13)" font-size="6.4" text-anchor="middle" font-family='"Liberation Sans", sans-serif' font-weight="bold" fill="#111" >CD57+</text>
<text transform="translate(405.50 661.60) scale(1.0 1.13)" font-size="6.4" text-anchor="middle" font-family='"Liberation Sans", sans-serif' font-weight="bold" fill="#111" >KLRG1+</text>
<text transform="translate(432.80 653.00) scale(1.0 1.13)" font-size="6.4" text-anchor="middle" font-family='"Liberation Sans", sans-serif' font-weight="bold" fill="#111" >KLRG1+</text>
<text x="256.60" y="577.60" font-size="10" text-anchor="middle" font-family='"Liberation Sans", sans-serif' font-weight="bold" fill="#000" transform="rotate(-90 256.6 577.6)">CD 45+ T cells</text>
<text x="283.90" y="678.80" font-size="9.4" text-anchor="start" font-family='"Liberation Sans", sans-serif' font-weight="bold" fill="#111" >Father Immune senescence markers</text>
<line x1="322.40" y1="521.30" x2="410.40" y2="521.30" stroke="#000" stroke-width="1.9" />
<line x1="322.40" y1="516.30" x2="322.40" y2="526.30" stroke="#000" stroke-width="1.9" />
<line x1="410.40" y1="516.30" x2="410.40" y2="526.30" stroke="#000" stroke-width="1.9" />
<text x="366.70" y="515.50" font-size="8.8" text-anchor="middle" font-family='"Liberation Sans", sans-serif' font-weight="normal" fill="#000" >ns</text>
<line x1="298.60" y1="541.60" x2="377.80" y2="541.60" stroke="#000" stroke-width="1.9" />
<line x1="298.60" y1="536.60" x2="298.60" y2="546.60" stroke="#000" stroke-width="1.9" />
<line x1="377.80" y1="536.60" x2="377.80" y2="546.60" stroke="#000" stroke-width="1.9" />
<text x="338.20" y="536.00" font-size="8.8" text-anchor="middle" font-family='"Liberation Sans", sans-serif' font-weight="normal" fill="#000" >ns</text>
<line x1="351.10" y1="563.50" x2="435.50" y2="563.50" stroke="#000" stroke-width="1.9" />
<line x1="351.10" y1="558.50" x2="351.10" y2="568.50" stroke="#000" stroke-width="1.9" />
<line x1="435.50" y1="558.50" x2="435.50" y2="568.50" stroke="#000" stroke-width="1.9" />
<text x="392.90" y="557.50" font-size="8.8" text-anchor="middle" font-family='"Liberation Sans", sans-serif' font-weight="normal" fill="#000" >ns</text>
<text x="247.80" y="509.50" font-size="15.8" text-anchor="start" font-family='"Liberation Serif", serif' font-weight="normal" fill="#000" >H</text>
<path d="M524.5,605.9L527.4,611.3L521.6,611.3ZM524.5,611.2L527.4,616.6L521.6,616.6ZM526.3,618.0L529.2,623.4L523.4,623.4ZM522.0,621.9L524.9,627.3L519.1,627.3ZM527.0,621.9L529.9,627.3L524.1,627.3ZM518.0,625.9L520.9,631.3L515.1,631.3ZM522.0,625.9L524.9,631.3L519.1,631.3ZM526.0,625.9L528.9,631.3L523.1,631.3ZM530.0,625.9L532.9,631.3L527.1,631.3ZM533.0,625.9L535.9,631.3L530.1,631.3ZM516.0,629.9L518.9,635.3L513.1,635.3ZM520.0,629.9L522.9,635.3L517.1,635.3ZM524.0,629.9L526.9,635.3L521.1,635.3ZM528.0,629.9L530.9,635.3L525.1,635.3ZM532.0,629.9L534.9,635.3L529.1,635.3ZM517.0,633.9L519.9,639.3L514.1,639.3ZM521.0,633.9L523.9,639.3L518.1,639.3ZM525.0,633.9L527.9,639.3L522.1,639.3ZM529.0,633.9L531.9,639.3L526.1,639.3ZM533.0,633.9L535.9,639.3L530.1,639.3ZM518.0,637.9L520.9,643.3L515.1,643.3ZM522.0,637.9L524.9,643.3L519.1,643.3ZM526.0,637.9L528.9,643.3L523.1,643.3ZM530.0,637.9L532.9,643.3L527.1,643.3ZM520.0,641.9L522.9,647.3L517.1,647.3ZM524.0,641.9L526.9,647.3L521.1,647.3ZM528.0,641.9L530.9,647.3L525.1,647.3ZM553.0,553.3L555.9,558.7L550.1,558.7ZM553.0,569.3L555.9,574.7L550.1,574.7ZM550.7,573.1L553.6,578.5L547.8,578.5ZM555.3,576.9L558.2,582.3L552.4,582.3ZM553.0,583.8L555.9,589.2L550.1,589.2ZM550.0,601.3L552.9,606.7L547.1,606.7ZM554.0,601.3L556.9,606.7L551.1,606.7ZM557.5,602.4L560.4,607.8L554.6,607.8ZM552.0,604.3L554.9,609.7L549.1,609.7ZM553.0,608.9L555.9,614.3L550.1,614.3ZM546.0,612.9L548.9,618.3L543.1,618.3ZM550.0,612.9L552.9,618.3L547.1,618.3ZM554.0,612.9L556.9,618.3L551.1,618.3ZM558.0,612.9L560.9,618.3L555.1,618.3ZM545.0,616.9L547.9,622.3L542.1,622.3ZM549.0,616.9L551.9,622.3L546.1,622.3ZM553.0,616.9L555.9,622.3L550.1,622.3ZM557.0,616.9L559.9,622.3L554.1,622.3ZM561.0,616.9L563.9,622.3L558.1,622.3ZM546.0,620.9L548.9,626.3L543.1,626.3ZM550.0,620.9L552.9,626.3L547.1,626.3ZM554.0,620.9L556.9,626.3L551.1,626.3ZM558.0,620.9L560.9,626.3L555.1,626.3ZM548.0,624.9L550.9,630.3L545.1,630.3ZM552.0,624.9L554.9,630.3L549.1,630.3ZM556.0,624.9L558.9,630.3L553.1,630.3ZM553.0,638.6L555.9,644.0L550.1,644.0ZM553.0,643.9L555.9,649.3L550.1,649.3ZM581.1,561.4L584.0,566.8L578.2,566.8ZM581.1,570.1L584.0,575.5L578.2,575.5ZM579.6,585.3L582.5,590.7L576.7,590.7ZM581.9,587.6L584.8,593.0L579.0,593.0ZM578.0,593.7L580.9,599.1L575.1,599.1ZM581.0,593.7L583.9,599.1L578.1,599.1ZM584.0,593.7L586.9,599.1L581.1,599.1ZM581.1,603.6L584.0,609.0L578.2,609.0ZM581.1,612.7L584.0,618.1L578.2,618.1ZM575.0,629.9L577.9,635.3L572.1,635.3ZM579.0,629.9L581.9,635.3L576.1,635.3ZM583.0,629.9L585.9,635.3L580.1,635.3ZM587.0,629.9L589.9,635.3L584.1,635.3ZM574.0,633.9L576.9,639.3L571.1,639.3ZM578.0,633.9L580.9,639.3L575.1,639.3ZM582.0,633.9L584.9,639.3L579.1,639.3ZM586.0,633.9L588.9,639.3L583.1,639.3ZM575.0,637.9L577.9,643.3L572.1,643.3ZM579.0,637.9L581.9,643.3L576.1,643.3ZM583.0,637.9L585.9,643.3L580.1,643.3ZM587.0,637.9L589.9,643.3L584.1,643.3ZM573.0,641.9L575.9,647.3L570.1,647.3ZM577.0,641.9L579.9,647.3L574.1,647.3ZM581.0,641.9L583.9,647.3L578.1,647.3ZM585.0,641.9L587.9,647.3L582.1,647.3ZM589.0,641.9L591.9,647.3L586.1,647.3ZM576.0,644.4L578.9,649.8L573.1,649.8ZM580.0,644.4L582.9,649.8L577.1,649.8ZM584.0,644.4L586.9,649.8L581.1,649.8Z" fill="#ff0000"/>
<path d="M611.50,621.85L612.28,623.73L614.31,623.89L612.76,625.21L613.23,627.19L611.50,626.13L609.77,627.19L610.24,625.21L608.69,623.89L610.72,623.73ZM602.00,625.35L602.78,627.23L604.81,627.39L603.26,628.71L603.73,630.69L602.00,629.63L600.27,630.69L600.74,628.71L599.19,627.39L601.22,627.23ZM606.00,625.35L606.78,627.23L608.81,627.39L607.26,628.71L607.73,630.69L606.00,629.63L604.27,630.69L604.74,628.71L603.19,627.39L605.22,627.23ZM610.00,625.35L610.78,627.23L612.81,627.39L611.26,628.71L611.73,630.69L610.00,629.63L608.27,630.69L608.74,628.71L607.19,627.39L609.22,627.23ZM614.00,625.35L614.78,627.23L616.81,627.39L615.26,628.71L615.73,630.69L614.00,629.63L612.27,630.69L612.74,628.71L611.19,627.39L613.22,627.23ZM601.00,628.35L601.78,630.23L603.81,630.39L602.26,631.71L602.73,633.69L601.00,632.63L599.27,633.69L599.74,631.71L598.19,630.39L600.22,630.23ZM605.00,628.35L605.78,630.23L607.81,630.39L606.26,631.71L606.73,633.69L605.00,632.63L603.27,633.69L603.74,631.71L602.19,630.39L604.22,630.23ZM609.00,628.35L609.78,630.23L611.81,630.39L610.26,631.71L610.73,633.69L609.00,632.63L607.27,633.69L607.74,631.71L606.19,630.39L608.22,630.23ZM613.00,628.35L613.78,630.23L615.81,630.39L614.26,631.71L614.73,633.69L613.00,632.63L611.27,633.69L611.74,631.71L610.19,630.39L612.22,630.23ZM617.00,628.35L617.78,630.23L619.81,630.39L618.26,631.71L618.73,633.69L617.00,632.63L615.27,633.69L615.74,631.71L614.19,630.39L616.22,630.23ZM603.00,631.35L603.78,633.23L605.81,633.39L604.26,634.71L604.73,636.69L603.00,635.63L601.27,636.69L601.74,634.71L600.19,633.39L602.22,633.23ZM607.00,631.35L607.78,633.23L609.81,633.39L608.26,634.71L608.73,636.69L607.00,635.63L605.27,636.69L605.74,634.71L604.19,633.39L606.22,633.23ZM611.00,631.35L611.78,633.23L613.81,633.39L612.26,634.71L612.73,636.69L611.00,635.63L609.27,636.69L609.74,634.71L608.19,633.39L610.22,633.23ZM615.00,631.35L615.78,633.23L617.81,633.39L616.26,634.71L616.73,636.69L615.00,635.63L613.27,636.69L613.74,634.71L612.19,633.39L614.22,633.23ZM602.00,635.35L602.78,637.23L604.81,637.39L603.26,638.71L603.73,640.69L602.00,639.63L600.27,640.69L600.74,638.71L599.19,637.39L601.22,637.23ZM606.00,635.35L606.78,637.23L608.81,637.39L607.26,638.71L607.73,640.69L606.00,639.63L604.27,640.69L604.74,638.71L603.19,637.39L605.22,637.23ZM610.00,635.35L610.78,637.23L612.81,637.39L611.26,638.71L611.73,640.69L610.00,639.63L608.27,640.69L608.74,638.71L607.19,637.39L609.22,637.23ZM614.00,635.35L614.78,637.23L616.81,637.39L615.26,638.71L615.73,640.69L614.00,639.63L612.27,640.69L612.74,638.71L611.19,637.39L613.22,637.23ZM617.00,635.35L617.78,637.23L619.81,637.39L618.26,638.71L618.73,640.69L617.00,639.63L615.27,640.69L615.74,638.71L614.19,637.39L616.22,637.23ZM604.00,638.35L604.78,640.23L606.81,640.39L605.26,641.71L605.73,643.69L604.00,642.63L602.27,643.69L602.74,641.71L601.19,640.39L603.22,640.23ZM608.00,638.35L608.78,640.23L610.81,640.39L609.26,641.71L609.73,643.69L608.00,642.63L606.27,643.69L606.74,641.71L605.19,640.39L607.22,640.23ZM612.00,638.35L612.78,640.23L614.81,640.39L613.26,641.71L613.73,643.69L612.00,642.63L610.27,643.69L610.74,641.71L609.19,640.39L611.22,640.23ZM606.00,641.35L606.78,643.23L608.81,643.39L607.26,644.71L607.73,646.69L606.00,645.63L604.27,646.69L604.74,644.71L603.19,643.39L605.22,643.23ZM610.00,641.35L610.78,643.23L612.81,643.39L611.26,644.71L611.73,646.69L610.00,645.63L608.27,646.69L608.74,644.71L607.19,643.39L609.22,643.23ZM633.70,571.25L634.48,573.13L636.51,573.29L634.96,574.61L635.43,576.59L633.70,575.53L631.97,576.59L632.44,574.61L630.89,573.29L632.92,573.13ZM640.60,573.35L641.38,575.23L643.41,575.39L641.86,576.71L642.33,578.69L640.60,577.63L638.87,578.69L639.34,576.71L637.79,575.39L639.82,575.23ZM637.20,577.85L637.98,579.73L640.01,579.89L638.46,581.21L638.93,583.19L637.20,582.13L635.47,583.19L635.94,581.21L634.39,579.89L636.42,579.73ZM637.20,583.95L637.98,585.83L640.01,585.99L638.46,587.31L638.93,589.29L637.20,588.23L635.47,589.29L635.94,587.31L634.39,585.99L636.42,585.83ZM637.20,591.35L637.98,593.23L640.01,593.39L638.46,594.71L638.93,596.69L637.20,595.63L635.47,596.69L635.94,594.71L634.39,593.39L636.42,593.23ZM635.50,601.45L636.28,603.33L638.31,603.49L636.76,604.81L637.23,606.79L635.50,605.73L633.77,606.79L634.24,604.81L632.69,603.49L634.72,603.33ZM639.00,601.45L639.78,603.33L641.81,603.49L640.26,604.81L640.73,606.79L639.00,605.73L637.27,606.79L637.74,604.81L636.19,603.49L638.22,603.33ZM644.80,607.05L645.58,608.93L647.61,609.09L646.06,610.41L646.53,612.39L644.80,611.33L643.07,612.39L643.54,610.41L641.99,609.09L644.02,608.93ZM630.00,608.35L630.78,610.23L632.81,610.39L631.26,611.71L631.73,613.69L630.00,612.63L628.27,613.69L628.74,611.71L627.19,610.39L629.22,610.23ZM634.00,611.35L634.78,613.23L636.81,613.39L635.26,614.71L635.73,616.69L634.00,615.63L632.27,616.69L632.74,614.71L631.19,613.39L633.22,613.23ZM638.00,610.35L638.78,612.23L640.81,612.39L639.26,613.71L639.73,615.69L638.00,614.63L636.27,615.69L636.74,613.71L635.19,612.39L637.22,612.23ZM642.00,611.35L642.78,613.23L644.81,613.39L643.26,614.71L643.73,616.69L642.00,615.63L640.27,616.69L640.74,614.71L639.19,613.39L641.22,613.23ZM645.00,609.35L645.78,611.23L647.81,611.39L646.26,612.71L646.73,614.69L645.00,613.63L643.27,614.69L643.74,612.71L642.19,611.39L644.22,611.23ZM632.00,614.35L632.78,616.23L634.81,616.39L633.26,617.71L633.73,619.69L632.00,618.63L630.27,619.69L630.74,617.71L629.19,616.39L631.22,616.23ZM636.00,615.35L636.78,617.23L638.81,617.39L637.26,618.71L637.73,620.69L636.00,619.63L634.27,620.69L634.74,618.71L633.19,617.39L635.22,617.23ZM640.00,614.35L640.78,616.23L642.81,616.39L641.26,617.71L641.73,619.69L640.00,618.63L638.27,619.69L638.74,617.71L637.19,616.39L639.22,616.23ZM637.20,618.35L637.98,620.23L640.01,620.39L638.46,621.71L638.93,623.69L637.20,622.63L635.47,623.69L635.94,621.71L634.39,620.39L636.42,620.23ZM637.20,638.45L637.98,640.33L640.01,640.49L638.46,641.81L638.93,643.79L637.20,642.73L635.47,643.79L635.94,641.81L634.39,640.49L636.42,640.33ZM637.20,644.05L637.98,645.93L640.01,646.09L638.46,647.41L638.93,649.39L637.20,648.33L635.47,649.39L635.94,647.41L634.39,646.09L636.42,645.93ZM665.30,595.45L666.08,597.33L668.11,597.49L666.56,598.81L667.03,600.79L665.30,599.73L663.57,600.79L664.04,598.81L662.49,597.49L664.52,597.33ZM663.50,612.85L664.28,614.73L666.31,614.89L664.76,616.21L665.23,618.19L663.50,617.13L661.77,618.19L662.24,616.21L660.69,614.89L662.72,614.73ZM667.00,612.85L667.78,614.73L669.81,614.89L668.26,616.21L668.73,618.19L667.00,617.13L665.27,618.19L665.74,616.21L664.19,614.89L666.22,614.73ZM664.90,621.15L665.68,623.03L667.71,623.19L666.16,624.51L666.63,626.49L664.90,625.43L663.17,626.49L663.64,624.51L662.09,623.19L664.12,623.03ZM657.00,630.85L657.78,632.73L659.81,632.89L658.26,634.21L658.73,636.19L657.00,635.13L655.27,636.19L655.74,634.21L654.19,632.89L656.22,632.73ZM661.00,630.85L661.78,632.73L663.81,632.89L662.26,634.21L662.73,636.19L661.00,635.13L659.27,636.19L659.74,634.21L658.19,632.89L660.22,632.73ZM665.00,630.85L665.78,632.73L667.81,632.89L666.26,634.21L666.73,636.19L665.00,635.13L663.27,636.19L663.74,634.21L662.19,632.89L664.22,632.73ZM669.00,630.85L669.78,632.73L671.81,632.89L670.26,634.21L670.73,636.19L669.00,635.13L667.27,636.19L667.74,634.21L666.19,632.89L668.22,632.73ZM673.00,630.85L673.78,632.73L675.81,632.89L674.26,634.21L674.73,636.19L673.00,635.13L671.27,636.19L671.74,634.21L670.19,632.89L672.22,632.73ZM658.00,636.35L658.78,638.23L660.81,638.39L659.26,639.71L659.73,641.69L658.00,640.63L656.27,641.69L656.74,639.71L655.19,638.39L657.22,638.23ZM663.00,637.35L663.78,639.23L665.81,639.39L664.26,640.71L664.73,642.69L663.00,641.63L661.27,642.69L661.74,640.71L660.19,639.39L662.22,639.23ZM668.00,636.35L668.78,638.23L670.81,638.39L669.26,639.71L669.73,641.69L668.00,640.63L666.27,641.69L666.74,639.71L665.19,638.39L667.22,638.23ZM672.00,637.35L672.78,639.23L674.81,639.39L673.26,640.71L673.73,642.69L672.00,641.63L670.27,642.69L670.74,640.71L669.19,639.39L671.22,639.23ZM660.00,641.35L660.78,643.23L662.81,643.39L661.26,644.71L661.73,646.69L660.00,645.63L658.27,646.69L658.74,644.71L657.19,643.39L659.22,643.23ZM665.00,641.35L665.78,643.23L667.81,643.39L666.26,644.71L666.73,646.69L665.00,645.63L663.27,646.69L663.74,644.71L662.19,643.39L664.22,643.23ZM670.00,641.35L670.78,643.23L672.81,643.39L671.26,644.71L671.73,646.69L670.00,645.63L668.27,646.69L668.74,644.71L667.19,643.39L669.22,643.23ZM662.00,644.85L662.78,646.73L664.81,646.89L663.26,648.21L663.73,650.19L662.00,649.13L660.27,650.19L660.74,648.21L659.19,646.89L661.22,646.73ZM667.00,644.85L667.78,646.73L669.81,646.89L668.26,648.21L668.73,650.19L667.00,649.13L665.27,650.19L665.74,648.21L664.19,646.89L666.22,646.73Z" fill="#00c000"/>
<line x1="515.00" y1="635.90" x2="534.00" y2="635.90" stroke="#000" stroke-width="1.5" />
<line x1="543.50" y1="617.80" x2="562.50" y2="617.80" stroke="#000" stroke-width="1.5" />
<line x1="571.60" y1="634.10" x2="590.60" y2="634.10" stroke="#000" stroke-width="1.5" />
<line x1="599.60" y1="636.30" x2="618.60" y2="636.30" stroke="#000" stroke-width="1.5" />
<line x1="627.70" y1="612.30" x2="646.70" y2="612.30" stroke="#000" stroke-width="1.5" />
<line x1="655.40" y1="636.00" x2="674.40" y2="636.00" stroke="#000" stroke-width="1.5" />
<line x1="506.00" y1="528.30" x2="506.00" y2="648.50" stroke="#000" stroke-width="1.6" />
<line x1="505.20" y1="647.70" x2="683.00" y2="647.70" stroke="#000" stroke-width="1.7" />
<line x1="501.00" y1="529.00" x2="506.00" y2="529.00" stroke="#000" stroke-width="1.5" />
<text x="499.00" y="532.10" font-size="8.6" text-anchor="end" font-family='"Liberation Sans", sans-serif' font-weight="bold" fill="#000" >20</text>
<line x1="501.00" y1="559.00" x2="506.00" y2="559.00" stroke="#000" stroke-width="1.5" />
<text x="499.00" y="562.10" font-size="8.6" text-anchor="end" font-family='"Liberation Sans", sans-serif' font-weight="bold" fill="#000" >15</text>
<line x1="501.00" y1="588.50" x2="506.00" y2="588.50" stroke="#000" stroke-width="1.5" />
<text x="499.00" y="591.60" font-size="8.6" text-anchor="end" font-family='"Liberation Sans", sans-serif' font-weight="bold" fill="#000" >10</text>
<line x1="501.00" y1="618.00" x2="506.00" y2="618.00" stroke="#000" stroke-width="1.5" />
<text x="499.00" y="621.10" font-size="8.6" text-anchor="end" font-family='"Liberation Sans", sans-serif' font-weight="bold" fill="#000" >5</text>
<line x1="501.00" y1="647.70" x2="506.00" y2="647.70" stroke="#000" stroke-width="1.5" />
<text x="499.00" y="650.80" font-size="8.6" text-anchor="end" font-family='"Liberation Sans", sans-serif' font-weight="bold" fill="#000" >0</text>
<line x1="524.50" y1="647.70" x2="524.50" y2="651.90" stroke="#000" stroke-width="1.3" />
<line x1="553.00" y1="647.70" x2="553.00" y2="651.90" stroke="#000" stroke-width="1.3" />
<line x1="581.10" y1="647.70" x2="581.10" y2="651.90" stroke="#000" stroke-width="1.3" />
<line x1="609.10" y1="647.70" x2="609.10" y2="651.90" stroke="#000" stroke-width="1.3" />
<line x1="637.20" y1="647.70" x2="637.20" y2="651.90" stroke="#000" stroke-width="1.3" />
<line x1="664.90" y1="647.70" x2="664.90" y2="651.90" stroke="#000" stroke-width="1.3" />
<text transform="translate(525.00 661.60) scale(1.0 1.13)" font-size="6.4" text-anchor="middle" font-family='"Liberation Sans", sans-serif' font-weight="bold" fill="#111" >CD57+</text>
<text transform="translate(553.50 661.60) scale(1.0 1.13)" font-size="6.4" text-anchor="middle" font-family='"Liberation Sans", sans-serif' font-weight="bold" fill="#111" >CD57+</text>
<text transform="translate(553.50 670.20) scale(1.0 1.13)" font-size="6.4" text-anchor="middle" font-family='"Liberation Sans", sans-serif' font-weight="bold" fill="#111" >KLRG1+</text>
<text transform="translate(581.60 661.60) scale(1.0 1.13)" font-size="6.4" text-anchor="middle" font-family='"Liberation Sans", sans-serif' font-weight="bold" fill="#111" >KLRG1+</text>
<text transform="translate(609.60 661.60) scale(1.0 1.13)" font-size="6.4" text-anchor="middle" font-family='"Liberation Sans", sans-serif' font-weight="bold" fill="#111" >CD57+</text>
<text transform="translate(637.70 661.60) scale(1.0 1.13)" font-size="6.4" text-anchor="middle" font-family='"Liberation Sans", sans-serif' font-weight="bold" fill="#111" >CD57+</text>
<text transform="translate(637.70 670.20) scale(1.0 1.13)" font-size="6.4" text-anchor="middle" font-family='"Liberation Sans", sans-serif' font-weight="bold" fill="#111" >KLRG1+</text>
<text transform="translate(665.40 661.60) scale(1.0 1.13)" font-size="6.4" text-anchor="middle" font-family='"Liberation Sans", sans-serif' font-weight="bold" fill="#111" >KLRG1+</text>
<text x="484.70" y="588.60" font-size="10" text-anchor="middle" font-family='"Liberation Sans", sans-serif' font-weight="bold" fill="#000" transform="rotate(-90 484.7 588.6)">CD 45+ T cells</text>
<text x="506.10" y="687.70" font-size="9.7" text-anchor="start" font-family='"Liberation Sans", sans-serif' font-weight="bold" fill="#111" >Newborn Immune senescence markers</text>
<line x1="546.70" y1="525.30" x2="639.00" y2="525.30" stroke="#000" stroke-width="1.9" />
<line x1="546.70" y1="520.30" x2="546.70" y2="530.30" stroke="#000" stroke-width="1.9" />
<line x1="639.00" y1="520.30" x2="639.00" y2="530.30" stroke="#000" stroke-width="1.9" />
<text x="594.40" y="520.00" font-size="8.8" text-anchor="middle" font-family='"Liberation Sans", sans-serif' font-weight="normal" fill="#000" >∗0.045</text>
<line x1="519.80" y1="547.30" x2="612.20" y2="547.30" stroke="#000" stroke-width="1.9" />
<line x1="519.80" y1="542.30" x2="519.80" y2="552.30" stroke="#000" stroke-width="1.9" />
<line x1="612.20" y1="542.30" x2="612.20" y2="552.30" stroke="#000" stroke-width="1.9" />
<text x="565.80" y="542.00" font-size="8.8" text-anchor="middle" font-family='"Liberation Sans", sans-serif' font-weight="normal" fill="#000" >ns</text>
<line x1="580.80" y1="558.30" x2="665.50" y2="558.30" stroke="#000" stroke-width="1.9" />
<line x1="580.80" y1="553.30" x2="580.80" y2="563.30" stroke="#000" stroke-width="1.9" />
<line x1="665.50" y1="553.30" x2="665.50" y2="563.30" stroke="#000" stroke-width="1.9" />
<text x="622.90" y="552.50" font-size="8.8" text-anchor="middle" font-family='"Liberation Sans", sans-serif' font-weight="normal" fill="#000" >ns</text>
<text x="477.80" y="509.50" font-size="15.8" text-anchor="start" font-family='"Liberation Serif", serif' font-weight="normal" fill="#000" >I</text>
</svg>
</body></html>
